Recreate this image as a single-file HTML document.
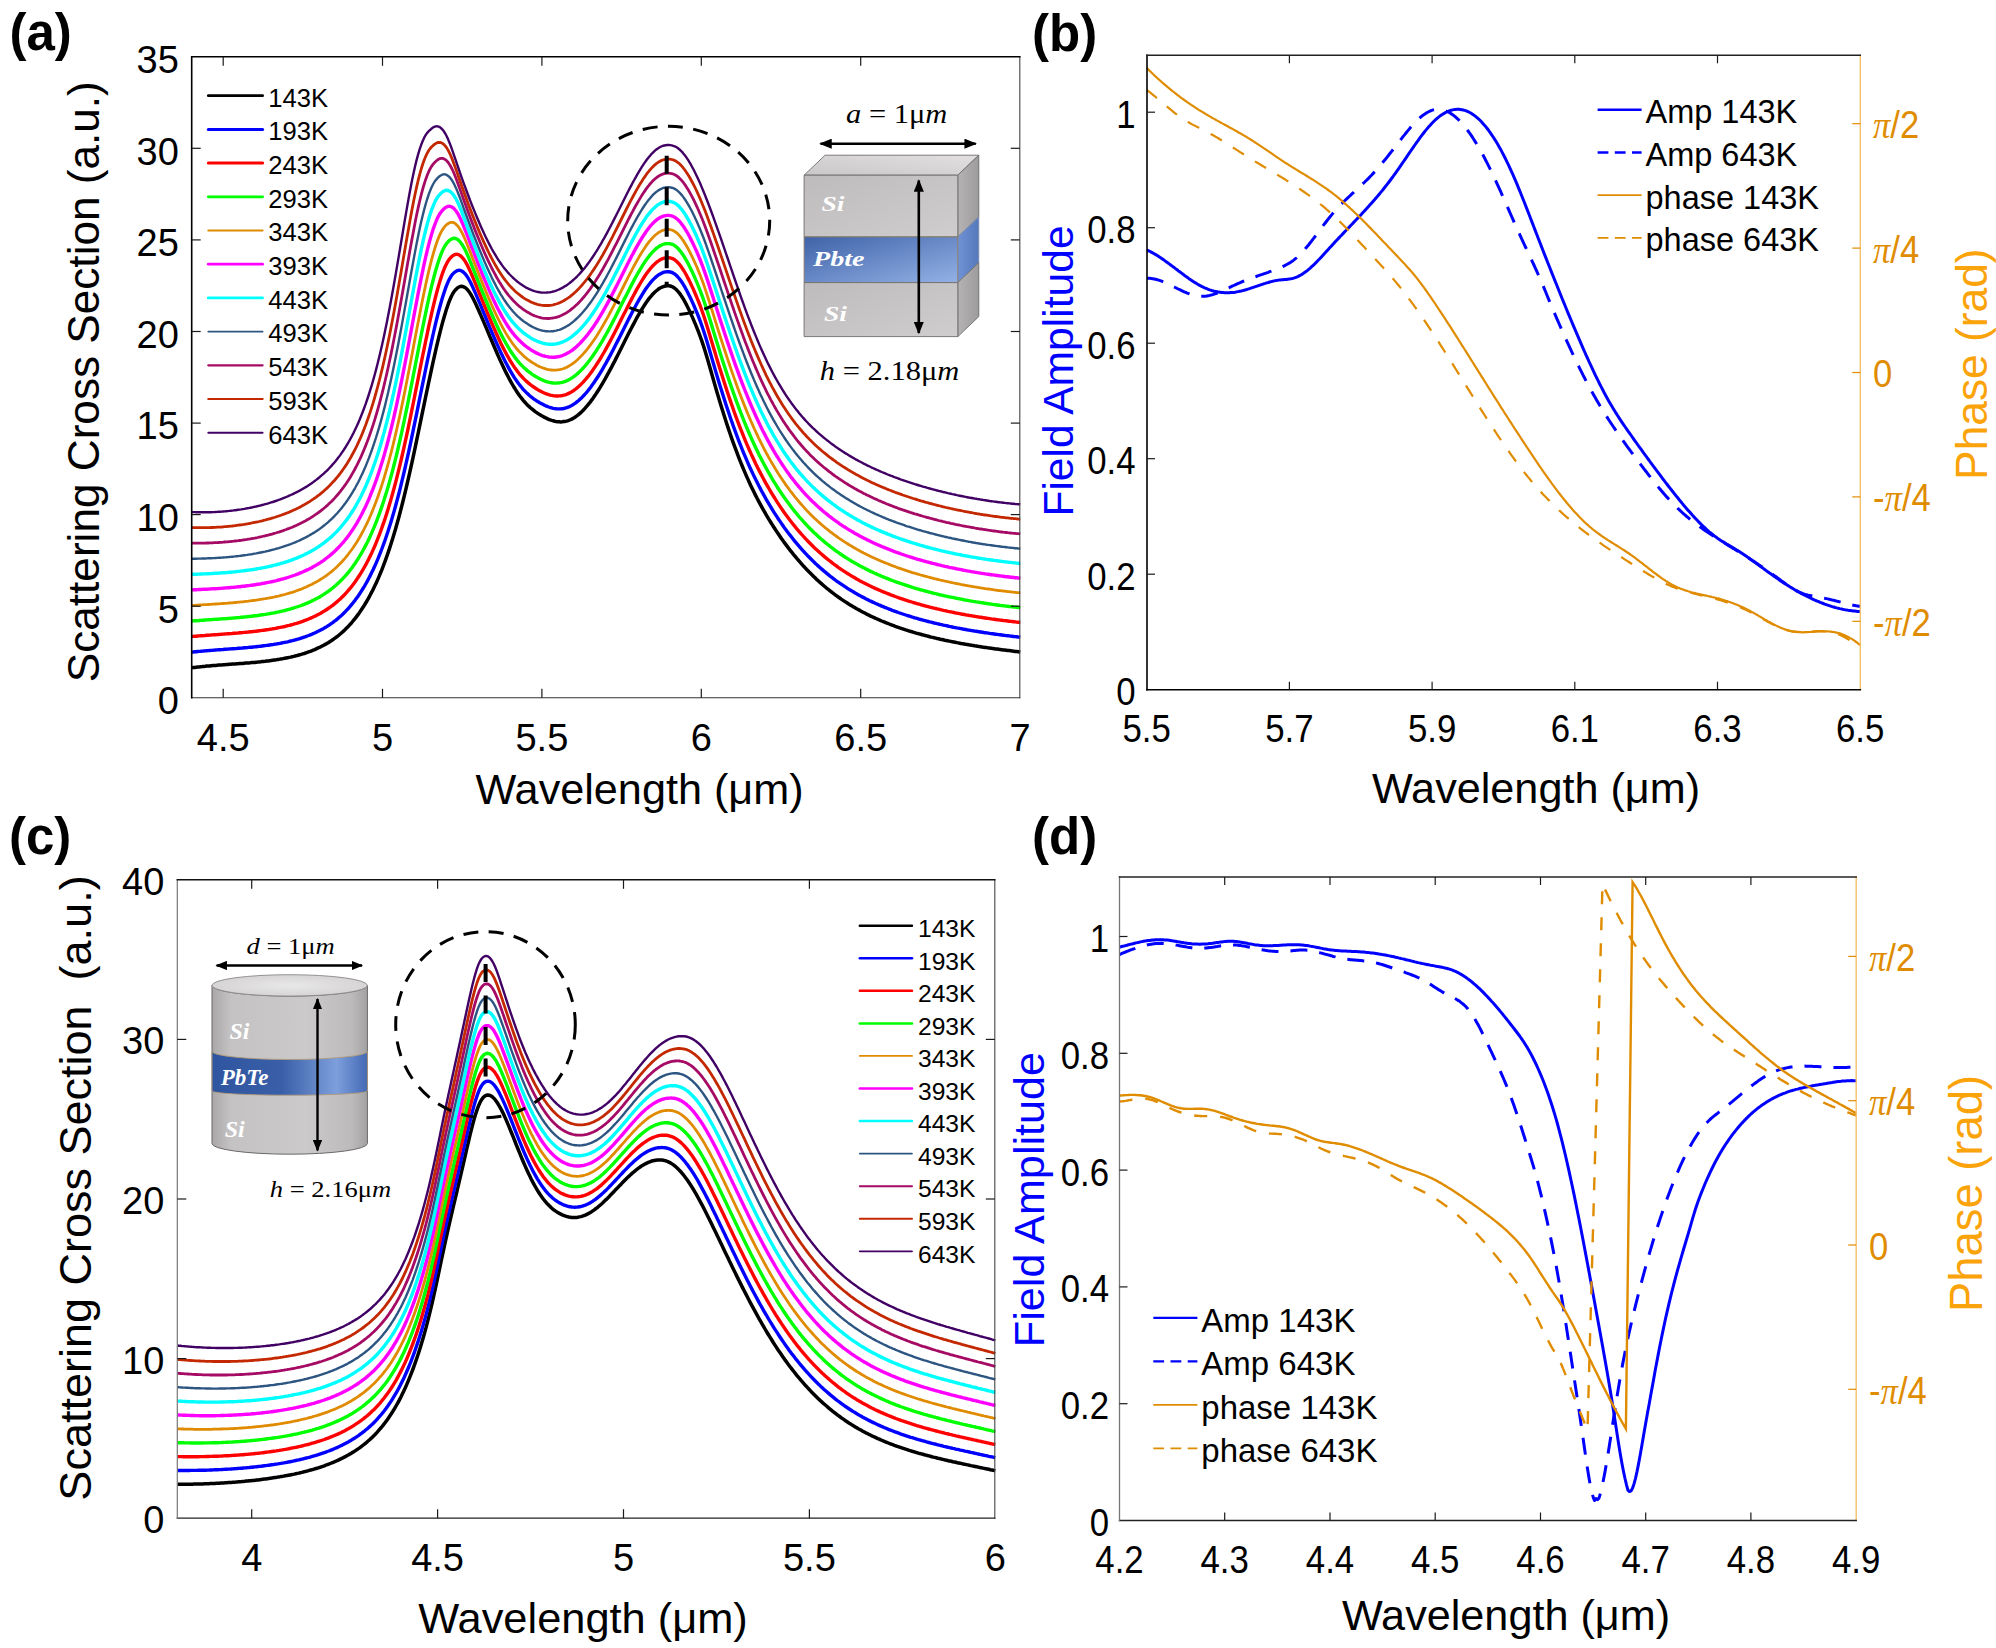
<!DOCTYPE html>
<html><head><meta charset="utf-8"><title>Figure</title>
<style>html,body{margin:0;padding:0;background:#fff}svg{display:block}</style>
</head><body>
<svg width="1996" height="1648" viewBox="0 0 1996 1648" font-family="'Liberation Sans', sans-serif">
<rect width="1996" height="1648" fill="#fff"/>
<defs>
<linearGradient id="gSiF" x1="0" y1="0" x2="1" y2="1"><stop offset="0" stop-color="#bdbbbb"/><stop offset="1" stop-color="#cfcdcd"/></linearGradient>
<linearGradient id="gSiT" x1="0" y1="1" x2="1" y2="0"><stop offset="0" stop-color="#c9c7c7"/><stop offset="1" stop-color="#e2e0e0"/></linearGradient>
<linearGradient id="gSiS" x1="0" y1="0" x2="1" y2="0"><stop offset="0" stop-color="#b5b3b3"/><stop offset="1" stop-color="#9d9b9b"/></linearGradient>
<linearGradient id="gPbF" x1="0" y1="0" x2="1" y2="1"><stop offset="0" stop-color="#3f63a8"/><stop offset="1" stop-color="#93b1e6"/></linearGradient>
<linearGradient id="gPbS" x1="0" y1="0" x2="1" y2="0"><stop offset="0" stop-color="#6f93d4"/><stop offset="1" stop-color="#5578ba"/></linearGradient>
<linearGradient id="gCyl" x1="0" y1="0" x2="1" y2="0"><stop offset="0" stop-color="#a9a7a7"/><stop offset="0.12" stop-color="#c4c2c2"/><stop offset="0.6" stop-color="#cbc9c9"/><stop offset="0.9" stop-color="#bcbaba"/><stop offset="1" stop-color="#a3a1a1"/></linearGradient>
<linearGradient id="gCylPb" x1="0" y1="0" x2="1" y2="0"><stop offset="0" stop-color="#2f55a0"/><stop offset="0.45" stop-color="#3a5fa8"/><stop offset="0.8" stop-color="#7d9fdc"/><stop offset="1" stop-color="#4469b4"/></linearGradient>
<radialGradient id="gCylTop" cx="0.5" cy="0.5" r="0.6"><stop offset="0" stop-color="#e9e8e8"/><stop offset="1" stop-color="#d2d0d0"/></radialGradient>
<marker id="ah" viewBox="0 0 10 10" refX="9" refY="5" markerWidth="4.8" markerHeight="3.9" orient="auto-start-reverse" preserveAspectRatio="none"><path d="M0 0L10 5L0 10z" fill="#000"/></marker>
</defs>
<g id="pa">
<clipPath id="ca"><rect x="191.7" y="56.8" width="829.6" height="641"/></clipPath>
<g clip-path="url(#ca)" fill="none" stroke-linejoin="round">
<path d="M191.7 667.7L193.2 667.5L194.7 667.4L196.2 667.2L197.7 667L199.2 666.9L200.7 666.7L202.2 666.6L203.7 666.4L205.2 666.3L206.7 666.1L208.2 666L209.7 665.9L211.2 665.7L212.7 665.6L214.2 665.5L215.7 665.4L217.2 665.2L218.7 665.1L220.2 665L221.7 664.9L223.2 664.8L224.7 664.7L226.2 664.6L227.7 664.5L229.2 664.3L230.7 664.2L232.2 664.1L233.7 664L235.2 663.9L236.7 663.8L238.2 663.7L239.7 663.6L241.2 663.5L242.7 663.4L244.2 663.2L245.7 663.1L247.2 663L248.7 662.9L250.2 662.8L251.7 662.6L253.2 662.5L254.7 662.4L256.2 662.2L257.7 662.1L259.2 661.9L260.7 661.8L262.2 661.6L263.7 661.4L265.2 661.3L266.7 661.1L268.2 660.9L269.7 660.7L271.2 660.5L272.7 660.3L274.2 660.1L275.7 659.9L277.2 659.6L278.7 659.4L280.2 659.1L281.7 658.9L283.2 658.6L284.7 658.3L286.2 658L287.7 657.7L289.2 657.4L290.7 657.1L292.2 656.7L293.7 656.4L295.2 656L296.7 655.6L298.2 655.2L299.7 654.8L301.2 654.4L302.7 653.9L304.2 653.5L305.7 653L307.2 652.4L308.7 651.9L310.2 651.4L311.7 650.8L313.2 650.2L314.7 649.6L316.2 648.9L317.7 648.2L319.2 647.5L320.7 646.8L322.2 646L323.7 645.2L325.2 644.4L326.7 643.6L328.2 642.7L329.7 641.7L331.2 640.8L332.7 639.8L334.2 638.7L335.7 637.6L337.2 636.5L338.7 635.3L340.2 634L341.7 632.7L343.2 631.4L344.7 630L346.2 628.5L347.7 627L349.2 625.4L350.7 623.8L352.2 622L353.7 620.2L355.2 618.4L356.7 616.4L358.2 614.4L359.7 612.3L361.2 610.1L362.7 607.8L364.2 605.5L365.7 603L367.2 600.5L368.7 597.8L370.2 595L371.7 592.2L373.2 589.2L374.7 586.1L376.2 582.9L377.7 579.6L379.2 576.1L380.7 572.5L382.2 568.8L383.7 564.9L385.2 560.9L386.7 556.7L388.2 552.4L389.7 547.9L391.2 543.3L392.7 538.5L394.2 533.6L395.7 528.4L397.2 523.1L398.7 517.7L400.2 512L401.7 506.2L403.2 500.3L404.7 494.2L406.2 487.9L407.7 481.4L409.2 474.9L410.7 468.1L412.2 461.3L413.7 454.3L415.2 447.3L416.7 440.2L418.2 433L419.7 425.7L421.2 418.4L422.7 411.2L424.2 403.9L425.7 396.7L427.2 389.5L428.7 382.4L430.2 375.4L431.7 368.4L433.2 361.5L434.7 354.8L436.2 348.2L437.7 341.8L439.2 335.6L440.7 329.6L442.2 323.9L443.7 318.5L445.2 313.4L446.7 308.6L448.2 304.2L449.7 300.2L451.2 296.8L452.7 293.8L454.2 291.4L455.7 289.6L457.2 288.2L458.7 287.1L460.2 286.5L461.7 286.3L463.2 286.6L464.7 287.3L466.2 288.4L467.7 290L469.2 291.9L470.7 294.2L472.2 296.8L473.7 299.7L475.2 302.8L476.7 306L478.2 309.3L479.7 312.7L481.2 316.1L482.7 319.6L484.2 323.1L485.7 326.6L487.2 330.2L488.7 333.7L490.2 337.3L491.7 340.8L493.2 344.3L494.7 347.8L496.2 351.3L497.7 354.7L499.2 358.1L500.7 361.4L502.2 364.6L503.7 367.8L505.2 370.9L506.7 373.9L508.2 376.8L509.7 379.7L511.2 382.4L512.7 385L514.2 387.5L515.7 389.9L517.2 392.2L518.7 394.4L520.2 396.5L521.7 398.4L523.2 400.3L524.7 402L526.2 403.7L527.7 405.2L529.2 406.6L530.7 408L532.2 409.2L533.7 410.4L535.2 411.6L536.7 412.6L538.2 413.6L539.7 414.6L541.2 415.5L542.7 416.3L544.2 417.2L545.7 417.9L547.2 418.6L548.7 419.3L550.2 419.9L551.7 420.4L553.2 420.8L554.7 421.2L556.2 421.5L557.7 421.7L559.2 421.8L560.7 421.9L562.2 421.8L563.7 421.6L565.2 421.4L566.7 421.1L568.2 420.6L569.7 420L571.2 419.4L572.7 418.6L574.2 417.7L575.7 416.7L577.2 415.6L578.7 414.4L580.2 413.1L581.7 411.7L583.2 410.2L584.7 408.6L586.2 406.9L587.7 405.2L589.2 403.3L590.7 401.4L592.2 399.4L593.7 397.2L595.2 395.1L596.7 392.8L598.2 390.5L599.7 388.1L601.2 385.6L602.7 383.1L604.2 380.5L605.7 377.9L607.2 375.2L608.7 372.4L610.2 369.6L611.7 366.8L613.2 363.9L614.7 361.1L616.2 358.1L617.7 355.2L619.2 352.2L620.7 349.2L622.2 346.2L623.7 343.3L625.2 340.3L626.7 337.3L628.2 334.3L629.7 331.4L631.2 328.5L632.7 325.6L634.2 322.8L635.7 320L637.2 317.2L638.7 314.6L640.2 312L641.7 309.5L643.2 307.1L644.7 304.8L646.2 302.5L647.7 300.4L649.2 298.4L650.7 296.6L652.2 294.8L653.7 293.2L655.2 291.8L656.7 290.5L658.2 289.3L659.7 288.3L661.2 287.5L662.7 286.8L664.2 286.3L665.7 286L667.2 285.8L668.7 285.8L670.2 286L671.7 286.5L673.2 287.2L674.7 288.2L676.2 289.5L677.7 291.1L679.2 292.9L680.7 294.9L682.2 297.2L683.7 299.7L685.2 302.4L686.7 305.2L688.2 308.2L689.7 311.3L691.2 314.6L692.7 317.9L694.2 321.4L695.7 324.9L697.2 328.6L698.7 332.4L700.2 336.5L701.7 340.7L703.2 345.1L704.7 349.8L706.2 354.7L707.7 359.8L709.2 365L710.7 370.3L712.2 375.5L713.7 380.8L715.2 386L716.7 391.2L718.2 396.3L719.7 401.3L721.2 406.2L722.7 411.1L724.2 415.8L725.7 420.5L727.2 425.1L728.7 429.6L730.2 434L731.7 438.3L733.2 442.6L734.7 446.7L736.2 450.7L737.7 454.7L739.2 458.6L740.7 462.3L742.2 466L743.7 469.6L745.2 473.1L746.7 476.6L748.2 479.9L749.7 483.2L751.2 486.4L752.7 489.5L754.2 492.6L755.7 495.6L757.2 498.5L758.7 501.3L760.2 504.1L761.7 506.9L763.2 509.6L764.7 512.2L766.2 514.8L767.7 517.3L769.2 519.8L770.7 522.2L772.2 524.6L773.7 527L775.2 529.3L776.7 531.6L778.2 533.8L779.7 536L781.2 538.2L782.7 540.3L784.2 542.4L785.7 544.4L787.2 546.4L788.7 548.4L790.2 550.3L791.7 552.2L793.2 554.1L794.7 555.9L796.2 557.7L797.7 559.5L799.2 561.2L800.7 562.9L802.2 564.6L803.7 566.3L805.2 567.9L806.7 569.5L808.2 571L809.7 572.6L811.2 574.1L812.7 575.6L814.2 577L815.7 578.4L817.2 579.9L818.7 581.2L820.2 582.6L821.7 583.9L823.2 585.2L824.7 586.5L826.2 587.8L827.7 589L829.2 590.2L830.7 591.4L832.2 592.5L833.7 593.7L835.2 594.8L836.7 595.9L838.2 597L839.7 598L841.2 599.1L842.7 600.1L844.2 601.1L845.7 602.1L847.2 603L848.7 604L850.2 604.9L851.7 605.8L853.2 606.7L854.7 607.6L856.2 608.5L857.7 609.3L859.2 610.1L860.7 611L862.2 611.8L863.7 612.5L865.2 613.3L866.7 614.1L868.2 614.8L869.7 615.6L871.2 616.3L872.7 617L874.2 617.7L875.7 618.4L877.2 619L878.7 619.7L880.2 620.3L881.7 621L883.2 621.6L884.7 622.2L886.2 622.8L887.7 623.4L889.2 624L890.7 624.6L892.2 625.2L893.7 625.7L895.2 626.3L896.7 626.8L898.2 627.3L899.7 627.9L901.2 628.4L902.7 628.9L904.2 629.4L905.7 629.9L907.2 630.3L908.7 630.8L910.2 631.3L911.7 631.7L913.2 632.2L914.7 632.6L916.2 633.1L917.7 633.5L919.2 633.9L920.7 634.3L922.2 634.7L923.7 635.1L925.2 635.5L926.7 635.9L928.2 636.3L929.7 636.7L931.2 637.1L932.7 637.4L934.2 637.8L935.7 638.1L937.2 638.5L938.7 638.8L940.2 639.2L941.7 639.5L943.2 639.8L944.7 640.2L946.2 640.5L947.7 640.8L949.2 641.1L950.7 641.4L952.2 641.7L953.7 642L955.2 642.3L956.7 642.6L958.2 642.9L959.7 643.2L961.2 643.5L962.7 643.7L964.2 644L965.7 644.3L967.2 644.5L968.7 644.8L970.2 645L971.7 645.3L973.2 645.5L974.7 645.8L976.2 646L977.7 646.3L979.2 646.5L980.7 646.7L982.2 647L983.7 647.2L985.2 647.4L986.7 647.6L988.2 647.9L989.7 648.1L991.2 648.3L992.7 648.5L994.2 648.7L995.7 648.9L997.2 649.1L998.7 649.3L1000.2 649.5L1001.7 649.7L1003.2 649.9L1004.7 650.1L1006.2 650.3L1007.7 650.5L1009.2 650.6L1010.7 650.8L1012.2 651L1013.7 651.2L1015.2 651.4L1016.7 651.5L1018.2 651.7L1019.7 651.9L1020.3 652" stroke="#000000" stroke-width="3.5"/>
<path d="M191.7 652.1L193.2 652L194.7 651.8L196.2 651.7L197.7 651.5L199.2 651.4L200.7 651.3L202.2 651.1L203.7 651L205.2 650.9L206.7 650.7L208.2 650.6L209.7 650.5L211.2 650.4L212.7 650.3L214.2 650.1L215.7 650L217.2 649.9L218.7 649.8L220.2 649.7L221.7 649.6L223.2 649.5L224.7 649.3L226.2 649.2L227.7 649.1L229.2 649L230.7 648.9L232.2 648.8L233.7 648.7L235.2 648.6L236.7 648.5L238.2 648.3L239.7 648.2L241.2 648.1L242.7 648L244.2 647.8L245.7 647.7L247.2 647.6L248.7 647.4L250.2 647.3L251.7 647.2L253.2 647L254.7 646.9L256.2 646.7L257.7 646.5L259.2 646.4L260.7 646.2L262.2 646L263.7 645.8L265.2 645.6L266.7 645.4L268.2 645.2L269.7 645L271.2 644.8L272.7 644.6L274.2 644.3L275.7 644.1L277.2 643.8L278.7 643.6L280.2 643.3L281.7 643L283.2 642.7L284.7 642.4L286.2 642.1L287.7 641.8L289.2 641.4L290.7 641L292.2 640.7L293.7 640.3L295.2 639.9L296.7 639.5L298.2 639L299.7 638.6L301.2 638.1L302.7 637.6L304.2 637.1L305.7 636.6L307.2 636L308.7 635.5L310.2 634.9L311.7 634.3L313.2 633.6L314.7 633L316.2 632.3L317.7 631.5L319.2 630.8L320.7 630L322.2 629.2L323.7 628.4L325.2 627.5L326.7 626.6L328.2 625.6L329.7 624.7L331.2 623.6L332.7 622.6L334.2 621.4L335.7 620.3L337.2 619.1L338.7 617.8L340.2 616.5L341.7 615.2L343.2 613.8L344.7 612.3L346.2 610.7L347.7 609.1L349.2 607.5L350.7 605.7L352.2 603.9L353.7 602L355.2 600.1L356.7 598L358.2 595.9L359.7 593.7L361.2 591.4L362.7 589L364.2 586.6L365.7 584L367.2 581.3L368.7 578.5L370.2 575.6L371.7 572.6L373.2 569.5L374.7 566.2L376.2 562.9L377.7 559.4L379.2 555.7L380.7 551.9L382.2 548L383.7 543.9L385.2 539.7L386.7 535.3L388.2 530.8L389.7 526.1L391.2 521.2L392.7 516.1L394.2 510.9L395.7 505.5L397.2 499.9L398.7 494.2L400.2 488.3L401.7 482.2L403.2 475.9L404.7 469.5L406.2 462.9L407.7 456.1L409.2 449.3L410.7 442.3L412.2 435.1L413.7 427.9L415.2 420.6L416.7 413.3L418.2 405.9L419.7 398.4L421.2 391L422.7 383.6L424.2 376.3L425.7 369L427.2 361.7L428.7 354.6L430.2 347.6L431.7 340.7L433.2 334L434.7 327.4L436.2 321.1L437.7 315L439.2 309.2L440.7 303.7L442.2 298.5L443.7 293.7L445.2 289.2L446.7 285.2L448.2 281.6L449.7 278.6L451.2 276.1L452.7 274.1L454.2 272.6L455.7 271.5L457.2 270.7L458.7 270.3L460.2 270.4L461.7 271L463.2 272L464.7 273.4L466.2 275.2L467.7 277.4L469.2 280L470.7 282.8L472.2 285.9L473.7 289.2L475.2 292.6L476.7 296.1L478.2 299.6L479.7 303.1L481.2 306.7L482.7 310.3L484.2 313.9L485.7 317.5L487.2 321.2L488.7 324.8L490.2 328.3L491.7 331.9L493.2 335.4L494.7 338.9L496.2 342.3L497.7 345.6L499.2 348.9L500.7 352.2L502.2 355.3L503.7 358.4L505.2 361.4L506.7 364.3L508.2 367.1L509.7 369.8L511.2 372.4L512.7 374.9L514.2 377.3L515.7 379.6L517.2 381.7L518.7 383.8L520.2 385.7L521.7 387.5L523.2 389.3L524.7 390.9L526.2 392.4L527.7 393.8L529.2 395.2L530.7 396.5L532.2 397.7L533.7 398.8L535.2 399.8L536.7 400.8L538.2 401.8L539.7 402.7L541.2 403.5L542.7 404.3L544.2 405.1L545.7 405.8L547.2 406.4L548.7 407L550.2 407.5L551.7 407.9L553.2 408.3L554.7 408.6L556.2 408.8L557.7 408.9L559.2 408.9L560.7 408.9L562.2 408.7L563.7 408.5L565.2 408.1L566.7 407.7L568.2 407.2L569.7 406.5L571.2 405.8L572.7 404.9L574.2 403.9L575.7 402.9L577.2 401.7L578.7 400.5L580.2 399.1L581.7 397.7L583.2 396.1L584.7 394.5L586.2 392.8L587.7 391L589.2 389.1L590.7 387.2L592.2 385.1L593.7 383L595.2 380.8L596.7 378.5L598.2 376.2L599.7 373.8L601.2 371.3L602.7 368.8L604.2 366.2L605.7 363.6L607.2 360.9L608.7 358.1L610.2 355.4L611.7 352.5L613.2 349.7L614.7 346.8L616.2 343.8L617.7 340.9L619.2 337.9L620.7 334.9L622.2 331.9L623.7 328.9L625.2 326L626.7 323L628.2 320L629.7 317.1L631.2 314.2L632.7 311.3L634.2 308.5L635.7 305.7L637.2 303L638.7 300.3L640.2 297.8L641.7 295.3L643.2 292.9L644.7 290.5L646.2 288.3L647.7 286.2L649.2 284.3L650.7 282.4L652.2 280.7L653.7 279.1L655.2 277.6L656.7 276.3L658.2 275.2L659.7 274.2L661.2 273.4L662.7 272.7L664.2 272.2L665.7 271.9L667.2 271.7L668.7 271.8L670.2 272L671.7 272.4L673.2 273.1L674.7 274L676.2 275.3L677.7 276.8L679.2 278.5L680.7 280.5L682.2 282.7L683.7 285.1L685.2 287.7L686.7 290.5L688.2 293.4L689.7 296.5L691.2 299.6L692.7 302.9L694.2 306.3L695.7 309.8L697.2 313.4L698.7 317.2L700.2 321.2L701.7 325.3L703.2 329.7L704.7 334.3L706.2 339.1L707.7 344L709.2 349.1L710.7 354.2L712.2 359.4L713.7 364.5L715.2 369.7L716.7 374.7L718.2 379.7L719.7 384.7L721.2 389.5L722.7 394.3L724.2 399.1L725.7 403.7L727.2 408.3L728.7 412.8L730.2 417.2L731.7 421.5L733.2 425.8L734.7 429.9L736.2 434L737.7 438L739.2 441.9L740.7 445.7L742.2 449.5L743.7 453.1L745.2 456.7L746.7 460.2L748.2 463.6L749.7 467L751.2 470.2L752.7 473.4L754.2 476.6L755.7 479.6L757.2 482.6L758.7 485.5L760.2 488.4L761.7 491.2L763.2 493.9L764.7 496.6L766.2 499.3L767.7 501.9L769.2 504.4L770.7 506.9L772.2 509.4L773.7 511.8L775.2 514.1L776.7 516.4L778.2 518.7L779.7 520.9L781.2 523.1L782.7 525.3L784.2 527.4L785.7 529.4L787.2 531.5L788.7 533.5L790.2 535.4L791.7 537.3L793.2 539.2L794.7 541.1L796.2 542.9L797.7 544.7L799.2 546.4L800.7 548.1L802.2 549.8L803.7 551.5L805.2 553.1L806.7 554.7L808.2 556.3L809.7 557.8L811.2 559.3L812.7 560.8L814.2 562.2L815.7 563.7L817.2 565.1L818.7 566.4L820.2 567.8L821.7 569.1L823.2 570.4L824.7 571.7L826.2 572.9L827.7 574.2L829.2 575.4L830.7 576.6L832.2 577.7L833.7 578.8L835.2 580L836.7 581.1L838.2 582.1L839.7 583.2L841.2 584.2L842.7 585.2L844.2 586.2L845.7 587.2L847.2 588.2L848.7 589.1L850.2 590L851.7 590.9L853.2 591.8L854.7 592.7L856.2 593.6L857.7 594.4L859.2 595.2L860.7 596.1L862.2 596.9L863.7 597.6L865.2 598.4L866.7 599.2L868.2 599.9L869.7 600.7L871.2 601.4L872.7 602.1L874.2 602.8L875.7 603.5L877.2 604.1L878.7 604.8L880.2 605.4L881.7 606.1L883.2 606.7L884.7 607.3L886.2 607.9L887.7 608.5L889.2 609.1L890.7 609.7L892.2 610.3L893.7 610.8L895.2 611.4L896.7 611.9L898.2 612.5L899.7 613L901.2 613.5L902.7 614L904.2 614.5L905.7 615L907.2 615.5L908.7 615.9L910.2 616.4L911.7 616.9L913.2 617.3L914.7 617.8L916.2 618.2L917.7 618.6L919.2 619.1L920.7 619.5L922.2 619.9L923.7 620.3L925.2 620.7L926.7 621.1L928.2 621.5L929.7 621.9L931.2 622.2L932.7 622.6L934.2 623L935.7 623.3L937.2 623.7L938.7 624L940.2 624.4L941.7 624.7L943.2 625.1L944.7 625.4L946.2 625.7L947.7 626L949.2 626.4L950.7 626.7L952.2 627L953.7 627.3L955.2 627.6L956.7 627.9L958.2 628.1L959.7 628.4L961.2 628.7L962.7 629L964.2 629.3L965.7 629.5L967.2 629.8L968.7 630.1L970.2 630.3L971.7 630.6L973.2 630.8L974.7 631.1L976.2 631.3L977.7 631.5L979.2 631.8L980.7 632L982.2 632.2L983.7 632.5L985.2 632.7L986.7 632.9L988.2 633.1L989.7 633.4L991.2 633.6L992.7 633.8L994.2 634L995.7 634.2L997.2 634.4L998.7 634.6L1000.2 634.8L1001.7 635L1003.2 635.2L1004.7 635.4L1006.2 635.6L1007.7 635.7L1009.2 635.9L1010.7 636.1L1012.2 636.3L1013.7 636.5L1015.2 636.6L1016.7 636.8L1018.2 637L1019.7 637.1L1020.3 637.2" stroke="#0000ff" stroke-width="3.4"/>
<path d="M191.7 636.6L193.2 636.4L194.7 636.3L196.2 636.2L197.7 636L199.2 635.9L200.7 635.8L202.2 635.7L203.7 635.6L205.2 635.5L206.7 635.3L208.2 635.2L209.7 635.1L211.2 635L212.7 634.9L214.2 634.8L215.7 634.7L217.2 634.6L218.7 634.5L220.2 634.4L221.7 634.2L223.2 634.1L224.7 634L226.2 633.9L227.7 633.8L229.2 633.7L230.7 633.6L232.2 633.5L233.7 633.3L235.2 633.2L236.7 633.1L238.2 633L239.7 632.8L241.2 632.7L242.7 632.6L244.2 632.4L245.7 632.3L247.2 632.1L248.7 632L250.2 631.8L251.7 631.7L253.2 631.5L254.7 631.4L256.2 631.2L257.7 631L259.2 630.8L260.7 630.6L262.2 630.4L263.7 630.2L265.2 630L266.7 629.8L268.2 629.6L269.7 629.3L271.2 629.1L272.7 628.8L274.2 628.6L275.7 628.3L277.2 628L278.7 627.7L280.2 627.4L281.7 627.1L283.2 626.8L284.7 626.5L286.2 626.1L287.7 625.7L289.2 625.4L290.7 625L292.2 624.6L293.7 624.2L295.2 623.7L296.7 623.3L298.2 622.8L299.7 622.3L301.2 621.8L302.7 621.3L304.2 620.7L305.7 620.2L307.2 619.6L308.7 619L310.2 618.3L311.7 617.7L313.2 617L314.7 616.3L316.2 615.6L317.7 614.8L319.2 614L320.7 613.2L322.2 612.3L323.7 611.4L325.2 610.5L326.7 609.5L328.2 608.5L329.7 607.5L331.2 606.4L332.7 605.3L334.2 604.1L335.7 602.9L337.2 601.6L338.7 600.3L340.2 599L341.7 597.5L343.2 596L344.7 594.5L346.2 592.9L347.7 591.2L349.2 589.4L350.7 587.6L352.2 585.7L353.7 583.7L355.2 581.7L356.7 579.5L358.2 577.3L359.7 575L361.2 572.6L362.7 570.1L364.2 567.5L365.7 564.8L367.2 562L368.7 559.1L370.2 556L371.7 552.9L373.2 549.6L374.7 546.2L376.2 542.6L377.7 538.9L379.2 535.1L380.7 531.1L382.2 526.9L383.7 522.6L385.2 518.2L386.7 513.6L388.2 508.8L389.7 503.8L391.2 498.6L392.7 493.3L394.2 487.8L395.7 482.1L397.2 476.2L398.7 470.2L400.2 464L401.7 457.5L403.2 451L404.7 444.2L406.2 437.3L407.7 430.3L409.2 423.1L410.7 415.8L412.2 408.4L413.7 401L415.2 393.4L416.7 385.9L418.2 378.3L419.7 370.7L421.2 363.2L422.7 355.7L424.2 348.3L425.7 341L427.2 333.8L428.7 326.7L430.2 319.8L431.7 313.1L433.2 306.6L434.7 300.4L436.2 294.5L437.7 288.9L439.2 283.6L440.7 278.7L442.2 274.2L443.7 270.1L445.2 266.5L446.7 263.4L448.2 260.8L449.7 258.7L451.2 257.1L452.7 255.8L454.2 254.9L455.7 254.4L457.2 254.3L458.7 254.7L460.2 255.6L461.7 256.9L463.2 258.6L464.7 260.7L466.2 263.1L467.7 265.9L469.2 269L470.7 272.4L472.2 275.8L473.7 279.4L475.2 283L476.7 286.6L478.2 290.3L479.7 294L481.2 297.6L482.7 301.3L484.2 305L485.7 308.6L487.2 312.3L488.7 315.9L490.2 319.4L491.7 323L493.2 326.4L494.7 329.8L496.2 333.2L497.7 336.5L499.2 339.7L500.7 342.9L502.2 345.9L503.7 348.9L505.2 351.8L506.7 354.6L508.2 357.2L509.7 359.8L511.2 362.3L512.7 364.6L514.2 366.9L515.7 369L517.2 371.1L518.7 373L520.2 374.8L521.7 376.5L523.2 378.1L524.7 379.6L526.2 381.1L527.7 382.4L529.2 383.7L530.7 384.9L532.2 386L533.7 387L535.2 388L536.7 389L538.2 389.9L539.7 390.7L541.2 391.5L542.7 392.3L544.2 393L545.7 393.6L547.2 394.2L548.7 394.6L550.2 395.1L551.7 395.4L553.2 395.7L554.7 395.9L556.2 396L557.7 396L559.2 395.9L560.7 395.8L562.2 395.6L563.7 395.2L565.2 394.8L566.7 394.3L568.2 393.6L569.7 392.9L571.2 392.1L572.7 391.2L574.2 390.1L575.7 389L577.2 387.8L578.7 386.5L580.2 385.1L581.7 383.6L583.2 382.1L584.7 380.4L586.2 378.7L587.7 376.9L589.2 375L590.7 373L592.2 370.9L593.7 368.8L595.2 366.6L596.7 364.3L598.2 362L599.7 359.6L601.2 357.1L602.7 354.5L604.2 352L605.7 349.3L607.2 346.6L608.7 343.9L610.2 341.1L611.7 338.2L613.2 335.4L614.7 332.5L616.2 329.5L617.7 326.6L619.2 323.6L620.7 320.6L622.2 317.6L623.7 314.6L625.2 311.7L626.7 308.7L628.2 305.7L629.7 302.8L631.2 299.9L632.7 297L634.2 294.2L635.7 291.4L637.2 288.7L638.7 286.1L640.2 283.5L641.7 281L643.2 278.6L644.7 276.3L646.2 274.1L647.7 272.1L649.2 270.1L650.7 268.2L652.2 266.5L653.7 264.9L655.2 263.5L656.7 262.2L658.2 261.1L659.7 260.1L661.2 259.3L662.7 258.6L664.2 258.1L665.7 257.8L667.2 257.7L668.7 257.7L670.2 257.9L671.7 258.3L673.2 258.9L674.7 259.8L676.2 261L677.7 262.5L679.2 264.1L680.7 266.1L682.2 268.2L683.7 270.5L685.2 273L686.7 275.7L688.2 278.6L689.7 281.6L691.2 284.7L692.7 287.9L694.2 291.3L695.7 294.7L697.2 298.3L698.7 302L700.2 305.9L701.7 310L703.2 314.2L704.7 318.7L706.2 323.4L707.7 328.2L709.2 333.2L710.7 338.2L712.2 343.2L713.7 348.3L715.2 353.3L716.7 358.2L718.2 363.2L719.7 368L721.2 372.8L722.7 377.6L724.2 382.3L725.7 386.9L727.2 391.5L728.7 396L730.2 400.4L731.7 404.7L733.2 409L734.7 413.2L736.2 417.3L737.7 421.3L739.2 425.3L740.7 429.1L742.2 432.9L743.7 436.6L745.2 440.3L746.7 443.8L748.2 447.3L749.7 450.7L751.2 454.1L752.7 457.3L754.2 460.5L755.7 463.7L757.2 466.7L758.7 469.7L760.2 472.6L761.7 475.5L763.2 478.3L764.7 481.1L766.2 483.8L767.7 486.4L769.2 489L770.7 491.6L772.2 494.1L773.7 496.5L775.2 498.9L776.7 501.3L778.2 503.6L779.7 505.9L781.2 508.1L782.7 510.3L784.2 512.4L785.7 514.5L787.2 516.5L788.7 518.6L790.2 520.5L791.7 522.5L793.2 524.4L794.7 526.2L796.2 528.1L797.7 529.9L799.2 531.6L800.7 533.3L802.2 535L803.7 536.7L805.2 538.3L806.7 539.9L808.2 541.5L809.7 543L811.2 544.5L812.7 546L814.2 547.5L815.7 548.9L817.2 550.3L818.7 551.6L820.2 553L821.7 554.3L823.2 555.6L824.7 556.9L826.2 558.1L827.7 559.3L829.2 560.5L830.7 561.7L832.2 562.9L833.7 564L835.2 565.1L836.7 566.2L838.2 567.3L839.7 568.3L841.2 569.4L842.7 570.4L844.2 571.4L845.7 572.3L847.2 573.3L848.7 574.2L850.2 575.2L851.7 576.1L853.2 576.9L854.7 577.8L856.2 578.7L857.7 579.5L859.2 580.4L860.7 581.2L862.2 582L863.7 582.7L865.2 583.5L866.7 584.3L868.2 585L869.7 585.8L871.2 586.5L872.7 587.2L874.2 587.9L875.7 588.6L877.2 589.2L878.7 589.9L880.2 590.5L881.7 591.2L883.2 591.8L884.7 592.4L886.2 593L887.7 593.6L889.2 594.2L890.7 594.8L892.2 595.4L893.7 595.9L895.2 596.5L896.7 597L898.2 597.6L899.7 598.1L901.2 598.6L902.7 599.1L904.2 599.6L905.7 600.1L907.2 600.6L908.7 601.1L910.2 601.5L911.7 602L913.2 602.5L914.7 602.9L916.2 603.4L917.7 603.8L919.2 604.2L920.7 604.6L922.2 605.1L923.7 605.5L925.2 605.9L926.7 606.3L928.2 606.7L929.7 607.1L931.2 607.4L932.7 607.8L934.2 608.2L935.7 608.5L937.2 608.9L938.7 609.2L940.2 609.6L941.7 609.9L943.2 610.3L944.7 610.6L946.2 610.9L947.7 611.3L949.2 611.6L950.7 611.9L952.2 612.2L953.7 612.5L955.2 612.8L956.7 613.1L958.2 613.4L959.7 613.7L961.2 614L962.7 614.2L964.2 614.5L965.7 614.8L967.2 615.1L968.7 615.3L970.2 615.6L971.7 615.8L973.2 616.1L974.7 616.3L976.2 616.6L977.7 616.8L979.2 617.1L980.7 617.3L982.2 617.5L983.7 617.8L985.2 618L986.7 618.2L988.2 618.4L989.7 618.6L991.2 618.9L992.7 619.1L994.2 619.3L995.7 619.5L997.2 619.7L998.7 619.9L1000.2 620.1L1001.7 620.3L1003.2 620.5L1004.7 620.6L1006.2 620.8L1007.7 621L1009.2 621.2L1010.7 621.4L1012.2 621.5L1013.7 621.7L1015.2 621.9L1016.7 622.1L1018.2 622.2L1019.7 622.4L1020.3 622.4" stroke="#ff0000" stroke-width="3.4"/>
<path d="M191.7 621L193.2 620.9L194.7 620.8L196.2 620.7L197.7 620.6L199.2 620.5L200.7 620.4L202.2 620.3L203.7 620.2L205.2 620L206.7 619.9L208.2 619.8L209.7 619.7L211.2 619.6L212.7 619.5L214.2 619.4L215.7 619.3L217.2 619.2L218.7 619.1L220.2 619L221.7 618.9L223.2 618.8L224.7 618.7L226.2 618.6L227.7 618.5L229.2 618.4L230.7 618.2L232.2 618.1L233.7 618L235.2 617.9L236.7 617.7L238.2 617.6L239.7 617.5L241.2 617.3L242.7 617.2L244.2 617L245.7 616.9L247.2 616.7L248.7 616.5L250.2 616.4L251.7 616.2L253.2 616L254.7 615.8L256.2 615.7L257.7 615.5L259.2 615.2L260.7 615L262.2 614.8L263.7 614.6L265.2 614.4L266.7 614.1L268.2 613.9L269.7 613.6L271.2 613.3L272.7 613.1L274.2 612.8L275.7 612.5L277.2 612.2L278.7 611.9L280.2 611.5L281.7 611.2L283.2 610.8L284.7 610.5L286.2 610.1L287.7 609.7L289.2 609.3L290.7 608.9L292.2 608.4L293.7 608L295.2 607.5L296.7 607L298.2 606.5L299.7 606L301.2 605.5L302.7 604.9L304.2 604.3L305.7 603.7L307.2 603.1L308.7 602.4L310.2 601.8L311.7 601.1L313.2 600.3L314.7 599.6L316.2 598.8L317.7 598L319.2 597.2L320.7 596.3L322.2 595.4L323.7 594.4L325.2 593.5L326.7 592.4L328.2 591.4L329.7 590.3L331.2 589.2L332.7 588L334.2 586.7L335.7 585.5L337.2 584.1L338.7 582.7L340.2 581.3L341.7 579.8L343.2 578.2L344.7 576.6L346.2 574.9L347.7 573.1L349.2 571.3L350.7 569.4L352.2 567.4L353.7 565.3L355.2 563.2L356.7 560.9L358.2 558.6L359.7 556.2L361.2 553.6L362.7 551L364.2 548.3L365.7 545.4L367.2 542.5L368.7 539.4L370.2 536.2L371.7 532.9L373.2 529.4L374.7 525.8L376.2 522.1L377.7 518.2L379.2 514.1L380.7 509.9L382.2 505.6L383.7 501L385.2 496.3L386.7 491.4L388.2 486.4L389.7 481.1L391.2 475.7L392.7 470.1L394.2 464.3L395.7 458.3L397.2 452.1L398.7 445.7L400.2 439.1L401.7 432.4L403.2 425.5L404.7 418.4L406.2 411.2L407.7 403.9L409.2 396.4L410.7 388.8L412.2 381.2L413.7 373.5L415.2 365.8L416.7 358L418.2 350.3L419.7 342.6L421.2 335L422.7 327.5L424.2 320.1L425.7 312.8L427.2 305.7L428.7 298.9L430.2 292.2L431.7 285.9L433.2 279.8L434.7 274.1L436.2 268.7L437.7 263.8L439.2 259.2L440.7 255L442.2 251.3L443.7 248.1L445.2 245.5L446.7 243.3L448.2 241.6L449.7 240.2L451.2 239.2L452.7 238.5L454.2 238.3L455.7 238.5L457.2 239.2L458.7 240.4L460.2 241.9L461.7 243.9L463.2 246.3L464.7 249L466.2 252.1L467.7 255.4L469.2 258.9L470.7 262.6L472.2 266.3L473.7 270L475.2 273.8L476.7 277.5L478.2 281.3L479.7 285L481.2 288.8L482.7 292.5L484.2 296.2L485.7 299.8L487.2 303.4L488.7 307L490.2 310.5L491.7 314L493.2 317.4L494.7 320.8L496.2 324.1L497.7 327.3L499.2 330.4L500.7 333.4L502.2 336.4L503.7 339.2L505.2 342L506.7 344.7L508.2 347.2L509.7 349.7L511.2 352L512.7 354.2L514.2 356.3L515.7 358.4L517.2 360.3L518.7 362.1L520.2 363.8L521.7 365.4L523.2 366.9L524.7 368.3L526.2 369.6L527.7 370.9L529.2 372.1L530.7 373.2L532.2 374.3L533.7 375.3L535.2 376.2L536.7 377.1L538.2 377.9L539.7 378.7L541.2 379.5L542.7 380.1L544.2 380.8L545.7 381.3L547.2 381.8L548.7 382.2L550.2 382.5L551.7 382.8L553.2 383L554.7 383.1L556.2 383.1L557.7 383L559.2 382.9L560.7 382.6L562.2 382.3L563.7 381.9L565.2 381.4L566.7 380.8L568.2 380.1L569.7 379.3L571.2 378.4L572.7 377.4L574.2 376.3L575.7 375.2L577.2 373.9L578.7 372.6L580.2 371.1L581.7 369.6L583.2 368L584.7 366.3L586.2 364.6L587.7 362.7L589.2 360.8L590.7 358.8L592.2 356.7L593.7 354.6L595.2 352.4L596.7 350.1L598.2 347.7L599.7 345.3L601.2 342.8L602.7 340.3L604.2 337.7L605.7 335L607.2 332.3L608.7 329.6L610.2 326.8L611.7 324L613.2 321.1L614.7 318.2L616.2 315.2L617.7 312.3L619.2 309.3L620.7 306.3L622.2 303.3L623.7 300.3L625.2 297.4L626.7 294.4L628.2 291.4L629.7 288.5L631.2 285.6L632.7 282.7L634.2 279.9L635.7 277.2L637.2 274.5L638.7 271.8L640.2 269.3L641.7 266.8L643.2 264.4L644.7 262.1L646.2 259.9L647.7 257.9L649.2 255.9L650.7 254.1L652.2 252.4L653.7 250.8L655.2 249.4L656.7 248.1L658.2 247L659.7 246L661.2 245.2L662.7 244.5L664.2 244L665.7 243.7L667.2 243.6L668.7 243.6L670.2 243.8L671.7 244.1L673.2 244.8L674.7 245.6L676.2 246.8L677.7 248.1L679.2 249.8L680.7 251.6L682.2 253.7L683.7 255.9L685.2 258.4L686.7 261L688.2 263.8L689.7 266.7L691.2 269.8L692.7 272.9L694.2 276.2L695.7 279.6L697.2 283.1L698.7 286.8L700.2 290.6L701.7 294.6L703.2 298.8L704.7 303.2L706.2 307.8L707.7 312.5L709.2 317.3L710.7 322.1L712.2 327.1L713.7 332L715.2 336.9L716.7 341.8L718.2 346.6L719.7 351.4L721.2 356.2L722.7 360.9L724.2 365.5L725.7 370.1L727.2 374.7L728.7 379.1L730.2 383.6L731.7 387.9L733.2 392.2L734.7 396.4L736.2 400.6L737.7 404.6L739.2 408.6L740.7 412.5L742.2 416.4L743.7 420.2L745.2 423.9L746.7 427.5L748.2 431L749.7 434.5L751.2 437.9L752.7 441.2L754.2 444.5L755.7 447.7L757.2 450.8L758.7 453.9L760.2 456.9L761.7 459.8L763.2 462.7L764.7 465.5L766.2 468.3L767.7 471L769.2 473.6L770.7 476.2L772.2 478.8L773.7 481.3L775.2 483.7L776.7 486.1L778.2 488.5L779.7 490.8L781.2 493L782.7 495.2L784.2 497.4L785.7 499.5L787.2 501.6L788.7 503.6L790.2 505.6L791.7 507.6L793.2 509.5L794.7 511.4L796.2 513.2L797.7 515L799.2 516.8L800.7 518.5L802.2 520.2L803.7 521.9L805.2 523.5L806.7 525.1L808.2 526.7L809.7 528.2L811.2 529.7L812.7 531.2L814.2 532.7L815.7 534.1L817.2 535.5L818.7 536.9L820.2 538.2L821.7 539.5L823.2 540.8L824.7 542.1L826.2 543.3L827.7 544.5L829.2 545.7L830.7 546.9L832.2 548L833.7 549.2L835.2 550.3L836.7 551.4L838.2 552.4L839.7 553.5L841.2 554.5L842.7 555.5L844.2 556.5L845.7 557.5L847.2 558.4L848.7 559.4L850.2 560.3L851.7 561.2L853.2 562.1L854.7 562.9L856.2 563.8L857.7 564.6L859.2 565.5L860.7 566.3L862.2 567.1L863.7 567.8L865.2 568.6L866.7 569.4L868.2 570.1L869.7 570.9L871.2 571.6L872.7 572.3L874.2 573L875.7 573.7L877.2 574.3L878.7 575L880.2 575.6L881.7 576.3L883.2 576.9L884.7 577.5L886.2 578.1L887.7 578.7L889.2 579.3L890.7 579.9L892.2 580.5L893.7 581L895.2 581.6L896.7 582.1L898.2 582.7L899.7 583.2L901.2 583.7L902.7 584.2L904.2 584.7L905.7 585.2L907.2 585.7L908.7 586.2L910.2 586.7L911.7 587.2L913.2 587.6L914.7 588.1L916.2 588.5L917.7 588.9L919.2 589.4L920.7 589.8L922.2 590.2L923.7 590.6L925.2 591L926.7 591.4L928.2 591.8L929.7 592.2L931.2 592.6L932.7 593L934.2 593.4L935.7 593.7L937.2 594.1L938.7 594.5L940.2 594.8L941.7 595.1L943.2 595.5L944.7 595.8L946.2 596.2L947.7 596.5L949.2 596.8L950.7 597.1L952.2 597.4L953.7 597.7L955.2 598L956.7 598.3L958.2 598.6L959.7 598.9L961.2 599.2L962.7 599.5L964.2 599.8L965.7 600.1L967.2 600.3L968.7 600.6L970.2 600.9L971.7 601.1L973.2 601.4L974.7 601.6L976.2 601.9L977.7 602.1L979.2 602.3L980.7 602.6L982.2 602.8L983.7 603L985.2 603.3L986.7 603.5L988.2 603.7L989.7 603.9L991.2 604.1L992.7 604.4L994.2 604.6L995.7 604.8L997.2 605L998.7 605.2L1000.2 605.4L1001.7 605.6L1003.2 605.7L1004.7 605.9L1006.2 606.1L1007.7 606.3L1009.2 606.5L1010.7 606.6L1012.2 606.8L1013.7 607L1015.2 607.1L1016.7 607.3L1018.2 607.5L1019.7 607.6L1020.3 607.7" stroke="#00ff00" stroke-width="3.4"/>
<path d="M191.7 605.4L193.2 605.3L194.7 605.3L196.2 605.2L197.7 605.1L199.2 605L200.7 604.9L202.2 604.8L203.7 604.7L205.2 604.6L206.7 604.6L208.2 604.5L209.7 604.4L211.2 604.3L212.7 604.2L214.2 604.1L215.7 604L217.2 603.9L218.7 603.8L220.2 603.7L221.7 603.6L223.2 603.5L224.7 603.4L226.2 603.3L227.7 603.1L229.2 603L230.7 602.9L232.2 602.8L233.7 602.6L235.2 602.5L236.7 602.4L238.2 602.2L239.7 602.1L241.2 601.9L242.7 601.8L244.2 601.6L245.7 601.4L247.2 601.3L248.7 601.1L250.2 600.9L251.7 600.7L253.2 600.5L254.7 600.3L256.2 600.1L257.7 599.9L259.2 599.7L260.7 599.4L262.2 599.2L263.7 598.9L265.2 598.7L266.7 598.4L268.2 598.2L269.7 597.9L271.2 597.6L272.7 597.3L274.2 597L275.7 596.6L277.2 596.3L278.7 596L280.2 595.6L281.7 595.2L283.2 594.8L284.7 594.5L286.2 594L287.7 593.6L289.2 593.2L290.7 592.7L292.2 592.3L293.7 591.8L295.2 591.3L296.7 590.7L298.2 590.2L299.7 589.6L301.2 589.1L302.7 588.5L304.2 587.8L305.7 587.2L307.2 586.5L308.7 585.8L310.2 585.1L311.7 584.4L313.2 583.6L314.7 582.8L316.2 582L317.7 581.1L319.2 580.2L320.7 579.3L322.2 578.4L323.7 577.4L325.2 576.3L326.7 575.3L328.2 574.2L329.7 573L331.2 571.8L332.7 570.6L334.2 569.3L335.7 567.9L337.2 566.5L338.7 565.1L340.2 563.5L341.7 562L343.2 560.3L344.7 558.6L346.2 556.8L347.7 555L349.2 553L350.7 551L352.2 549L353.7 546.8L355.2 544.5L356.7 542.2L358.2 539.7L359.7 537.2L361.2 534.5L362.7 531.8L364.2 528.9L365.7 525.9L367.2 522.8L368.7 519.6L370.2 516.2L371.7 512.7L373.2 509L374.7 505.2L376.2 501.3L377.7 497.2L379.2 492.9L380.7 488.5L382.2 483.9L383.7 479.1L385.2 474.1L386.7 468.9L388.2 463.6L389.7 458L391.2 452.3L392.7 446.3L394.2 440.2L395.7 433.9L397.2 427.3L398.7 420.6L400.2 413.7L401.7 406.6L403.2 399.4L404.7 392L406.2 384.5L407.7 376.8L409.2 369.1L410.7 361.3L412.2 353.4L413.7 345.5L415.2 337.6L416.7 329.7L418.2 321.9L419.7 314.2L421.2 306.6L422.7 299.1L424.2 291.8L425.7 284.7L427.2 277.9L428.7 271.4L430.2 265.2L431.7 259.4L433.2 253.9L434.7 248.8L436.2 244.2L437.7 239.9L439.2 236.2L440.7 232.9L442.2 230.1L443.7 227.9L445.2 226L446.7 224.6L448.2 223.5L449.7 222.7L451.2 222.3L452.7 222.4L454.2 222.9L455.7 223.9L457.2 225.4L458.7 227.2L460.2 229.5L461.7 232.1L463.2 235.2L464.7 238.5L466.2 242L467.7 245.7L469.2 249.5L470.7 253.3L472.2 257.2L473.7 261L475.2 264.8L476.7 268.7L478.2 272.5L479.7 276.2L481.2 280L482.7 283.7L484.2 287.4L485.7 291L487.2 294.6L488.7 298.1L490.2 301.6L491.7 305L493.2 308.3L494.7 311.6L496.2 314.8L497.7 317.9L499.2 320.9L500.7 323.9L502.2 326.7L503.7 329.4L505.2 332.1L506.7 334.6L508.2 337L509.7 339.3L511.2 341.5L512.7 343.6L514.2 345.6L515.7 347.5L517.2 349.3L518.7 351L520.2 352.6L521.7 354.1L523.2 355.5L524.7 356.9L526.2 358.1L527.7 359.3L529.2 360.4L530.7 361.5L532.2 362.5L533.7 363.4L535.2 364.3L536.7 365.2L538.2 365.9L539.7 366.7L541.2 367.3L542.7 367.9L544.2 368.4L545.7 368.9L547.2 369.3L548.7 369.6L550.2 369.9L551.7 370L553.2 370.1L554.7 370.2L556.2 370.1L557.7 369.9L559.2 369.7L560.7 369.4L562.2 369L563.7 368.5L565.2 367.9L566.7 367.2L568.2 366.4L569.7 365.6L571.2 364.6L572.7 363.6L574.2 362.5L575.7 361.3L577.2 360L578.7 358.6L580.2 357.1L581.7 355.6L583.2 353.9L584.7 352.2L586.2 350.5L587.7 348.6L589.2 346.6L590.7 344.6L592.2 342.5L593.7 340.4L595.2 338.2L596.7 335.9L598.2 333.5L599.7 331.1L601.2 328.6L602.7 326L604.2 323.4L605.7 320.8L607.2 318.1L608.7 315.3L610.2 312.5L611.7 309.7L613.2 306.8L614.7 303.9L616.2 300.9L617.7 298L619.2 295L620.7 292L622.2 289L623.7 286L625.2 283L626.7 280.1L628.2 277.1L629.7 274.2L631.2 271.3L632.7 268.4L634.2 265.6L635.7 262.9L637.2 260.2L638.7 257.6L640.2 255L641.7 252.6L643.2 250.2L644.7 247.9L646.2 245.7L647.7 243.7L649.2 241.7L650.7 239.9L652.2 238.2L653.7 236.6L655.2 235.2L656.7 234L658.2 232.8L659.7 231.9L661.2 231.1L662.7 230.4L664.2 230L665.7 229.6L667.2 229.5L668.7 229.5L670.2 229.7L671.7 230L673.2 230.6L674.7 231.4L676.2 232.5L677.7 233.8L679.2 235.4L680.7 237.2L682.2 239.2L683.7 241.4L685.2 243.7L686.7 246.3L688.2 249L689.7 251.8L691.2 254.8L692.7 257.9L694.2 261.1L695.7 264.5L697.2 267.9L698.7 271.6L700.2 275.3L701.7 279.2L703.2 283.3L704.7 287.6L706.2 292.1L707.7 296.7L709.2 301.4L710.7 306.1L712.2 310.9L713.7 315.7L715.2 320.5L716.7 325.3L718.2 330.1L719.7 334.8L721.2 339.5L722.7 344.1L724.2 348.8L725.7 353.3L727.2 357.9L728.7 362.3L730.2 366.7L731.7 371.1L733.2 375.4L734.7 379.6L736.2 383.8L737.7 387.9L739.2 392L740.7 395.9L742.2 399.8L743.7 403.7L745.2 407.4L746.7 411.1L748.2 414.7L749.7 418.3L751.2 421.7L752.7 425.1L754.2 428.5L755.7 431.7L757.2 434.9L758.7 438.1L760.2 441.1L761.7 444.1L763.2 447.1L764.7 450L766.2 452.8L767.7 455.5L769.2 458.3L770.7 460.9L772.2 463.5L773.7 466L775.2 468.5L776.7 471L778.2 473.4L779.7 475.7L781.2 478L782.7 480.2L784.2 482.4L785.7 484.6L787.2 486.7L788.7 488.7L790.2 490.8L791.7 492.7L793.2 494.7L794.7 496.6L796.2 498.4L797.7 500.2L799.2 502L800.7 503.7L802.2 505.4L803.7 507.1L805.2 508.8L806.7 510.4L808.2 511.9L809.7 513.5L811.2 515L812.7 516.4L814.2 517.9L815.7 519.3L817.2 520.7L818.7 522.1L820.2 523.4L821.7 524.7L823.2 526L824.7 527.3L826.2 528.5L827.7 529.7L829.2 530.9L830.7 532.1L832.2 533.2L833.7 534.3L835.2 535.4L836.7 536.5L838.2 537.6L839.7 538.6L841.2 539.6L842.7 540.6L844.2 541.6L845.7 542.6L847.2 543.5L848.7 544.5L850.2 545.4L851.7 546.3L853.2 547.2L854.7 548L856.2 548.9L857.7 549.7L859.2 550.6L860.7 551.4L862.2 552.2L863.7 553L865.2 553.7L866.7 554.5L868.2 555.2L869.7 556L871.2 556.7L872.7 557.4L874.2 558.1L875.7 558.8L877.2 559.4L878.7 560.1L880.2 560.7L881.7 561.4L883.2 562L884.7 562.6L886.2 563.2L887.7 563.8L889.2 564.4L890.7 565L892.2 565.6L893.7 566.2L895.2 566.7L896.7 567.3L898.2 567.8L899.7 568.3L901.2 568.8L902.7 569.4L904.2 569.9L905.7 570.4L907.2 570.9L908.7 571.3L910.2 571.8L911.7 572.3L913.2 572.8L914.7 573.2L916.2 573.7L917.7 574.1L919.2 574.5L920.7 575L922.2 575.4L923.7 575.8L925.2 576.2L926.7 576.6L928.2 577L929.7 577.4L931.2 577.8L932.7 578.2L934.2 578.6L935.7 578.9L937.2 579.3L938.7 579.7L940.2 580L941.7 580.4L943.2 580.7L944.7 581L946.2 581.4L947.7 581.7L949.2 582L950.7 582.4L952.2 582.7L953.7 583L955.2 583.3L956.7 583.6L958.2 583.9L959.7 584.2L961.2 584.5L962.7 584.8L964.2 585L965.7 585.3L967.2 585.6L968.7 585.9L970.2 586.1L971.7 586.4L973.2 586.6L974.7 586.9L976.2 587.1L977.7 587.4L979.2 587.6L980.7 587.9L982.2 588.1L983.7 588.3L985.2 588.6L986.7 588.8L988.2 589L989.7 589.2L991.2 589.4L992.7 589.6L994.2 589.9L995.7 590.1L997.2 590.3L998.7 590.5L1000.2 590.6L1001.7 590.8L1003.2 591L1004.7 591.2L1006.2 591.4L1007.7 591.6L1009.2 591.7L1010.7 591.9L1012.2 592.1L1013.7 592.2L1015.2 592.4L1016.7 592.6L1018.2 592.7L1019.7 592.9L1020.3 592.9" stroke="#e08a00" stroke-width="2.8"/>
<path d="M191.7 589.9L193.2 589.8L194.7 589.7L196.2 589.7L197.7 589.6L199.2 589.5L200.7 589.5L202.2 589.4L203.7 589.3L205.2 589.2L206.7 589.2L208.2 589.1L209.7 589L211.2 588.9L212.7 588.8L214.2 588.8L215.7 588.7L217.2 588.6L218.7 588.5L220.2 588.4L221.7 588.3L223.2 588.1L224.7 588L226.2 587.9L227.7 587.8L229.2 587.7L230.7 587.5L232.2 587.4L233.7 587.3L235.2 587.1L236.7 587L238.2 586.8L239.7 586.7L241.2 586.5L242.7 586.3L244.2 586.2L245.7 586L247.2 585.8L248.7 585.6L250.2 585.4L251.7 585.2L253.2 585L254.7 584.8L256.2 584.5L257.7 584.3L259.2 584.1L260.7 583.8L262.2 583.5L263.7 583.3L265.2 583L266.7 582.7L268.2 582.4L269.7 582.1L271.2 581.8L272.7 581.5L274.2 581.1L275.7 580.8L277.2 580.4L278.7 580L280.2 579.6L281.7 579.2L283.2 578.8L284.7 578.4L286.2 578L287.7 577.5L289.2 577L290.7 576.5L292.2 576L293.7 575.5L295.2 575L296.7 574.4L298.2 573.8L299.7 573.2L301.2 572.6L302.7 572L304.2 571.3L305.7 570.6L307.2 569.9L308.7 569.2L310.2 568.4L311.7 567.7L313.2 566.8L314.7 566L316.2 565.1L317.7 564.2L319.2 563.3L320.7 562.3L322.2 561.3L323.7 560.3L325.2 559.2L326.7 558L328.2 556.9L329.7 555.7L331.2 554.4L332.7 553.1L334.2 551.7L335.7 550.3L337.2 548.8L338.7 547.3L340.2 545.7L341.7 544L343.2 542.3L344.7 540.5L346.2 538.7L347.7 536.7L349.2 534.7L350.7 532.6L352.2 530.4L353.7 528.1L355.2 525.7L356.7 523.3L358.2 520.7L359.7 518L361.2 515.2L362.7 512.3L364.2 509.3L365.7 506.2L367.2 502.9L368.7 499.5L370.2 495.9L371.7 492.2L373.2 488.4L374.7 484.4L376.2 480.2L377.7 475.9L379.2 471.3L380.7 466.6L382.2 461.8L383.7 456.7L385.2 451.4L386.7 446L388.2 440.3L389.7 434.4L391.2 428.3L392.7 422.1L394.2 415.6L395.7 408.9L397.2 402L398.7 394.9L400.2 387.7L401.7 380.3L403.2 372.7L404.7 365L406.2 357.2L407.7 349.2L409.2 341.2L410.7 333.2L412.2 325.1L413.7 317L415.2 309L416.7 301.1L418.2 293.3L419.7 285.6L421.2 278.1L422.7 270.8L424.2 263.7L425.7 257L427.2 250.6L428.7 244.6L430.2 239.1L431.7 233.9L433.2 229.1L434.7 224.8L436.2 221L437.7 217.6L439.2 214.8L440.7 212.5L442.2 210.6L443.7 209L445.2 207.8L446.7 206.9L448.2 206.4L449.7 206.3L451.2 206.7L452.7 207.5L454.2 208.8L455.7 210.5L457.2 212.7L458.7 215.2L460.2 218.2L461.7 221.5L463.2 225L464.7 228.8L466.2 232.6L467.7 236.5L469.2 240.5L470.7 244.4L472.2 248.3L473.7 252.2L475.2 256.1L476.7 260L478.2 263.8L479.7 267.6L481.2 271.3L482.7 275L484.2 278.6L485.7 282.2L487.2 285.7L488.7 289.2L490.2 292.6L491.7 295.9L493.2 299.2L494.7 302.3L496.2 305.4L497.7 308.4L499.2 311.3L500.7 314.1L502.2 316.9L503.7 319.5L505.2 322L506.7 324.4L508.2 326.7L509.7 328.9L511.2 330.9L512.7 332.9L514.2 334.8L515.7 336.6L517.2 338.2L518.7 339.8L520.2 341.3L521.7 342.7L523.2 344.1L524.7 345.3L526.2 346.5L527.7 347.6L529.2 348.7L530.7 349.7L532.2 350.6L533.7 351.5L535.2 352.4L536.7 353.1L538.2 353.8L539.7 354.5L541.2 355.1L542.7 355.6L544.2 356L545.7 356.4L547.2 356.7L548.7 357L550.2 357.1L551.7 357.2L553.2 357.2L554.7 357.2L556.2 357L557.7 356.8L559.2 356.5L560.7 356.1L562.2 355.6L563.7 355L565.2 354.4L566.7 353.6L568.2 352.8L569.7 351.9L571.2 350.9L572.7 349.8L574.2 348.6L575.7 347.4L577.2 346L578.7 344.6L580.2 343.1L581.7 341.5L583.2 339.9L584.7 338.2L586.2 336.3L587.7 334.5L589.2 332.5L590.7 330.5L592.2 328.4L593.7 326.2L595.2 324L596.7 321.7L598.2 319.3L599.7 316.9L601.2 314.4L602.7 311.8L604.2 309.2L605.7 306.5L607.2 303.8L608.7 301.1L610.2 298.2L611.7 295.4L613.2 292.5L614.7 289.6L616.2 286.6L617.7 283.7L619.2 280.7L620.7 277.7L622.2 274.7L623.7 271.7L625.2 268.7L626.7 265.8L628.2 262.8L629.7 259.9L631.2 257L632.7 254.2L634.2 251.4L635.7 248.6L637.2 245.9L638.7 243.3L640.2 240.8L641.7 238.3L643.2 236L644.7 233.7L646.2 231.5L647.7 229.5L649.2 227.5L650.7 225.7L652.2 224L653.7 222.5L655.2 221.1L656.7 219.8L658.2 218.7L659.7 217.8L661.2 217L662.7 216.4L664.2 215.9L665.7 215.6L667.2 215.4L668.7 215.4L670.2 215.6L671.7 215.9L673.2 216.5L674.7 217.2L676.2 218.3L677.7 219.5L679.2 221L680.7 222.7L682.2 224.7L683.7 226.8L685.2 229.1L686.7 231.5L688.2 234.2L689.7 237L691.2 239.9L692.7 242.9L694.2 246.1L695.7 249.4L697.2 252.8L698.7 256.3L700.2 260L701.7 263.9L703.2 267.9L704.7 272.1L706.2 276.4L707.7 280.9L709.2 285.5L710.7 290.1L712.2 294.8L713.7 299.5L715.2 304.2L716.7 308.8L718.2 313.5L719.7 318.2L721.2 322.8L722.7 327.4L724.2 332L725.7 336.5L727.2 341L728.7 345.5L730.2 349.9L731.7 354.3L733.2 358.6L734.7 362.9L736.2 367.1L737.7 371.2L739.2 375.3L740.7 379.3L742.2 383.3L743.7 387.2L745.2 391L746.7 394.7L748.2 398.4L749.7 402L751.2 405.6L752.7 409L754.2 412.4L755.7 415.8L757.2 419L758.7 422.2L760.2 425.4L761.7 428.4L763.2 431.5L764.7 434.4L766.2 437.3L767.7 440.1L769.2 442.9L770.7 445.6L772.2 448.2L773.7 450.8L775.2 453.3L776.7 455.8L778.2 458.2L779.7 460.6L781.2 462.9L782.7 465.2L784.2 467.4L785.7 469.6L787.2 471.7L788.7 473.8L790.2 475.9L791.7 477.9L793.2 479.8L794.7 481.7L796.2 483.6L797.7 485.4L799.2 487.2L800.7 488.9L802.2 490.7L803.7 492.3L805.2 494L806.7 495.6L808.2 497.1L809.7 498.7L811.2 500.2L812.7 501.7L814.2 503.1L815.7 504.5L817.2 505.9L818.7 507.3L820.2 508.6L821.7 509.9L823.2 511.2L824.7 512.5L826.2 513.7L827.7 514.9L829.2 516.1L830.7 517.2L832.2 518.4L833.7 519.5L835.2 520.6L836.7 521.7L838.2 522.7L839.7 523.8L841.2 524.8L842.7 525.8L844.2 526.8L845.7 527.7L847.2 528.7L848.7 529.6L850.2 530.5L851.7 531.4L853.2 532.3L854.7 533.2L856.2 534L857.7 534.8L859.2 535.7L860.7 536.5L862.2 537.3L863.7 538.1L865.2 538.8L866.7 539.6L868.2 540.3L869.7 541.1L871.2 541.8L872.7 542.5L874.2 543.2L875.7 543.9L877.2 544.5L878.7 545.2L880.2 545.8L881.7 546.5L883.2 547.1L884.7 547.7L886.2 548.3L887.7 548.9L889.2 549.5L890.7 550.1L892.2 550.7L893.7 551.3L895.2 551.8L896.7 552.4L898.2 552.9L899.7 553.4L901.2 554L902.7 554.5L904.2 555L905.7 555.5L907.2 556L908.7 556.5L910.2 557L911.7 557.4L913.2 557.9L914.7 558.4L916.2 558.8L917.7 559.3L919.2 559.7L920.7 560.1L922.2 560.5L923.7 561L925.2 561.4L926.7 561.8L928.2 562.2L929.7 562.6L931.2 563L932.7 563.4L934.2 563.7L935.7 564.1L937.2 564.5L938.7 564.9L940.2 565.2L941.7 565.6L943.2 565.9L944.7 566.3L946.2 566.6L947.7 566.9L949.2 567.3L950.7 567.6L952.2 567.9L953.7 568.2L955.2 568.5L956.7 568.8L958.2 569.1L959.7 569.4L961.2 569.7L962.7 570L964.2 570.3L965.7 570.6L967.2 570.9L968.7 571.1L970.2 571.4L971.7 571.7L973.2 571.9L974.7 572.2L976.2 572.4L977.7 572.7L979.2 572.9L980.7 573.2L982.2 573.4L983.7 573.6L985.2 573.9L986.7 574.1L988.2 574.3L989.7 574.5L991.2 574.7L992.7 574.9L994.2 575.1L995.7 575.3L997.2 575.5L998.7 575.7L1000.2 575.9L1001.7 576.1L1003.2 576.3L1004.7 576.5L1006.2 576.7L1007.7 576.8L1009.2 577L1010.7 577.2L1012.2 577.3L1013.7 577.5L1015.2 577.7L1016.7 577.8L1018.2 578L1019.7 578.1L1020.3 578.2" stroke="#ff00ff" stroke-width="3.4"/>
<path d="M191.7 574.3L193.2 574.2L194.7 574.2L196.2 574.2L197.7 574.1L199.2 574.1L200.7 574L202.2 574L203.7 573.9L205.2 573.9L206.7 573.8L208.2 573.7L209.7 573.6L211.2 573.6L212.7 573.5L214.2 573.4L215.7 573.3L217.2 573.2L218.7 573.1L220.2 573L221.7 572.9L223.2 572.8L224.7 572.7L226.2 572.6L227.7 572.5L229.2 572.3L230.7 572.2L232.2 572.1L233.7 571.9L235.2 571.8L236.7 571.6L238.2 571.4L239.7 571.3L241.2 571.1L242.7 570.9L244.2 570.7L245.7 570.5L247.2 570.3L248.7 570.1L250.2 569.9L251.7 569.7L253.2 569.5L254.7 569.2L256.2 569L257.7 568.7L259.2 568.4L260.7 568.2L262.2 567.9L263.7 567.6L265.2 567.3L266.7 567L268.2 566.7L269.7 566.3L271.2 566L272.7 565.6L274.2 565.2L275.7 564.9L277.2 564.5L278.7 564.1L280.2 563.7L281.7 563.2L283.2 562.8L284.7 562.3L286.2 561.8L287.7 561.4L289.2 560.8L290.7 560.3L292.2 559.8L293.7 559.2L295.2 558.7L296.7 558.1L298.2 557.4L299.7 556.8L301.2 556.1L302.7 555.5L304.2 554.8L305.7 554L307.2 553.3L308.7 552.5L310.2 551.7L311.7 550.9L313.2 550L314.7 549.1L316.2 548.2L317.7 547.2L319.2 546.3L320.7 545.2L322.2 544.2L323.7 543.1L325.2 541.9L326.7 540.7L328.2 539.5L329.7 538.2L331.2 536.9L332.7 535.5L334.2 534.1L335.7 532.6L337.2 531.1L338.7 529.4L340.2 527.8L341.7 526L343.2 524.2L344.7 522.3L346.2 520.4L347.7 518.3L349.2 516.2L350.7 514L352.2 511.7L353.7 509.3L355.2 506.8L356.7 504.2L358.2 501.5L359.7 498.7L361.2 495.8L362.7 492.7L364.2 489.6L365.7 486.2L367.2 482.8L368.7 479.2L370.2 475.4L371.7 471.5L373.2 467.4L374.7 463.2L376.2 458.8L377.7 454.2L379.2 449.4L380.7 444.4L382.2 439.3L383.7 433.9L385.2 428.3L386.7 422.5L388.2 416.5L389.7 410.3L391.2 403.9L392.7 397.2L394.2 390.4L395.7 383.3L397.2 376.1L398.7 368.6L400.2 361L401.7 353.3L403.2 345.4L404.7 337.3L406.2 329.2L407.7 321L409.2 312.8L410.7 304.6L412.2 296.3L413.7 288.2L415.2 280.1L416.7 272.2L418.2 264.5L419.7 257L421.2 249.7L422.7 242.8L424.2 236.2L425.7 230L427.2 224.2L428.7 218.9L430.2 214.1L431.7 209.7L433.2 205.8L434.7 202.3L436.2 199.4L437.7 197L439.2 195.1L440.7 193.5L442.2 192.2L443.7 191.2L445.2 190.5L446.7 190.3L448.2 190.5L449.7 191.2L451.2 192.3L452.7 193.9L454.2 195.9L455.7 198.3L457.2 201.2L458.7 204.4L460.2 208L461.7 211.7L463.2 215.7L464.7 219.7L466.2 223.7L467.7 227.7L469.2 231.7L470.7 235.7L472.2 239.7L473.7 243.6L475.2 247.5L476.7 251.3L478.2 255.1L479.7 258.9L481.2 262.6L482.7 266.2L484.2 269.8L485.7 273.3L487.2 276.8L488.7 280.2L490.2 283.5L491.7 286.7L493.2 289.9L494.7 292.9L496.2 295.9L497.7 298.8L499.2 301.6L500.7 304.3L502.2 306.9L503.7 309.4L505.2 311.7L506.7 314L508.2 316.2L509.7 318.2L511.2 320.2L512.7 322.1L514.2 323.8L515.7 325.5L517.2 327.1L518.7 328.6L520.2 330L521.7 331.3L523.2 332.6L524.7 333.7L526.2 334.9L527.7 335.9L529.2 336.9L530.7 337.9L532.2 338.7L533.7 339.6L535.2 340.3L536.7 341L538.2 341.7L539.7 342.2L541.2 342.7L542.7 343.2L544.2 343.5L545.7 343.8L547.2 344.1L548.7 344.2L550.2 344.3L551.7 344.3L553.2 344.2L554.7 344.1L556.2 343.9L557.7 343.5L559.2 343.2L560.7 342.7L562.2 342.1L563.7 341.5L565.2 340.8L566.7 340L568.2 339.1L569.7 338.1L571.2 337.1L572.7 335.9L574.2 334.7L575.7 333.4L577.2 332.1L578.7 330.6L580.2 329.1L581.7 327.5L583.2 325.8L584.7 324.1L586.2 322.3L587.7 320.4L589.2 318.4L590.7 316.3L592.2 314.2L593.7 312L595.2 309.8L596.7 307.5L598.2 305.1L599.7 302.7L601.2 300.2L602.7 297.6L604.2 295L605.7 292.3L607.2 289.6L608.7 286.8L610.2 284L611.7 281.1L613.2 278.2L614.7 275.3L616.2 272.4L617.7 269.4L619.2 266.4L620.7 263.4L622.2 260.4L623.7 257.4L625.2 254.4L626.7 251.5L628.2 248.5L629.7 245.6L631.2 242.7L632.7 239.9L634.2 237.1L635.7 234.3L637.2 231.7L638.7 229.1L640.2 226.5L641.7 224.1L643.2 221.7L644.7 219.5L646.2 217.3L647.7 215.3L649.2 213.4L650.7 211.6L652.2 209.9L653.7 208.4L655.2 207L656.7 205.7L658.2 204.6L659.7 203.7L661.2 202.9L662.7 202.3L664.2 201.8L665.7 201.5L667.2 201.3L668.7 201.3L670.2 201.5L671.7 201.8L673.2 202.3L674.7 203.1L676.2 204L677.7 205.2L679.2 206.6L680.7 208.3L682.2 210.1L683.7 212.2L685.2 214.4L686.7 216.8L688.2 219.4L689.7 222.1L691.2 225L692.7 227.9L694.2 231L695.7 234.3L697.2 237.6L698.7 241.1L700.2 244.7L701.7 248.5L703.2 252.5L704.7 256.6L706.2 260.8L707.7 265.1L709.2 269.6L710.7 274.1L712.2 278.6L713.7 283.2L715.2 287.8L716.7 292.4L718.2 297L719.7 301.6L721.2 306.1L722.7 310.7L724.2 315.2L725.7 319.7L727.2 324.2L728.7 328.7L730.2 333.1L731.7 337.5L733.2 341.8L734.7 346.1L736.2 350.3L737.7 354.5L739.2 358.7L740.7 362.7L742.2 366.7L743.7 370.7L745.2 374.5L746.7 378.4L748.2 382.1L749.7 385.8L751.2 389.4L752.7 392.9L754.2 396.4L755.7 399.8L757.2 403.1L758.7 406.4L760.2 409.6L761.7 412.8L763.2 415.8L764.7 418.8L766.2 421.8L767.7 424.7L769.2 427.5L770.7 430.2L772.2 432.9L773.7 435.6L775.2 438.1L776.7 440.7L778.2 443.1L779.7 445.5L781.2 447.9L782.7 450.2L784.2 452.5L785.7 454.7L787.2 456.8L788.7 458.9L790.2 461L791.7 463L793.2 464.9L794.7 466.9L796.2 468.8L797.7 470.6L799.2 472.4L800.7 474.1L802.2 475.9L803.7 477.5L805.2 479.2L806.7 480.8L808.2 482.4L809.7 483.9L811.2 485.4L812.7 486.9L814.2 488.3L815.7 489.7L817.2 491.1L818.7 492.5L820.2 493.8L821.7 495.1L823.2 496.4L824.7 497.6L826.2 498.9L827.7 500.1L829.2 501.2L830.7 502.4L832.2 503.5L833.7 504.7L835.2 505.7L836.7 506.8L838.2 507.9L839.7 508.9L841.2 509.9L842.7 510.9L844.2 511.9L845.7 512.9L847.2 513.8L848.7 514.7L850.2 515.6L851.7 516.5L853.2 517.4L854.7 518.3L856.2 519.1L857.7 520L859.2 520.8L860.7 521.6L862.2 522.4L863.7 523.2L865.2 523.9L866.7 524.7L868.2 525.4L869.7 526.1L871.2 526.9L872.7 527.6L874.2 528.3L875.7 529L877.2 529.6L878.7 530.3L880.2 530.9L881.7 531.6L883.2 532.2L884.7 532.8L886.2 533.4L887.7 534.1L889.2 534.6L890.7 535.2L892.2 535.8L893.7 536.4L895.2 536.9L896.7 537.5L898.2 538L899.7 538.6L901.2 539.1L902.7 539.6L904.2 540.1L905.7 540.6L907.2 541.1L908.7 541.6L910.2 542.1L911.7 542.6L913.2 543L914.7 543.5L916.2 544L917.7 544.4L919.2 544.8L920.7 545.3L922.2 545.7L923.7 546.1L925.2 546.6L926.7 547L928.2 547.4L929.7 547.8L931.2 548.2L932.7 548.6L934.2 548.9L935.7 549.3L937.2 549.7L938.7 550.1L940.2 550.4L941.7 550.8L943.2 551.1L944.7 551.5L946.2 551.8L947.7 552.2L949.2 552.5L950.7 552.8L952.2 553.1L953.7 553.5L955.2 553.8L956.7 554.1L958.2 554.4L959.7 554.7L961.2 555L962.7 555.3L964.2 555.6L965.7 555.8L967.2 556.1L968.7 556.4L970.2 556.7L971.7 556.9L973.2 557.2L974.7 557.4L976.2 557.7L977.7 558L979.2 558.2L980.7 558.4L982.2 558.7L983.7 558.9L985.2 559.1L986.7 559.4L988.2 559.6L989.7 559.8L991.2 560L992.7 560.2L994.2 560.4L995.7 560.6L997.2 560.8L998.7 561L1000.2 561.2L1001.7 561.4L1003.2 561.6L1004.7 561.8L1006.2 561.9L1007.7 562.1L1009.2 562.3L1010.7 562.4L1012.2 562.6L1013.7 562.8L1015.2 562.9L1016.7 563.1L1018.2 563.2L1019.7 563.4L1020.3 563.4" stroke="#00ffff" stroke-width="3.4"/>
<path d="M191.7 558.7L193.2 558.7L194.7 558.7L196.2 558.7L197.7 558.6L199.2 558.6L200.7 558.6L202.2 558.5L203.7 558.5L205.2 558.5L206.7 558.4L208.2 558.3L209.7 558.3L211.2 558.2L212.7 558.1L214.2 558.1L215.7 558L217.2 557.9L218.7 557.8L220.2 557.7L221.7 557.6L223.2 557.5L224.7 557.4L226.2 557.3L227.7 557.1L229.2 557L230.7 556.9L232.2 556.7L233.7 556.6L235.2 556.4L236.7 556.2L238.2 556.1L239.7 555.9L241.2 555.7L242.7 555.5L244.2 555.3L245.7 555.1L247.2 554.9L248.7 554.6L250.2 554.4L251.7 554.2L253.2 553.9L254.7 553.6L256.2 553.4L257.7 553.1L259.2 552.8L260.7 552.5L262.2 552.2L263.7 551.9L265.2 551.6L266.7 551.2L268.2 550.9L269.7 550.5L271.2 550.1L272.7 549.7L274.2 549.4L275.7 548.9L277.2 548.5L278.7 548.1L280.2 547.6L281.7 547.2L283.2 546.7L284.7 546.2L286.2 545.7L287.7 545.2L289.2 544.6L290.7 544.1L292.2 543.5L293.7 542.9L295.2 542.3L296.7 541.6L298.2 541L299.7 540.3L301.2 539.6L302.7 538.9L304.2 538.2L305.7 537.4L307.2 536.6L308.7 535.8L310.2 534.9L311.7 534L313.2 533.1L314.7 532.2L316.2 531.2L317.7 530.2L319.2 529.2L320.7 528.1L322.2 527L323.7 525.8L325.2 524.6L326.7 523.4L328.2 522.1L329.7 520.7L331.2 519.3L332.7 517.9L334.2 516.4L335.7 514.8L337.2 513.2L338.7 511.5L340.2 509.8L341.7 507.9L343.2 506L344.7 504.1L346.2 502L347.7 499.9L349.2 497.6L350.7 495.3L352.2 492.9L353.7 490.4L355.2 487.8L356.7 485L358.2 482.2L359.7 479.2L361.2 476.1L362.7 472.9L364.2 469.6L365.7 466.1L367.2 462.4L368.7 458.6L370.2 454.6L371.7 450.5L373.2 446.2L374.7 441.7L376.2 437L377.7 432.1L379.2 427.1L380.7 421.8L382.2 416.3L383.7 410.6L385.2 404.7L386.7 398.5L388.2 392.2L389.7 385.6L391.2 378.8L392.7 371.8L394.2 364.5L395.7 357.1L397.2 349.5L398.7 341.7L400.2 333.7L401.7 325.6L403.2 317.4L404.7 309.1L406.2 300.7L407.7 292.3L409.2 283.9L410.7 275.5L412.2 267.2L413.7 259.1L415.2 251.1L416.7 243.3L418.2 235.8L419.7 228.6L421.2 221.8L422.7 215.4L424.2 209.5L425.7 204L427.2 199L428.7 194.5L430.2 190.5L431.7 187L433.2 184L434.7 181.5L436.2 179.6L437.7 177.9L439.2 176.5L440.7 175.5L442.2 174.7L443.7 174.3L445.2 174.4L446.7 174.9L448.2 175.9L449.7 177.3L451.2 179.2L452.7 181.5L454.2 184.2L455.7 187.4L457.2 190.9L458.7 194.7L460.2 198.6L461.7 202.7L463.2 206.9L464.7 211L466.2 215.1L467.7 219.2L469.2 223.2L470.7 227.2L472.2 231.2L473.7 235.1L475.2 238.9L476.7 242.7L478.2 246.5L479.7 250.2L481.2 253.8L482.7 257.4L484.2 260.9L485.7 264.4L487.2 267.8L488.7 271.1L490.2 274.3L491.7 277.4L493.2 280.5L494.7 283.4L496.2 286.3L497.7 289L499.2 291.7L500.7 294.3L502.2 296.7L503.7 299.1L505.2 301.3L506.7 303.5L508.2 305.5L509.7 307.5L511.2 309.3L512.7 311.1L514.2 312.7L515.7 314.3L517.2 315.8L518.7 317.2L520.2 318.5L521.7 319.8L523.2 321L524.7 322.1L526.2 323.1L527.7 324.1L529.2 325.1L530.7 325.9L532.2 326.8L533.7 327.5L535.2 328.2L536.7 328.8L538.2 329.4L539.7 329.9L541.2 330.3L542.7 330.7L544.2 330.9L545.7 331.2L547.2 331.3L548.7 331.4L550.2 331.4L551.7 331.3L553.2 331.2L554.7 330.9L556.2 330.6L557.7 330.2L559.2 329.8L560.7 329.3L562.2 328.6L563.7 327.9L565.2 327.2L566.7 326.3L568.2 325.4L569.7 324.4L571.2 323.3L572.7 322.1L574.2 320.9L575.7 319.5L577.2 318.1L578.7 316.7L580.2 315.1L581.7 313.5L583.2 311.8L584.7 310L586.2 308.2L587.7 306.3L589.2 304.3L590.7 302.2L592.2 300.1L593.7 297.9L595.2 295.6L596.7 293.3L598.2 290.9L599.7 288.5L601.2 285.9L602.7 283.4L604.2 280.7L605.7 278.1L607.2 275.3L608.7 272.5L610.2 269.7L611.7 266.8L613.2 263.9L614.7 261L616.2 258.1L617.7 255.1L619.2 252.1L620.7 249.1L622.2 246.1L623.7 243.1L625.2 240.1L626.7 237.2L628.2 234.2L629.7 231.3L631.2 228.4L632.7 225.6L634.2 222.8L635.7 220.1L637.2 217.4L638.7 214.8L640.2 212.3L641.7 209.9L643.2 207.5L644.7 205.3L646.2 203.1L647.7 201.1L649.2 199.2L650.7 197.4L652.2 195.7L653.7 194.2L655.2 192.8L656.7 191.6L658.2 190.5L659.7 189.6L661.2 188.8L662.7 188.2L664.2 187.7L665.7 187.4L667.2 187.3L668.7 187.2L670.2 187.4L671.7 187.7L673.2 188.2L674.7 188.9L676.2 189.8L677.7 190.9L679.2 192.3L680.7 193.9L682.2 195.6L683.7 197.6L685.2 199.8L686.7 202.1L688.2 204.6L689.7 207.2L691.2 210L692.7 212.9L694.2 216L695.7 219.2L697.2 222.5L698.7 225.9L700.2 229.5L701.7 233.2L703.2 237L704.7 241L706.2 245.1L707.7 249.3L709.2 253.7L710.7 258L712.2 262.5L713.7 266.9L715.2 271.4L716.7 275.9L718.2 280.4L719.7 284.9L721.2 289.5L722.7 294L724.2 298.5L725.7 302.9L727.2 307.4L728.7 311.9L730.2 316.3L731.7 320.7L733.2 325L734.7 329.3L736.2 333.6L737.7 337.8L739.2 342L740.7 346.1L742.2 350.2L743.7 354.2L745.2 358.1L746.7 362L748.2 365.8L749.7 369.5L751.2 373.2L752.7 376.8L754.2 380.4L755.7 383.8L757.2 387.2L758.7 390.6L760.2 393.9L761.7 397.1L763.2 400.2L764.7 403.3L766.2 406.3L767.7 409.2L769.2 412.1L770.7 414.9L772.2 417.6L773.7 420.3L775.2 422.9L776.7 425.5L778.2 428L779.7 430.5L781.2 432.9L782.7 435.2L784.2 437.5L785.7 439.7L787.2 441.9L788.7 444L790.2 446.1L791.7 448.1L793.2 450.1L794.7 452L796.2 453.9L797.7 455.8L799.2 457.6L800.7 459.3L802.2 461.1L803.7 462.8L805.2 464.4L806.7 466L808.2 467.6L809.7 469.1L811.2 470.6L812.7 472.1L814.2 473.6L815.7 475L817.2 476.3L818.7 477.7L820.2 479L821.7 480.3L823.2 481.6L824.7 482.8L826.2 484.1L827.7 485.2L829.2 486.4L830.7 487.6L832.2 488.7L833.7 489.8L835.2 490.9L836.7 492L838.2 493L839.7 494L841.2 495.1L842.7 496L844.2 497L845.7 498L847.2 498.9L848.7 499.8L850.2 500.8L851.7 501.6L853.2 502.5L854.7 503.4L856.2 504.2L857.7 505.1L859.2 505.9L860.7 506.7L862.2 507.5L863.7 508.3L865.2 509L866.7 509.8L868.2 510.5L869.7 511.2L871.2 512L872.7 512.7L874.2 513.4L875.7 514.1L877.2 514.7L878.7 515.4L880.2 516L881.7 516.7L883.2 517.3L884.7 517.9L886.2 518.6L887.7 519.2L889.2 519.8L890.7 520.3L892.2 520.9L893.7 521.5L895.2 522L896.7 522.6L898.2 523.1L899.7 523.7L901.2 524.2L902.7 524.7L904.2 525.2L905.7 525.8L907.2 526.3L908.7 526.7L910.2 527.2L911.7 527.7L913.2 528.2L914.7 528.6L916.2 529.1L917.7 529.6L919.2 530L920.7 530.4L922.2 530.9L923.7 531.3L925.2 531.7L926.7 532.1L928.2 532.5L929.7 533L931.2 533.3L932.7 533.7L934.2 534.1L935.7 534.5L937.2 534.9L938.7 535.3L940.2 535.6L941.7 536L943.2 536.3L944.7 536.7L946.2 537L947.7 537.4L949.2 537.7L950.7 538L952.2 538.4L953.7 538.7L955.2 539L956.7 539.3L958.2 539.6L959.7 539.9L961.2 540.2L962.7 540.5L964.2 540.8L965.7 541.1L967.2 541.4L968.7 541.7L970.2 541.9L971.7 542.2L973.2 542.5L974.7 542.7L976.2 543L977.7 543.2L979.2 543.5L980.7 543.7L982.2 544L983.7 544.2L985.2 544.4L986.7 544.7L988.2 544.9L989.7 545.1L991.2 545.3L992.7 545.5L994.2 545.7L995.7 545.9L997.2 546.1L998.7 546.3L1000.2 546.5L1001.7 546.7L1003.2 546.9L1004.7 547L1006.2 547.2L1007.7 547.4L1009.2 547.6L1010.7 547.7L1012.2 547.9L1013.7 548L1015.2 548.2L1016.7 548.3L1018.2 548.5L1019.7 548.6L1020.3 548.7" stroke="#2d5582" stroke-width="2.4"/>
<path d="M191.7 543.1L193.2 543.2L194.7 543.2L196.2 543.2L197.7 543.2L199.2 543.2L200.7 543.1L202.2 543.1L203.7 543.1L205.2 543.1L206.7 543L208.2 543L209.7 542.9L211.2 542.9L212.7 542.8L214.2 542.7L215.7 542.7L217.2 542.6L218.7 542.5L220.2 542.4L221.7 542.3L223.2 542.2L224.7 542L226.2 541.9L227.7 541.8L229.2 541.6L230.7 541.5L232.2 541.3L233.7 541.2L235.2 541L236.7 540.8L238.2 540.7L239.7 540.5L241.2 540.3L242.7 540L244.2 539.8L245.7 539.6L247.2 539.4L248.7 539.1L250.2 538.9L251.7 538.6L253.2 538.3L254.7 538.1L256.2 537.8L257.7 537.5L259.2 537.1L260.7 536.8L262.2 536.5L263.7 536.2L265.2 535.8L266.7 535.4L268.2 535.1L269.7 534.7L271.2 534.3L272.7 533.9L274.2 533.4L275.7 533L277.2 532.5L278.7 532.1L280.2 531.6L281.7 531.1L283.2 530.6L284.7 530L286.2 529.5L287.7 528.9L289.2 528.4L290.7 527.8L292.2 527.2L293.7 526.5L295.2 525.9L296.7 525.2L298.2 524.5L299.7 523.8L301.2 523L302.7 522.3L304.2 521.5L305.7 520.7L307.2 519.8L308.7 519L310.2 518.1L311.7 517.1L313.2 516.2L314.7 515.2L316.2 514.2L317.7 513.1L319.2 512L320.7 510.9L322.2 509.7L323.7 508.5L325.2 507.2L326.7 505.9L328.2 504.5L329.7 503.1L331.2 501.7L332.7 500.2L334.2 498.6L335.7 496.9L337.2 495.2L338.7 493.5L340.2 491.6L341.7 489.7L343.2 487.7L344.7 485.6L346.2 483.5L347.7 481.2L349.2 478.9L350.7 476.5L352.2 473.9L353.7 471.3L355.2 468.5L356.7 465.7L358.2 462.7L359.7 459.5L361.2 456.3L362.7 452.9L364.2 449.3L365.7 445.6L367.2 441.8L368.7 437.7L370.2 433.5L371.7 429.1L373.2 424.6L374.7 419.8L376.2 414.8L377.7 409.7L379.2 404.3L380.7 398.7L382.2 392.8L383.7 386.8L385.2 380.5L386.7 374L388.2 367.2L389.7 360.3L391.2 353.1L392.7 345.6L394.2 338L395.7 330.2L397.2 322.2L398.7 314L400.2 305.7L401.7 297.3L403.2 288.7L404.7 280.2L406.2 271.6L407.7 263L409.2 254.5L410.7 246.1L412.2 237.9L413.7 229.9L415.2 222.1L416.7 214.6L418.2 207.6L419.7 201L421.2 194.8L422.7 189.2L424.2 184L425.7 179.4L427.2 175.3L428.7 171.7L430.2 168.6L431.7 166.1L433.2 164.1L434.7 162.4L436.2 161L437.7 159.8L439.2 158.9L440.7 158.4L442.2 158.3L443.7 158.7L445.2 159.5L446.7 160.8L448.2 162.5L449.7 164.7L451.2 167.3L452.7 170.3L454.2 173.8L455.7 177.6L457.2 181.5L458.7 185.7L460.2 189.9L461.7 194.1L463.2 198.3L464.7 202.5L466.2 206.6L467.7 210.7L469.2 214.8L470.7 218.7L472.2 222.7L473.7 226.6L475.2 230.4L476.7 234.1L478.2 237.8L479.7 241.5L481.2 245L482.7 248.5L484.2 252L485.7 255.3L487.2 258.6L488.7 261.8L490.2 264.9L491.7 268L493.2 270.9L494.7 273.7L496.2 276.5L497.7 279.1L499.2 281.7L500.7 284.1L502.2 286.4L503.7 288.7L505.2 290.8L506.7 292.8L508.2 294.8L509.7 296.6L511.2 298.3L512.7 300L514.2 301.6L515.7 303L517.2 304.4L518.7 305.8L520.2 307L521.7 308.2L523.2 309.3L524.7 310.4L526.2 311.3L527.7 312.3L529.2 313.1L530.7 313.9L532.2 314.7L533.7 315.4L535.2 316L536.7 316.5L538.2 317L539.7 317.4L541.2 317.8L542.7 318.1L544.2 318.3L545.7 318.4L547.2 318.5L548.7 318.5L550.2 318.4L551.7 318.2L553.2 318L554.7 317.7L556.2 317.3L557.7 316.9L559.2 316.4L560.7 315.8L562.2 315.1L563.7 314.3L565.2 313.5L566.7 312.6L568.2 311.6L569.7 310.6L571.2 309.4L572.7 308.2L574.2 307L575.7 305.6L577.2 304.2L578.7 302.7L580.2 301.1L581.7 299.5L583.2 297.7L584.7 296L586.2 294.1L587.7 292.2L589.2 290.2L590.7 288.1L592.2 285.9L593.7 283.7L595.2 281.5L596.7 279.1L598.2 276.7L599.7 274.3L601.2 271.7L602.7 269.2L604.2 266.5L605.7 263.8L607.2 261.1L608.7 258.3L610.2 255.4L611.7 252.6L613.2 249.7L614.7 246.7L616.2 243.8L617.7 240.8L619.2 237.8L620.7 234.8L622.2 231.8L623.7 228.8L625.2 225.8L626.7 222.9L628.2 219.9L629.7 217L631.2 214.1L632.7 211.3L634.2 208.5L635.7 205.8L637.2 203.2L638.7 200.6L640.2 198.1L641.7 195.6L643.2 193.3L644.7 191.1L646.2 188.9L647.7 186.9L649.2 185L650.7 183.2L652.2 181.6L653.7 180.1L655.2 178.7L656.7 177.5L658.2 176.4L659.7 175.5L661.2 174.7L662.7 174.1L664.2 173.6L665.7 173.3L667.2 173.2L668.7 173.2L670.2 173.3L671.7 173.6L673.2 174L674.7 174.7L676.2 175.5L677.7 176.6L679.2 177.9L680.7 179.4L682.2 181.1L683.7 183L685.2 185.1L686.7 187.4L688.2 189.8L689.7 192.4L691.2 195.1L692.7 197.9L694.2 200.9L695.7 204.1L697.2 207.3L698.7 210.7L700.2 214.2L701.7 217.8L703.2 221.6L704.7 225.5L706.2 229.5L707.7 233.6L709.2 237.8L710.7 242L712.2 246.3L713.7 250.7L715.2 255.1L716.7 259.5L718.2 263.9L719.7 268.3L721.2 272.8L722.7 277.2L724.2 281.7L725.7 286.1L727.2 290.6L728.7 295L730.2 299.5L731.7 303.9L733.2 308.2L734.7 312.6L736.2 316.9L737.7 321.1L739.2 325.3L740.7 329.5L742.2 333.6L743.7 337.7L745.2 341.7L746.7 345.6L748.2 349.5L749.7 353.3L751.2 357L752.7 360.7L754.2 364.3L755.7 367.9L757.2 371.3L758.7 374.8L760.2 378.1L761.7 381.4L763.2 384.6L764.7 387.7L766.2 390.8L767.7 393.8L769.2 396.7L770.7 399.6L772.2 402.3L773.7 405.1L775.2 407.7L776.7 410.4L778.2 412.9L779.7 415.4L781.2 417.8L782.7 420.2L784.2 422.5L785.7 424.7L787.2 426.9L788.7 429.1L790.2 431.2L791.7 433.2L793.2 435.2L794.7 437.2L796.2 439.1L797.7 441L799.2 442.8L800.7 444.5L802.2 446.3L803.7 448L805.2 449.6L806.7 451.2L808.2 452.8L809.7 454.4L811.2 455.9L812.7 457.3L814.2 458.8L815.7 460.2L817.2 461.6L818.7 462.9L820.2 464.2L821.7 465.5L823.2 466.8L824.7 468L826.2 469.2L827.7 470.4L829.2 471.6L830.7 472.7L832.2 473.9L833.7 475L835.2 476.1L836.7 477.1L838.2 478.2L839.7 479.2L841.2 480.2L842.7 481.2L844.2 482.2L845.7 483.1L847.2 484L848.7 485L850.2 485.9L851.7 486.8L853.2 487.6L854.7 488.5L856.2 489.3L857.7 490.2L859.2 491L860.7 491.8L862.2 492.6L863.7 493.4L865.2 494.1L866.7 494.9L868.2 495.6L869.7 496.3L871.2 497.1L872.7 497.8L874.2 498.5L875.7 499.1L877.2 499.8L878.7 500.5L880.2 501.1L881.7 501.8L883.2 502.4L884.7 503L886.2 503.7L887.7 504.3L889.2 504.9L890.7 505.4L892.2 506L893.7 506.6L895.2 507.2L896.7 507.7L898.2 508.3L899.7 508.8L901.2 509.3L902.7 509.9L904.2 510.4L905.7 510.9L907.2 511.4L908.7 511.9L910.2 512.4L911.7 512.8L913.2 513.3L914.7 513.8L916.2 514.2L917.7 514.7L919.2 515.2L920.7 515.6L922.2 516L923.7 516.5L925.2 516.9L926.7 517.3L928.2 517.7L929.7 518.1L931.2 518.5L932.7 518.9L934.2 519.3L935.7 519.7L937.2 520.1L938.7 520.5L940.2 520.8L941.7 521.2L943.2 521.6L944.7 521.9L946.2 522.3L947.7 522.6L949.2 522.9L950.7 523.3L952.2 523.6L953.7 523.9L955.2 524.3L956.7 524.6L958.2 524.9L959.7 525.2L961.2 525.5L962.7 525.8L964.2 526.1L965.7 526.4L967.2 526.7L968.7 526.9L970.2 527.2L971.7 527.5L973.2 527.7L974.7 528L976.2 528.3L977.7 528.5L979.2 528.8L980.7 529L982.2 529.2L983.7 529.5L985.2 529.7L986.7 529.9L988.2 530.2L989.7 530.4L991.2 530.6L992.7 530.8L994.2 531L995.7 531.2L997.2 531.4L998.7 531.6L1000.2 531.8L1001.7 532L1003.2 532.2L1004.7 532.3L1006.2 532.5L1007.7 532.7L1009.2 532.8L1010.7 533L1012.2 533.1L1013.7 533.3L1015.2 533.4L1016.7 533.6L1018.2 533.7L1019.7 533.8L1020.3 533.9" stroke="#a50a64" stroke-width="2.8"/>
<path d="M191.7 527.6L193.2 527.6L194.7 527.6L196.2 527.7L197.7 527.7L199.2 527.7L200.7 527.7L202.2 527.7L203.7 527.7L205.2 527.7L206.7 527.6L208.2 527.6L209.7 527.6L211.2 527.5L212.7 527.5L214.2 527.4L215.7 527.3L217.2 527.2L218.7 527.2L220.2 527.1L221.7 527L223.2 526.8L224.7 526.7L226.2 526.6L227.7 526.4L229.2 526.3L230.7 526.1L232.2 526L233.7 525.8L235.2 525.6L236.7 525.4L238.2 525.2L239.7 525L241.2 524.8L242.7 524.6L244.2 524.4L245.7 524.1L247.2 523.9L248.7 523.6L250.2 523.3L251.7 523L253.2 522.7L254.7 522.4L256.2 522.1L257.7 521.8L259.2 521.5L260.7 521.1L262.2 520.8L263.7 520.4L265.2 520L266.7 519.6L268.2 519.2L269.7 518.8L271.2 518.4L272.7 517.9L274.2 517.5L275.7 517L277.2 516.5L278.7 516L280.2 515.5L281.7 515L283.2 514.4L284.7 513.9L286.2 513.3L287.7 512.7L289.2 512.1L290.7 511.4L292.2 510.8L293.7 510.1L295.2 509.4L296.7 508.7L298.2 508L299.7 507.2L301.2 506.4L302.7 505.6L304.2 504.8L305.7 503.9L307.2 503L308.7 502.1L310.2 501.2L311.7 500.2L313.2 499.2L314.7 498.1L316.2 497.1L317.7 495.9L319.2 494.8L320.7 493.6L322.2 492.4L323.7 491.1L325.2 489.7L326.7 488.4L328.2 486.9L329.7 485.5L331.2 483.9L332.7 482.3L334.2 480.7L335.7 479L337.2 477.2L338.7 475.3L340.2 473.4L341.7 471.4L343.2 469.3L344.7 467.1L346.2 464.9L347.7 462.5L349.2 460L350.7 457.5L352.2 454.8L353.7 452L355.2 449.1L356.7 446.1L358.2 442.9L359.7 439.6L361.2 436.2L362.7 432.6L364.2 428.8L365.7 424.9L367.2 420.8L368.7 416.5L370.2 412.1L371.7 407.4L373.2 402.6L374.7 397.5L376.2 392.2L377.7 386.7L379.2 381L380.7 375L382.2 368.8L383.7 362.4L385.2 355.7L386.7 348.8L388.2 341.6L389.7 334.2L391.2 326.6L392.7 318.8L394.2 310.8L395.7 302.5L397.2 294.2L398.7 285.6L400.2 277L401.7 268.3L403.2 259.5L404.7 250.8L406.2 242L407.7 233.4L409.2 224.9L410.7 216.6L412.2 208.6L413.7 200.8L415.2 193.5L416.7 186.6L418.2 180.2L419.7 174.4L421.2 169L422.7 164.3L424.2 160L425.7 156.3L427.2 153.2L428.7 150.5L430.2 148.5L431.7 146.8L433.2 145.4L434.7 144.1L436.2 143.2L437.7 142.5L439.2 142.3L440.7 142.5L442.2 143.2L443.7 144.3L445.2 145.9L446.7 147.9L448.2 150.4L449.7 153.3L451.2 156.7L452.7 160.4L454.2 164.4L455.7 168.6L457.2 172.9L458.7 177.2L460.2 181.5L461.7 185.8L463.2 190L464.7 194.2L466.2 198.3L467.7 202.4L469.2 206.4L470.7 210.3L472.2 214.2L473.7 218L475.2 221.8L476.7 225.5L478.2 229.1L479.7 232.7L481.2 236.2L482.7 239.6L484.2 242.9L485.7 246.2L487.2 249.4L488.7 252.5L490.2 255.5L491.7 258.4L493.2 261.2L494.7 263.9L496.2 266.5L497.7 269.1L499.2 271.5L500.7 273.8L502.2 276L503.7 278.1L505.2 280.1L506.7 282L508.2 283.9L509.7 285.6L511.2 287.2L512.7 288.8L514.2 290.3L515.7 291.7L517.2 293L518.7 294.2L520.2 295.4L521.7 296.5L523.2 297.6L524.7 298.6L526.2 299.5L527.7 300.3L529.2 301.1L530.7 301.9L532.2 302.5L533.7 303.1L535.2 303.7L536.7 304.2L538.2 304.6L539.7 304.9L541.2 305.2L542.7 305.4L544.2 305.5L545.7 305.5L547.2 305.5L548.7 305.5L550.2 305.3L551.7 305.1L553.2 304.8L554.7 304.4L556.2 304L557.7 303.5L559.2 302.9L560.7 302.2L562.2 301.5L563.7 300.7L565.2 299.8L566.7 298.9L568.2 297.9L569.7 296.8L571.2 295.6L572.7 294.4L574.2 293.1L575.7 291.7L577.2 290.2L578.7 288.7L580.2 287.1L581.7 285.5L583.2 283.7L584.7 281.9L586.2 280L587.7 278.1L589.2 276.1L590.7 274L592.2 271.8L593.7 269.6L595.2 267.3L596.7 265L598.2 262.6L599.7 260.1L601.2 257.5L602.7 255L604.2 252.3L605.7 249.6L607.2 246.8L608.7 244L610.2 241.2L611.7 238.3L613.2 235.4L614.7 232.4L616.2 229.5L617.7 226.5L619.2 223.5L620.7 220.5L622.2 217.5L623.7 214.5L625.2 211.5L626.7 208.5L628.2 205.6L629.7 202.7L631.2 199.8L632.7 197L634.2 194.3L635.7 191.5L637.2 188.9L638.7 186.3L640.2 183.8L641.7 181.4L643.2 179.1L644.7 176.9L646.2 174.7L647.7 172.7L649.2 170.8L650.7 169.1L652.2 167.4L653.7 165.9L655.2 164.6L656.7 163.3L658.2 162.3L659.7 161.4L661.2 160.6L662.7 160L664.2 159.6L665.7 159.3L667.2 159.1L668.7 159.1L670.2 159.2L671.7 159.5L673.2 159.9L674.7 160.5L676.2 161.3L677.7 162.3L679.2 163.5L680.7 165L682.2 166.6L683.7 168.5L685.2 170.5L686.7 172.7L688.2 175L689.7 177.5L691.2 180.2L692.7 183L694.2 185.9L695.7 189L697.2 192.2L698.7 195.5L700.2 198.9L701.7 202.5L703.2 206.2L704.7 209.9L706.2 213.8L707.7 217.8L709.2 221.9L710.7 226L712.2 230.2L713.7 234.4L715.2 238.7L716.7 243L718.2 247.3L719.7 251.7L721.2 256.1L722.7 260.5L724.2 264.9L725.7 269.4L727.2 273.8L728.7 278.2L730.2 282.6L731.7 287.1L733.2 291.4L734.7 295.8L736.2 300.1L737.7 304.4L739.2 308.7L740.7 312.9L742.2 317.1L743.7 321.2L745.2 325.2L746.7 329.2L748.2 333.2L749.7 337L751.2 340.9L752.7 344.6L754.2 348.3L755.7 351.9L757.2 355.4L758.7 358.9L760.2 362.3L761.7 365.7L763.2 368.9L764.7 372.1L766.2 375.3L767.7 378.3L769.2 381.3L770.7 384.2L772.2 387.1L773.7 389.8L775.2 392.5L776.7 395.2L778.2 397.8L779.7 400.3L781.2 402.8L782.7 405.2L784.2 407.5L785.7 409.8L787.2 412L788.7 414.2L790.2 416.3L791.7 418.4L793.2 420.4L794.7 422.3L796.2 424.3L797.7 426.1L799.2 428L800.7 429.7L802.2 431.5L803.7 433.2L805.2 434.8L806.7 436.5L808.2 438L809.7 439.6L811.2 441.1L812.7 442.6L814.2 444L815.7 445.4L817.2 446.8L818.7 448.1L820.2 449.4L821.7 450.7L823.2 452L824.7 453.2L826.2 454.4L827.7 455.6L829.2 456.8L830.7 457.9L832.2 459L833.7 460.1L835.2 461.2L836.7 462.3L838.2 463.3L839.7 464.3L841.2 465.3L842.7 466.3L844.2 467.3L845.7 468.2L847.2 469.2L848.7 470.1L850.2 471L851.7 471.9L853.2 472.8L854.7 473.6L856.2 474.5L857.7 475.3L859.2 476.1L860.7 476.9L862.2 477.7L863.7 478.5L865.2 479.2L866.7 480L868.2 480.7L869.7 481.4L871.2 482.2L872.7 482.9L874.2 483.6L875.7 484.2L877.2 484.9L878.7 485.6L880.2 486.2L881.7 486.9L883.2 487.5L884.7 488.1L886.2 488.8L887.7 489.4L889.2 490L890.7 490.5L892.2 491.1L893.7 491.7L895.2 492.3L896.7 492.8L898.2 493.4L899.7 493.9L901.2 494.4L902.7 495L904.2 495.5L905.7 496L907.2 496.5L908.7 497L910.2 497.5L911.7 498L913.2 498.5L914.7 498.9L916.2 499.4L917.7 499.9L919.2 500.3L920.7 500.8L922.2 501.2L923.7 501.6L925.2 502.1L926.7 502.5L928.2 502.9L929.7 503.3L931.2 503.7L932.7 504.1L934.2 504.5L935.7 504.9L937.2 505.3L938.7 505.7L940.2 506L941.7 506.4L943.2 506.8L944.7 507.1L946.2 507.5L947.7 507.8L949.2 508.2L950.7 508.5L952.2 508.8L953.7 509.2L955.2 509.5L956.7 509.8L958.2 510.1L959.7 510.4L961.2 510.7L962.7 511L964.2 511.3L965.7 511.6L967.2 511.9L968.7 512.2L970.2 512.5L971.7 512.7L973.2 513L974.7 513.3L976.2 513.5L977.7 513.8L979.2 514L980.7 514.3L982.2 514.5L983.7 514.8L985.2 515L986.7 515.2L988.2 515.4L989.7 515.7L991.2 515.9L992.7 516.1L994.2 516.3L995.7 516.5L997.2 516.7L998.7 516.9L1000.2 517.1L1001.7 517.3L1003.2 517.4L1004.7 517.6L1006.2 517.8L1007.7 517.9L1009.2 518.1L1010.7 518.3L1012.2 518.4L1013.7 518.6L1015.2 518.7L1016.7 518.8L1018.2 519L1019.7 519.1L1020.3 519.1" stroke="#c32800" stroke-width="2.8"/>
<path d="M191.7 512L193.2 512.1L194.7 512.1L196.2 512.2L197.7 512.2L199.2 512.2L200.7 512.3L202.2 512.3L203.7 512.3L205.2 512.3L206.7 512.3L208.2 512.2L209.7 512.2L211.2 512.2L212.7 512.1L214.2 512.1L215.7 512L217.2 511.9L218.7 511.8L220.2 511.7L221.7 511.6L223.2 511.5L224.7 511.4L226.2 511.2L227.7 511.1L229.2 510.9L230.7 510.8L232.2 510.6L233.7 510.4L235.2 510.2L236.7 510L238.2 509.8L239.7 509.6L241.2 509.4L242.7 509.1L244.2 508.9L245.7 508.6L247.2 508.3L248.7 508.1L250.2 507.8L251.7 507.5L253.2 507.1L254.7 506.8L256.2 506.5L257.7 506.1L259.2 505.8L260.7 505.4L262.2 505L263.7 504.6L265.2 504.2L266.7 503.8L268.2 503.4L269.7 502.9L271.2 502.4L272.7 502L274.2 501.5L275.7 501L277.2 500.5L278.7 499.9L280.2 499.4L281.7 498.8L283.2 498.2L284.7 497.6L286.2 497L287.7 496.4L289.2 495.7L290.7 495L292.2 494.4L293.7 493.6L295.2 492.9L296.7 492.1L298.2 491.4L299.7 490.6L301.2 489.7L302.7 488.9L304.2 488L305.7 487.1L307.2 486.2L308.7 485.2L310.2 484.2L311.7 483.2L313.2 482.1L314.7 481L316.2 479.9L317.7 478.7L319.2 477.5L320.7 476.2L322.2 474.9L323.7 473.6L325.2 472.2L326.7 470.8L328.2 469.3L329.7 467.7L331.2 466.1L332.7 464.4L334.2 462.7L335.7 460.9L337.2 459L338.7 457.1L340.2 455.1L341.7 452.9L343.2 450.8L344.7 448.5L346.2 446.1L347.7 443.6L349.2 441L350.7 438.3L352.2 435.5L353.7 432.6L355.2 429.5L356.7 426.3L358.2 422.9L359.7 419.5L361.2 415.8L362.7 412L364.2 408L365.7 403.9L367.2 399.5L368.7 395L370.2 390.2L371.7 385.3L373.2 380.1L374.7 374.7L376.2 369.1L377.7 363.2L379.2 357.1L380.7 350.8L382.2 344.2L383.7 337.4L385.2 330.3L386.7 322.9L388.2 315.3L389.7 307.5L391.2 299.5L392.7 291.2L394.2 282.8L395.7 274.2L397.2 265.4L398.7 256.6L400.2 247.7L401.7 238.7L403.2 229.8L404.7 220.9L406.2 212.1L407.7 203.6L409.2 195.2L410.7 187.2L412.2 179.6L413.7 172.4L415.2 165.7L416.7 159.6L418.2 154.1L419.7 149.2L421.2 144.8L422.7 141L424.2 137.7L425.7 135L427.2 132.9L428.7 131.2L430.2 129.8L431.7 128.5L433.2 127.4L434.7 126.7L436.2 126.3L437.7 126.4L439.2 126.9L440.7 127.8L442.2 129.3L443.7 131.1L445.2 133.5L446.7 136.3L448.2 139.6L449.7 143.2L451.2 147.2L452.7 151.4L454.2 155.8L455.7 160.2L457.2 164.6L458.7 169L460.2 173.3L461.7 177.6L463.2 181.8L464.7 185.9L466.2 190L467.7 194L469.2 198L470.7 201.9L472.2 205.7L473.7 209.4L475.2 213.1L476.7 216.7L478.2 220.3L479.7 223.8L481.2 227.2L482.7 230.5L484.2 233.8L485.7 236.9L487.2 240L488.7 243L490.2 245.9L491.7 248.7L493.2 251.4L494.7 253.9L496.2 256.4L497.7 258.8L499.2 261.1L500.7 263.3L502.2 265.4L503.7 267.4L505.2 269.3L506.7 271.1L508.2 272.9L509.7 274.5L511.2 276L512.7 277.5L514.2 278.9L515.7 280.2L517.2 281.5L518.7 282.6L520.2 283.8L521.7 284.8L523.2 285.8L524.7 286.7L526.2 287.6L527.7 288.3L529.2 289.1L530.7 289.7L532.2 290.3L533.7 290.8L535.2 291.3L536.7 291.7L538.2 292L539.7 292.3L541.2 292.5L542.7 292.6L544.2 292.6L545.7 292.6L547.2 292.5L548.7 292.4L550.2 292.2L551.7 291.9L553.2 291.5L554.7 291.1L556.2 290.6L557.7 290L559.2 289.4L560.7 288.7L562.2 287.9L563.7 287.1L565.2 286.1L566.7 285.2L568.2 284.1L569.7 283L571.2 281.8L572.7 280.5L574.2 279.2L575.7 277.8L577.2 276.3L578.7 274.7L580.2 273.1L581.7 271.4L583.2 269.7L584.7 267.9L586.2 266L587.7 264L589.2 262L590.7 259.9L592.2 257.7L593.7 255.5L595.2 253.2L596.7 250.8L598.2 248.4L599.7 245.9L601.2 243.4L602.7 240.7L604.2 238.1L605.7 235.4L607.2 232.6L608.7 229.8L610.2 226.9L611.7 224L613.2 221.1L614.7 218.1L616.2 215.2L617.7 212.2L619.2 209.2L620.7 206.2L622.2 203.2L623.7 200.2L625.2 197.2L626.7 194.2L628.2 191.3L629.7 188.4L631.2 185.6L632.7 182.7L634.2 180L635.7 177.3L637.2 174.6L638.7 172.1L640.2 169.6L641.7 167.2L643.2 164.9L644.7 162.6L646.2 160.5L647.7 158.5L649.2 156.7L650.7 154.9L652.2 153.3L653.7 151.8L655.2 150.4L656.7 149.2L658.2 148.2L659.7 147.3L661.2 146.5L662.7 145.9L664.2 145.5L665.7 145.2L667.2 145L668.7 145L670.2 145.1L671.7 145.4L673.2 145.8L674.7 146.3L676.2 147L677.7 148L679.2 149.2L680.7 150.6L682.2 152.1L683.7 153.9L685.2 155.8L686.7 157.9L688.2 160.2L689.7 162.6L691.2 165.2L692.7 168L694.2 170.8L695.7 173.9L697.2 177L698.7 180.3L700.2 183.6L701.7 187.1L703.2 190.7L704.7 194.4L706.2 198.2L707.7 202L709.2 206L710.7 210L712.2 214L713.7 218.2L715.2 222.3L716.7 226.6L718.2 230.8L719.7 235.1L721.2 239.4L722.7 243.8L724.2 248.2L725.7 252.6L727.2 257L728.7 261.4L730.2 265.8L731.7 270.2L733.2 274.7L734.7 279L736.2 283.4L737.7 287.7L739.2 292L740.7 296.3L742.2 300.5L743.7 304.7L745.2 308.8L746.7 312.9L748.2 316.9L749.7 320.8L751.2 324.7L752.7 328.5L754.2 332.2L755.7 335.9L757.2 339.5L758.7 343.1L760.2 346.6L761.7 350L763.2 353.3L764.7 356.6L766.2 359.8L767.7 362.9L769.2 365.9L770.7 368.9L772.2 371.8L773.7 374.6L775.2 377.3L776.7 380L778.2 382.7L779.7 385.2L781.2 387.7L782.7 390.1L784.2 392.5L785.7 394.8L787.2 397.1L788.7 399.3L790.2 401.4L791.7 403.5L793.2 405.5L794.7 407.5L796.2 409.4L797.7 411.3L799.2 413.2L800.7 414.9L802.2 416.7L803.7 418.4L805.2 420.1L806.7 421.7L808.2 423.3L809.7 424.8L811.2 426.3L812.7 427.8L814.2 429.2L815.7 430.6L817.2 432L818.7 433.3L820.2 434.6L821.7 435.9L823.2 437.2L824.7 438.4L826.2 439.6L827.7 440.8L829.2 441.9L830.7 443.1L832.2 444.2L833.7 445.3L835.2 446.4L836.7 447.4L838.2 448.5L839.7 449.5L841.2 450.5L842.7 451.5L844.2 452.4L845.7 453.4L847.2 454.3L848.7 455.2L850.2 456.1L851.7 457L853.2 457.9L854.7 458.7L856.2 459.6L857.7 460.4L859.2 461.2L860.7 462L862.2 462.8L863.7 463.6L865.2 464.3L866.7 465.1L868.2 465.8L869.7 466.5L871.2 467.3L872.7 468L874.2 468.7L875.7 469.3L877.2 470L878.7 470.7L880.2 471.3L881.7 472L883.2 472.6L884.7 473.2L886.2 473.9L887.7 474.5L889.2 475.1L890.7 475.7L892.2 476.2L893.7 476.8L895.2 477.4L896.7 477.9L898.2 478.5L899.7 479L901.2 479.6L902.7 480.1L904.2 480.6L905.7 481.1L907.2 481.6L908.7 482.1L910.2 482.6L911.7 483.1L913.2 483.6L914.7 484.1L916.2 484.5L917.7 485L919.2 485.5L920.7 485.9L922.2 486.4L923.7 486.8L925.2 487.2L926.7 487.7L928.2 488.1L929.7 488.5L931.2 488.9L932.7 489.3L934.2 489.7L935.7 490.1L937.2 490.5L938.7 490.9L940.2 491.2L941.7 491.6L943.2 492L944.7 492.3L946.2 492.7L947.7 493.1L949.2 493.4L950.7 493.7L952.2 494.1L953.7 494.4L955.2 494.7L956.7 495.1L958.2 495.4L959.7 495.7L961.2 496L962.7 496.3L964.2 496.6L965.7 496.9L967.2 497.2L968.7 497.5L970.2 497.7L971.7 498L973.2 498.3L974.7 498.6L976.2 498.8L977.7 499.1L979.2 499.3L980.7 499.6L982.2 499.8L983.7 500.1L985.2 500.3L986.7 500.5L988.2 500.7L989.7 501L991.2 501.2L992.7 501.4L994.2 501.6L995.7 501.8L997.2 502L998.7 502.2L1000.2 502.4L1001.7 502.5L1003.2 502.7L1004.7 502.9L1006.2 503.1L1007.7 503.2L1009.2 503.4L1010.7 503.5L1012.2 503.7L1013.7 503.8L1015.2 504L1016.7 504.1L1018.2 504.2L1019.7 504.3L1020.3 504.4" stroke="#410064" stroke-width="2.4"/>
</g>
<line x1="1019.8" y1="56.8" x2="1019.8" y2="697.8" stroke="#444" stroke-width="1.1" stroke-linecap="square"/>
<line x1="191.7" y1="697.8" x2="1019.8" y2="697.8" stroke="#333" stroke-width="1.1" stroke-linecap="square"/>
<line x1="191.7" y1="56.8" x2="191.7" y2="697.8" stroke="#000" stroke-width="1.6" stroke-linecap="square"/>
<line x1="191.7" y1="56.8" x2="1019.8" y2="56.8" stroke="#000" stroke-width="1.5" stroke-linecap="square"/>
<line x1="223.2" y1="697.8" x2="223.2" y2="688.8" stroke="#1a1a1a" stroke-width="1.2"/>
<line x1="223.2" y1="56.8" x2="223.2" y2="65.8" stroke="#1a1a1a" stroke-width="1.2"/>
<text transform="translate(223.2 751) scale(0.975 1)" font-size="39" text-anchor="middle">4.5</text>
<line x1="382.5" y1="697.8" x2="382.5" y2="688.8" stroke="#1a1a1a" stroke-width="1.2"/>
<line x1="382.5" y1="56.8" x2="382.5" y2="65.8" stroke="#1a1a1a" stroke-width="1.2"/>
<text transform="translate(382.5 751) scale(0.975 1)" font-size="39" text-anchor="middle">5</text>
<line x1="541.9" y1="697.8" x2="541.9" y2="688.8" stroke="#1a1a1a" stroke-width="1.2"/>
<line x1="541.9" y1="56.8" x2="541.9" y2="65.8" stroke="#1a1a1a" stroke-width="1.2"/>
<text transform="translate(541.9 751) scale(0.975 1)" font-size="39" text-anchor="middle">5.5</text>
<line x1="701.3" y1="697.8" x2="701.3" y2="688.8" stroke="#1a1a1a" stroke-width="1.2"/>
<line x1="701.3" y1="56.8" x2="701.3" y2="65.8" stroke="#1a1a1a" stroke-width="1.2"/>
<text transform="translate(701.3 751) scale(0.975 1)" font-size="39" text-anchor="middle">6</text>
<line x1="860.7" y1="697.8" x2="860.7" y2="688.8" stroke="#1a1a1a" stroke-width="1.2"/>
<line x1="860.7" y1="56.8" x2="860.7" y2="65.8" stroke="#1a1a1a" stroke-width="1.2"/>
<text transform="translate(860.7 751) scale(0.975 1)" font-size="39" text-anchor="middle">6.5</text>
<text transform="translate(1020 751) scale(0.975 1)" font-size="39" text-anchor="middle">7</text>
<text transform="translate(178.8 714.1) scale(0.975 1)" font-size="39" text-anchor="end">0</text>
<line x1="191.7" y1="606.2" x2="200.7" y2="606.2" stroke="#1a1a1a" stroke-width="1.2"/>
<line x1="1019.8" y1="606.2" x2="1010.8" y2="606.2" stroke="#1a1a1a" stroke-width="1.2"/>
<text transform="translate(178.8 622.5) scale(0.975 1)" font-size="39" text-anchor="end">5</text>
<line x1="191.7" y1="514.6" x2="200.7" y2="514.6" stroke="#1a1a1a" stroke-width="1.2"/>
<line x1="1019.8" y1="514.6" x2="1010.8" y2="514.6" stroke="#1a1a1a" stroke-width="1.2"/>
<text transform="translate(178.8 530.9) scale(0.975 1)" font-size="39" text-anchor="end">10</text>
<line x1="191.7" y1="423.1" x2="200.7" y2="423.1" stroke="#1a1a1a" stroke-width="1.2"/>
<line x1="1019.8" y1="423.1" x2="1010.8" y2="423.1" stroke="#1a1a1a" stroke-width="1.2"/>
<text transform="translate(178.8 439.4) scale(0.975 1)" font-size="39" text-anchor="end">15</text>
<line x1="191.7" y1="331.5" x2="200.7" y2="331.5" stroke="#1a1a1a" stroke-width="1.2"/>
<line x1="1019.8" y1="331.5" x2="1010.8" y2="331.5" stroke="#1a1a1a" stroke-width="1.2"/>
<text transform="translate(178.8 347.8) scale(0.975 1)" font-size="39" text-anchor="end">20</text>
<line x1="191.7" y1="239.9" x2="200.7" y2="239.9" stroke="#1a1a1a" stroke-width="1.2"/>
<line x1="1019.8" y1="239.9" x2="1010.8" y2="239.9" stroke="#1a1a1a" stroke-width="1.2"/>
<text transform="translate(178.8 256.2) scale(0.975 1)" font-size="39" text-anchor="end">25</text>
<line x1="191.7" y1="148.3" x2="200.7" y2="148.3" stroke="#1a1a1a" stroke-width="1.2"/>
<line x1="1019.8" y1="148.3" x2="1010.8" y2="148.3" stroke="#1a1a1a" stroke-width="1.2"/>
<text transform="translate(178.8 164.6) scale(0.975 1)" font-size="39" text-anchor="end">30</text>
<text transform="translate(178.8 73.1) scale(0.975 1)" font-size="39" text-anchor="end">35</text>
<text x="639.5" y="804.4" font-size="43.2" text-anchor="middle">Wavelength (μm)</text>
<text transform="translate(99 381.7) rotate(-90)" font-size="44.15" text-anchor="middle">Scattering Cross Section (a.u.)</text>
<text x="9.5" y="50.3" font-size="51" font-weight="bold">(a)</text>
<line x1="208.3" y1="95.7" x2="262.6" y2="95.7" stroke="#000000" stroke-width="2.8" stroke-linecap="round"/>
<text x="268.3" y="106.5" font-size="25.6">143K</text>
<line x1="208.3" y1="129.4" x2="262.6" y2="129.4" stroke="#0000ff" stroke-width="3.0" stroke-linecap="round"/>
<text x="268.3" y="140.2" font-size="25.6">193K</text>
<line x1="208.3" y1="163.1" x2="262.6" y2="163.1" stroke="#ff0000" stroke-width="3.0" stroke-linecap="round"/>
<text x="268.3" y="173.9" font-size="25.6">243K</text>
<line x1="208.3" y1="196.8" x2="262.6" y2="196.8" stroke="#00ff00" stroke-width="2.8" stroke-linecap="round"/>
<text x="268.3" y="207.6" font-size="25.6">293K</text>
<line x1="208.3" y1="230.5" x2="262.6" y2="230.5" stroke="#e08a00" stroke-width="2.1" stroke-linecap="round"/>
<text x="268.3" y="241.3" font-size="25.6">343K</text>
<line x1="208.3" y1="264.2" x2="262.6" y2="264.2" stroke="#ff00ff" stroke-width="2.8" stroke-linecap="round"/>
<text x="268.3" y="275" font-size="25.6">393K</text>
<line x1="208.3" y1="297.9" x2="262.6" y2="297.9" stroke="#00ffff" stroke-width="2.8" stroke-linecap="round"/>
<text x="268.3" y="308.7" font-size="25.6">443K</text>
<line x1="208.3" y1="331.6" x2="262.6" y2="331.6" stroke="#2d5582" stroke-width="1.8" stroke-linecap="round"/>
<text x="268.3" y="342.4" font-size="25.6">493K</text>
<line x1="208.3" y1="365.3" x2="262.6" y2="365.3" stroke="#a50a64" stroke-width="2.2" stroke-linecap="round"/>
<text x="268.3" y="376.1" font-size="25.6">543K</text>
<line x1="208.3" y1="399" x2="262.6" y2="399" stroke="#c32800" stroke-width="2.2" stroke-linecap="round"/>
<text x="268.3" y="409.8" font-size="25.6">593K</text>
<line x1="208.3" y1="432.7" x2="262.6" y2="432.7" stroke="#410064" stroke-width="1.9" stroke-linecap="round"/>
<text x="268.3" y="443.5" font-size="25.6">643K</text>
<ellipse cx="668.7" cy="220.7" rx="101" ry="94.4" fill="none" stroke="#000" stroke-width="3.0" stroke-dasharray="15 10.5"/>
<line x1="666.7" y1="155.8" x2="666.7" y2="286" stroke="#000" stroke-width="4.0" stroke-dasharray="18 13.5"/>
<g id="boxa">
<polygon points="804.1,175.2 825.1,155.2 978.8,155.2 957.8,175.2" fill="url(#gSiT)" stroke="#6e6c6c" stroke-width="0.9" stroke-linejoin="round"/>
<polygon points="957.8,175.2 978.8,155.2 978.8,216.9 957.8,236.9" fill="url(#gSiS)" stroke="#6e6c6c" stroke-width="0.9" stroke-linejoin="round"/>
<polygon points="957.8,236.9 978.8,216.9 978.8,262.6 957.8,282.6" fill="url(#gPbS)" stroke="#7d8fb0" stroke-width="0.9" stroke-linejoin="round"/>
<polygon points="957.8,282.6 978.8,262.6 978.8,316.6 957.8,336.6" fill="url(#gSiS)" stroke="#6e6c6c" stroke-width="0.9" stroke-linejoin="round"/>
<polygon points="804.1,175.2 957.8,175.2 957.8,236.9 804.1,236.9" fill="url(#gSiF)" stroke="#6e6c6c" stroke-width="0.9" stroke-linejoin="round"/>
<polygon points="804.1,236.9 957.8,236.9 957.8,282.6 804.1,282.6" fill="url(#gPbF)" stroke="#8a7a66" stroke-width="0.9" stroke-linejoin="round"/>
<polygon points="804.1,282.6 957.8,282.6 957.8,336.6 804.1,336.6" fill="url(#gSiF)" stroke="#6e6c6c" stroke-width="0.9" stroke-linejoin="round"/>
</g>
<line x1="820.5" y1="143.7" x2="975.7" y2="143.7" stroke="#000" stroke-width="2.6" marker-start="url(#ah)" marker-end="url(#ah)"/>
<line x1="918.8" y1="180.5" x2="918.8" y2="333" stroke="#000" stroke-width="2.6" marker-start="url(#ah)" marker-end="url(#ah)"/>
<text transform="translate(896.7 122.6) scale(1.13 1)" font-size="27" text-anchor="middle" font-family="'Liberation Serif', serif"><tspan font-style='italic'>a</tspan> = 1μ<tspan font-style='italic'>m</tspan></text>
<text transform="translate(889.6 380.4) scale(1.13 1)" font-size="27" text-anchor="middle" font-family="'Liberation Serif', serif"><tspan font-style='italic'>h</tspan> = 2.18μ<tspan font-style='italic'>m</tspan></text>
<text transform="translate(821.4 211) scale(1.25 1)" font-size="22" font-weight="bold" font-style="italic" font-family="'Liberation Serif', serif" fill="#fff">Si</text>
<text transform="translate(813 266.3) scale(1.28 1)" font-size="22" font-weight="bold" font-style="italic" font-family="'Liberation Serif', serif" fill="#fff">Pbte</text>
<text transform="translate(824 321) scale(1.25 1)" font-size="22" font-weight="bold" font-style="italic" font-family="'Liberation Serif', serif" fill="#fff">Si</text>
</g>
<g id="pb">
<clipPath id="cb"><rect x="1147" y="55.3" width="714.3" height="634.4"/></clipPath>
<g clip-path="url(#cb)" fill="none" stroke-linejoin="round">
<path d="M1146.7 249.9L1148.2 250.6L1149.7 251.3L1151.2 252.1L1152.7 252.9L1154.2 253.7L1155.7 254.6L1157.2 255.5L1158.7 256.5L1160.2 257.5L1161.7 258.5L1163.2 259.5L1164.7 260.6L1166.2 261.7L1167.7 262.8L1169.2 263.9L1170.7 265L1172.2 266.1L1173.7 267.2L1175.2 268.4L1176.7 269.5L1178.2 270.7L1179.7 271.8L1181.2 272.9L1182.7 274L1184.2 275.2L1185.7 276.3L1187.2 277.3L1188.7 278.4L1190.2 279.4L1191.7 280.4L1193.2 281.4L1194.7 282.4L1196.2 283.3L1197.7 284.2L1199.2 285.1L1200.7 285.9L1202.2 286.7L1203.7 287.4L1205.2 288.1L1206.7 288.7L1208.2 289.3L1209.7 289.9L1211.2 290.3L1212.7 290.8L1214.2 291.2L1215.7 291.5L1217.2 291.8L1218.7 292.1L1220.2 292.3L1221.7 292.5L1223.2 292.6L1224.7 292.7L1226.2 292.8L1227.7 292.8L1229.2 292.7L1230.7 292.6L1232.2 292.5L1233.7 292.4L1235.2 292.2L1236.7 291.9L1238.2 291.6L1239.7 291.3L1241.2 291L1242.7 290.6L1244.2 290.2L1245.7 289.8L1247.2 289.3L1248.7 288.9L1250.2 288.4L1251.7 287.9L1253.2 287.4L1254.7 286.9L1256.2 286.4L1257.7 285.9L1259.2 285.3L1260.7 284.8L1262.2 284.3L1263.7 283.8L1265.2 283.4L1266.7 282.9L1268.2 282.5L1269.7 282L1271.2 281.6L1272.7 281.3L1274.2 280.9L1275.7 280.6L1277.2 280.4L1278.7 280.1L1280.2 279.9L1281.7 279.8L1283.2 279.7L1284.7 279.5L1286.2 279.4L1287.7 279.2L1289.2 279L1290.7 278.8L1292.2 278.5L1293.7 278.1L1295.2 277.6L1296.7 277.1L1298.2 276.4L1299.7 275.6L1301.2 274.8L1302.7 273.9L1304.2 272.8L1305.7 271.7L1307.2 270.6L1308.7 269.3L1310.2 268.1L1311.7 266.7L1313.2 265.3L1314.7 263.9L1316.2 262.4L1317.7 260.8L1319.2 259.3L1320.7 257.7L1322.2 256.1L1323.7 254.4L1325.2 252.8L1326.7 251.1L1328.2 249.5L1329.7 247.8L1331.2 246.2L1332.7 244.6L1334.2 242.9L1335.7 241.3L1337.2 239.7L1338.7 238.1L1340.2 236.5L1341.7 235L1343.2 233.4L1344.7 231.8L1346.2 230.2L1347.7 228.7L1349.2 227.1L1350.7 225.5L1352.2 224L1353.7 222.4L1355.2 220.8L1356.7 219.2L1358.2 217.6L1359.7 216.1L1361.2 214.5L1362.7 212.8L1364.2 211.2L1365.7 209.6L1367.2 207.9L1368.7 206.3L1370.2 204.6L1371.7 202.9L1373.2 201.2L1374.7 199.5L1376.2 197.7L1377.7 196L1379.2 194.2L1380.7 192.4L1382.2 190.6L1383.7 188.7L1385.2 186.8L1386.7 184.9L1388.2 183L1389.7 181L1391.2 179L1392.7 177L1394.2 174.9L1395.7 172.8L1397.2 170.7L1398.7 168.6L1400.2 166.4L1401.7 164.2L1403.2 162L1404.7 159.8L1406.2 157.6L1407.7 155.4L1409.2 153.2L1410.7 151L1412.2 148.8L1413.7 146.6L1415.2 144.5L1416.7 142.3L1418.2 140.3L1419.7 138.2L1421.2 136.2L1422.7 134.2L1424.2 132.3L1425.7 130.4L1427.2 128.6L1428.7 126.8L1430.2 125.2L1431.7 123.5L1433.2 122L1434.7 120.5L1436.2 119.1L1437.7 117.8L1439.2 116.6L1440.7 115.5L1442.2 114.5L1443.7 113.6L1445.2 112.7L1446.7 112L1448.2 111.3L1449.7 110.7L1451.2 110.3L1452.7 109.9L1454.2 109.6L1455.7 109.4L1457.2 109.3L1458.7 109.3L1460.2 109.5L1461.7 109.7L1463.2 110L1464.7 110.4L1466.2 110.9L1467.7 111.5L1469.2 112.2L1470.7 113L1472.2 114L1473.7 115L1475.2 116.1L1476.7 117.3L1478.2 118.6L1479.7 120L1481.2 121.5L1482.7 123.2L1484.2 124.9L1485.7 126.6L1487.2 128.5L1488.7 130.5L1490.2 132.6L1491.7 134.8L1493.2 137L1494.7 139.4L1496.2 141.8L1497.7 144.3L1499.2 146.9L1500.7 149.6L1502.2 152.4L1503.7 155.3L1505.2 158.2L1506.7 161.3L1508.2 164.4L1509.7 167.6L1511.2 170.9L1512.7 174.2L1514.2 177.7L1515.7 181.2L1517.2 184.7L1518.7 188.4L1520.2 192L1521.7 195.7L1523.2 199.5L1524.7 203.3L1526.2 207.1L1527.7 211L1529.2 214.8L1530.7 218.7L1532.2 222.6L1533.7 226.5L1535.2 230.4L1536.7 234.3L1538.2 238.2L1539.7 242L1541.2 245.9L1542.7 249.7L1544.2 253.6L1545.7 257.4L1547.2 261.2L1548.7 265L1550.2 268.8L1551.7 272.6L1553.2 276.3L1554.7 280.1L1556.2 283.8L1557.7 287.5L1559.2 291.3L1560.7 295L1562.2 298.7L1563.7 302.3L1565.2 306L1566.7 309.7L1568.2 313.3L1569.7 316.9L1571.2 320.5L1572.7 324.1L1574.2 327.6L1575.7 331.2L1577.2 334.7L1578.7 338.2L1580.2 341.7L1581.7 345.1L1583.2 348.6L1584.7 352L1586.2 355.3L1587.7 358.7L1589.2 362L1590.7 365.2L1592.2 368.4L1593.7 371.6L1595.2 374.8L1596.7 377.9L1598.2 380.9L1599.7 384L1601.2 386.9L1602.7 389.8L1604.2 392.7L1605.7 395.5L1607.2 398.2L1608.7 400.9L1610.2 403.5L1611.7 406.1L1613.2 408.6L1614.7 411L1616.2 413.4L1617.7 415.8L1619.2 418.1L1620.7 420.4L1622.2 422.6L1623.7 424.8L1625.2 427L1626.7 429.2L1628.2 431.3L1629.7 433.4L1631.2 435.5L1632.7 437.6L1634.2 439.8L1635.7 441.9L1637.2 444L1638.7 446.1L1640.2 448.1L1641.7 450.2L1643.2 452.3L1644.7 454.4L1646.2 456.4L1647.7 458.5L1649.2 460.5L1650.7 462.6L1652.2 464.6L1653.7 466.7L1655.2 468.7L1656.7 470.7L1658.2 472.7L1659.7 474.7L1661.2 476.7L1662.7 478.7L1664.2 480.6L1665.7 482.6L1667.2 484.5L1668.7 486.5L1670.2 488.4L1671.7 490.3L1673.2 492.2L1674.7 494.1L1676.2 496L1677.7 497.8L1679.2 499.7L1680.7 501.5L1682.2 503.4L1683.7 505.2L1685.2 506.9L1686.7 508.7L1688.2 510.4L1689.7 512.1L1691.2 513.8L1692.7 515.5L1694.2 517.1L1695.7 518.7L1697.2 520.3L1698.7 521.9L1700.2 523.4L1701.7 524.9L1703.2 526.3L1704.7 527.7L1706.2 529.1L1707.7 530.5L1709.2 531.8L1710.7 533L1712.2 534.2L1713.7 535.4L1715.2 536.6L1716.7 537.6L1718.2 538.7L1719.7 539.7L1721.2 540.7L1722.7 541.6L1724.2 542.5L1725.7 543.5L1727.2 544.3L1728.7 545.2L1730.2 546.1L1731.7 547L1733.2 547.9L1734.7 548.8L1736.2 549.7L1737.7 550.6L1739.2 551.5L1740.7 552.5L1742.2 553.5L1743.7 554.5L1745.2 555.5L1746.7 556.5L1748.2 557.6L1749.7 558.6L1751.2 559.7L1752.7 560.7L1754.2 561.8L1755.7 562.9L1757.2 564L1758.7 565.1L1760.2 566.2L1761.7 567.3L1763.2 568.4L1764.7 569.5L1766.2 570.6L1767.7 571.7L1769.2 572.8L1770.7 573.8L1772.2 574.9L1773.7 576L1775.2 577L1776.7 578.1L1778.2 579.1L1779.7 580.2L1781.2 581.2L1782.7 582.2L1784.2 583.2L1785.7 584.1L1787.2 585.1L1788.7 586L1790.2 587L1791.7 587.9L1793.2 588.8L1794.7 589.7L1796.2 590.6L1797.7 591.4L1799.2 592.3L1800.7 593.1L1802.2 593.9L1803.7 594.7L1805.2 595.5L1806.7 596.2L1808.2 597L1809.7 597.7L1811.2 598.4L1812.7 599.1L1814.2 599.8L1815.7 600.5L1817.2 601.1L1818.7 601.7L1820.2 602.4L1821.7 602.9L1823.2 603.5L1824.7 604.1L1826.2 604.6L1827.7 605.1L1829.2 605.6L1830.7 606.1L1832.2 606.6L1833.7 607L1835.2 607.5L1836.7 607.9L1838.2 608.2L1839.7 608.6L1841.2 608.9L1842.7 609.3L1844.2 609.6L1845.7 609.9L1847.2 610.1L1848.7 610.4L1850.2 610.6L1851.7 610.8L1853.2 611L1854.7 611.1L1856.2 611.2L1857.7 611.4L1859.2 611.4L1860.3 611.5" stroke="#0000ff" stroke-width="3.0"/>
<path d="M1146.7 278.3L1148.2 278.3L1149.7 278.3L1151.2 278.5L1152.7 278.7L1154.2 279L1155.7 279.3L1157.2 279.7L1158.7 280.2L1160.2 280.7L1161.7 281.2L1163.2 281.8L1164.7 282.4L1166.2 283.1L1167.7 283.8L1169.2 284.5L1170.7 285.2L1172.2 286L1173.7 286.7L1175.2 287.5L1176.7 288.2L1178.2 289L1179.7 289.7L1181.2 290.4L1182.7 291.1L1184.2 291.8L1185.7 292.4L1187.2 293.1L1188.7 293.6L1190.2 294.2L1191.7 294.7L1193.2 295.1L1194.7 295.5L1196.2 295.8L1197.7 296L1199.2 296.2L1200.7 296.3L1202.2 296.3L1203.7 296.3L1205.2 296.2L1206.7 296L1208.2 295.7L1209.7 295.4L1211.2 295L1212.7 294.6L1214.2 294.1L1215.7 293.6L1217.2 293L1218.7 292.4L1220.2 291.8L1221.7 291.2L1223.2 290.5L1224.7 289.8L1226.2 289.1L1227.7 288.4L1229.2 287.7L1230.7 286.9L1232.2 286.2L1233.7 285.5L1235.2 284.8L1236.7 284.1L1238.2 283.4L1239.7 282.8L1241.2 282.1L1242.7 281.5L1244.2 280.9L1245.7 280.3L1247.2 279.8L1248.7 279.2L1250.2 278.6L1251.7 278.1L1253.2 277.5L1254.7 277L1256.2 276.5L1257.7 275.9L1259.2 275.4L1260.7 274.9L1262.2 274.4L1263.7 273.8L1265.2 273.3L1266.7 272.8L1268.2 272.3L1269.7 271.7L1271.2 271.2L1272.7 270.6L1274.2 270L1275.7 269.4L1277.2 268.8L1278.7 268.2L1280.2 267.6L1281.7 267L1283.2 266.3L1284.7 265.6L1286.2 264.8L1287.7 264L1289.2 263.1L1290.7 262.2L1292.2 261.2L1293.7 260.1L1295.2 258.9L1296.7 257.7L1298.2 256.3L1299.7 254.9L1301.2 253.3L1302.7 251.7L1304.2 250.1L1305.7 248.3L1307.2 246.5L1308.7 244.7L1310.2 242.8L1311.7 240.9L1313.2 238.9L1314.7 237L1316.2 235L1317.7 233L1319.2 230.9L1320.7 228.9L1322.2 226.9L1323.7 224.9L1325.2 223L1326.7 221L1328.2 219.1L1329.7 217.2L1331.2 215.4L1332.7 213.6L1334.2 211.9L1335.7 210.2L1337.2 208.5L1338.7 206.9L1340.2 205.3L1341.7 203.8L1343.2 202.3L1344.7 200.8L1346.2 199.3L1347.7 197.9L1349.2 196.5L1350.7 195.1L1352.2 193.7L1353.7 192.3L1355.2 190.9L1356.7 189.5L1358.2 188.1L1359.7 186.7L1361.2 185.3L1362.7 183.9L1364.2 182.5L1365.7 181L1367.2 179.6L1368.7 178.1L1370.2 176.5L1371.7 175L1373.2 173.4L1374.7 171.8L1376.2 170.1L1377.7 168.4L1379.2 166.7L1380.7 164.9L1382.2 163.1L1383.7 161.3L1385.2 159.5L1386.7 157.6L1388.2 155.7L1389.7 153.8L1391.2 151.9L1392.7 150L1394.2 148.1L1395.7 146.1L1397.2 144.2L1398.7 142.2L1400.2 140.3L1401.7 138.4L1403.2 136.4L1404.7 134.6L1406.2 132.7L1407.7 130.9L1409.2 129.1L1410.7 127.3L1412.2 125.6L1413.7 124L1415.2 122.4L1416.7 120.9L1418.2 119.4L1419.7 118L1421.2 116.7L1422.7 115.5L1424.2 114.4L1425.7 113.4L1427.2 112.5L1428.7 111.7L1430.2 111L1431.7 110.4L1433.2 109.9L1434.7 109.6L1436.2 109.4L1437.7 109.3L1439.2 109.4L1440.7 109.5L1442.2 109.8L1443.7 110.2L1445.2 110.7L1446.7 111.3L1448.2 112L1449.7 112.8L1451.2 113.8L1452.7 114.8L1454.2 115.9L1455.7 117.2L1457.2 118.5L1458.7 119.9L1460.2 121.5L1461.7 123.1L1463.2 124.8L1464.7 126.6L1466.2 128.5L1467.7 130.5L1469.2 132.5L1470.7 134.7L1472.2 136.9L1473.7 139.2L1475.2 141.6L1476.7 144L1478.2 146.5L1479.7 149.1L1481.2 151.8L1482.7 154.5L1484.2 157.3L1485.7 160.2L1487.2 163.1L1488.7 166.1L1490.2 169.1L1491.7 172.2L1493.2 175.4L1494.7 178.6L1496.2 181.8L1497.7 185.1L1499.2 188.4L1500.7 191.7L1502.2 195.1L1503.7 198.5L1505.2 201.8L1506.7 205.2L1508.2 208.7L1509.7 212.1L1511.2 215.5L1512.7 218.9L1514.2 222.3L1515.7 225.6L1517.2 229L1518.7 232.3L1520.2 235.6L1521.7 238.8L1523.2 242.1L1524.7 245.3L1526.2 248.5L1527.7 251.7L1529.2 254.9L1530.7 258.1L1532.2 261.3L1533.7 264.5L1535.2 267.8L1536.7 271.1L1538.2 274.5L1539.7 277.9L1541.2 281.4L1542.7 284.9L1544.2 288.4L1545.7 292L1547.2 295.7L1548.7 299.3L1550.2 302.9L1551.7 306.5L1553.2 310.1L1554.7 313.6L1556.2 317.1L1557.7 320.6L1559.2 324L1560.7 327.4L1562.2 330.8L1563.7 334.2L1565.2 337.5L1566.7 340.8L1568.2 344.1L1569.7 347.4L1571.2 350.6L1572.7 353.8L1574.2 357L1575.7 360.1L1577.2 363.3L1578.7 366.3L1580.2 369.4L1581.7 372.4L1583.2 375.4L1584.7 378.3L1586.2 381.2L1587.7 384L1589.2 386.8L1590.7 389.6L1592.2 392.3L1593.7 395L1595.2 397.6L1596.7 400.2L1598.2 402.8L1599.7 405.3L1601.2 407.8L1602.7 410.2L1604.2 412.7L1605.7 415L1607.2 417.4L1608.7 419.7L1610.2 422L1611.7 424.3L1613.2 426.5L1614.7 428.7L1616.2 430.9L1617.7 433.1L1619.2 435.3L1620.7 437.4L1622.2 439.5L1623.7 441.6L1625.2 443.7L1626.7 445.8L1628.2 447.8L1629.7 449.8L1631.2 451.9L1632.7 453.9L1634.2 455.9L1635.7 457.9L1637.2 459.9L1638.7 461.9L1640.2 463.9L1641.7 465.9L1643.2 467.8L1644.7 469.8L1646.2 471.7L1647.7 473.7L1649.2 475.6L1650.7 477.5L1652.2 479.4L1653.7 481.3L1655.2 483.2L1656.7 485L1658.2 486.9L1659.7 488.7L1661.2 490.5L1662.7 492.2L1664.2 494L1665.7 495.7L1667.2 497.4L1668.7 499L1670.2 500.6L1671.7 502.2L1673.2 503.8L1674.7 505.3L1676.2 506.8L1677.7 508.3L1679.2 509.7L1680.7 511.1L1682.2 512.5L1683.7 513.9L1685.2 515.2L1686.7 516.5L1688.2 517.7L1689.7 519L1691.2 520.2L1692.7 521.4L1694.2 522.6L1695.7 523.7L1697.2 524.8L1698.7 526L1700.2 527.1L1701.7 528.1L1703.2 529.2L1704.7 530.2L1706.2 531.3L1707.7 532.3L1709.2 533.3L1710.7 534.3L1712.2 535.3L1713.7 536.2L1715.2 537.2L1716.7 538.2L1718.2 539.1L1719.7 540L1721.2 541L1722.7 541.9L1724.2 542.8L1725.7 543.8L1727.2 544.7L1728.7 545.6L1730.2 546.5L1731.7 547.4L1733.2 548.4L1734.7 549.3L1736.2 550.2L1737.7 551.1L1739.2 552.1L1740.7 553L1742.2 554L1743.7 554.9L1745.2 555.9L1746.7 556.9L1748.2 557.8L1749.7 558.8L1751.2 559.8L1752.7 560.8L1754.2 561.7L1755.7 562.7L1757.2 563.7L1758.7 564.8L1760.2 565.8L1761.7 566.8L1763.2 567.8L1764.7 568.8L1766.2 569.9L1767.7 570.9L1769.2 572L1770.7 573L1772.2 574.1L1773.7 575.2L1775.2 576.2L1776.7 577.3L1778.2 578.4L1779.7 579.5L1781.2 580.6L1782.7 581.7L1784.2 582.8L1785.7 583.9L1787.2 584.9L1788.7 585.9L1790.2 587L1791.7 587.9L1793.2 588.9L1794.7 589.7L1796.2 590.6L1797.7 591.4L1799.2 592.1L1800.7 592.7L1802.2 593.3L1803.7 593.9L1805.2 594.4L1806.7 594.8L1808.2 595.2L1809.7 595.5L1811.2 595.8L1812.7 596.1L1814.2 596.4L1815.7 596.7L1817.2 596.9L1818.7 597.2L1820.2 597.4L1821.7 597.7L1823.2 598L1824.7 598.3L1826.2 598.6L1827.7 598.9L1829.2 599.2L1830.7 599.6L1832.2 600L1833.7 600.3L1835.2 600.7L1836.7 601.1L1838.2 601.5L1839.7 601.9L1841.2 602.3L1842.7 602.7L1844.2 603.1L1845.7 603.4L1847.2 603.8L1848.7 604.2L1850.2 604.5L1851.7 604.9L1853.2 605.2L1854.7 605.5L1856.2 605.8L1857.7 606L1859.2 606.2L1860.3 606.3" stroke="#0000ff" stroke-width="3.0" stroke-dasharray="17 12"/>
<path d="M1146.7 67.9L1148.2 69.4L1149.7 70.9L1151.2 72.3L1152.7 73.8L1154.2 75.2L1155.7 76.6L1157.2 78L1158.7 79.3L1160.2 80.7L1161.7 82L1163.2 83.3L1164.7 84.6L1166.2 85.9L1167.7 87.2L1169.2 88.4L1170.7 89.6L1172.2 90.8L1173.7 92L1175.2 93.2L1176.7 94.4L1178.2 95.5L1179.7 96.7L1181.2 97.8L1182.7 98.9L1184.2 100L1185.7 101L1187.2 102.1L1188.7 103.1L1190.2 104.2L1191.7 105.2L1193.2 106.2L1194.7 107.2L1196.2 108.2L1197.7 109.1L1199.2 110.1L1200.7 111L1202.2 111.9L1203.7 112.8L1205.2 113.7L1206.7 114.6L1208.2 115.5L1209.7 116.4L1211.2 117.2L1212.7 118.1L1214.2 118.9L1215.7 119.8L1217.2 120.6L1218.7 121.4L1220.2 122.3L1221.7 123.1L1223.2 123.9L1224.7 124.7L1226.2 125.5L1227.7 126.3L1229.2 127.2L1230.7 128L1232.2 128.8L1233.7 129.6L1235.2 130.5L1236.7 131.3L1238.2 132.2L1239.7 133L1241.2 133.9L1242.7 134.8L1244.2 135.6L1245.7 136.5L1247.2 137.4L1248.7 138.4L1250.2 139.3L1251.7 140.2L1253.2 141.2L1254.7 142.2L1256.2 143.1L1257.7 144.1L1259.2 145.1L1260.7 146.1L1262.2 147.1L1263.7 148.1L1265.2 149.1L1266.7 150.2L1268.2 151.2L1269.7 152.2L1271.2 153.2L1272.7 154.2L1274.2 155.3L1275.7 156.3L1277.2 157.3L1278.7 158.3L1280.2 159.3L1281.7 160.3L1283.2 161.3L1284.7 162.3L1286.2 163.3L1287.7 164.2L1289.2 165.2L1290.7 166.1L1292.2 167.1L1293.7 168L1295.2 168.9L1296.7 169.9L1298.2 170.8L1299.7 171.7L1301.2 172.6L1302.7 173.5L1304.2 174.4L1305.7 175.3L1307.2 176.2L1308.7 177.1L1310.2 178.1L1311.7 179L1313.2 179.9L1314.7 180.9L1316.2 181.8L1317.7 182.8L1319.2 183.8L1320.7 184.8L1322.2 185.8L1323.7 186.8L1325.2 187.8L1326.7 188.9L1328.2 190L1329.7 191.1L1331.2 192.2L1332.7 193.3L1334.2 194.5L1335.7 195.7L1337.2 196.9L1338.7 198.1L1340.2 199.4L1341.7 200.7L1343.2 202L1344.7 203.3L1346.2 204.6L1347.7 206L1349.2 207.3L1350.7 208.7L1352.2 210.1L1353.7 211.5L1355.2 213L1356.7 214.4L1358.2 215.9L1359.7 217.3L1361.2 218.8L1362.7 220.3L1364.2 221.8L1365.7 223.3L1367.2 224.8L1368.7 226.4L1370.2 227.9L1371.7 229.4L1373.2 231L1374.7 232.5L1376.2 234.1L1377.7 235.7L1379.2 237.2L1380.7 238.8L1382.2 240.4L1383.7 242L1385.2 243.5L1386.7 245.1L1388.2 246.7L1389.7 248.3L1391.2 249.8L1392.7 251.4L1394.2 253L1395.7 254.6L1397.2 256.1L1398.7 257.7L1400.2 259.3L1401.7 260.9L1403.2 262.5L1404.7 264.1L1406.2 265.7L1407.7 267.4L1409.2 269.1L1410.7 270.8L1412.2 272.5L1413.7 274.3L1415.2 276.1L1416.7 278L1418.2 279.9L1419.7 281.9L1421.2 283.8L1422.7 285.9L1424.2 287.9L1425.7 290L1427.2 292.1L1428.7 294.3L1430.2 296.4L1431.7 298.6L1433.2 300.8L1434.7 303L1436.2 305.3L1437.7 307.5L1439.2 309.8L1440.7 312.1L1442.2 314.4L1443.7 316.6L1445.2 318.9L1446.7 321.3L1448.2 323.6L1449.7 325.9L1451.2 328.2L1452.7 330.6L1454.2 332.9L1455.7 335.3L1457.2 337.6L1458.7 340L1460.2 342.4L1461.7 344.8L1463.2 347.1L1464.7 349.5L1466.2 351.9L1467.7 354.3L1469.2 356.7L1470.7 359.1L1472.2 361.5L1473.7 363.9L1475.2 366.3L1476.7 368.7L1478.2 371.1L1479.7 373.4L1481.2 375.8L1482.7 378.2L1484.2 380.6L1485.7 383L1487.2 385.4L1488.7 387.8L1490.2 390.2L1491.7 392.5L1493.2 394.9L1494.7 397.3L1496.2 399.7L1497.7 402L1499.2 404.4L1500.7 406.8L1502.2 409.1L1503.7 411.5L1505.2 413.8L1506.7 416.1L1508.2 418.5L1509.7 420.8L1511.2 423.1L1512.7 425.5L1514.2 427.8L1515.7 430.1L1517.2 432.4L1518.7 434.7L1520.2 437L1521.7 439.3L1523.2 441.6L1524.7 443.9L1526.2 446.2L1527.7 448.4L1529.2 450.7L1530.7 452.9L1532.2 455.2L1533.7 457.4L1535.2 459.7L1536.7 461.9L1538.2 464.1L1539.7 466.3L1541.2 468.5L1542.7 470.6L1544.2 472.8L1545.7 474.9L1547.2 477L1548.7 479.1L1550.2 481.2L1551.7 483.3L1553.2 485.3L1554.7 487.3L1556.2 489.3L1557.7 491.3L1559.2 493.3L1560.7 495.2L1562.2 497.1L1563.7 499L1565.2 500.8L1566.7 502.7L1568.2 504.5L1569.7 506.2L1571.2 508L1572.7 509.7L1574.2 511.4L1575.7 513L1577.2 514.6L1578.7 516.2L1580.2 517.8L1581.7 519.3L1583.2 520.7L1584.7 522.2L1586.2 523.6L1587.7 524.9L1589.2 526.3L1590.7 527.5L1592.2 528.8L1593.7 530L1595.2 531.2L1596.7 532.3L1598.2 533.4L1599.7 534.5L1601.2 535.6L1602.7 536.6L1604.2 537.6L1605.7 538.6L1607.2 539.6L1608.7 540.6L1610.2 541.5L1611.7 542.5L1613.2 543.4L1614.7 544.4L1616.2 545.3L1617.7 546.2L1619.2 547.2L1620.7 548.1L1622.2 549.1L1623.7 550L1625.2 551L1626.7 552L1628.2 553L1629.7 554L1631.2 555.1L1632.7 556.1L1634.2 557.2L1635.7 558.3L1637.2 559.5L1638.7 560.6L1640.2 561.8L1641.7 562.9L1643.2 564.1L1644.7 565.3L1646.2 566.4L1647.7 567.6L1649.2 568.8L1650.7 569.9L1652.2 571.1L1653.7 572.3L1655.2 573.4L1656.7 574.5L1658.2 575.6L1659.7 576.7L1661.2 577.8L1662.7 578.8L1664.2 579.9L1665.7 580.8L1667.2 581.8L1668.7 582.7L1670.2 583.6L1671.7 584.5L1673.2 585.3L1674.7 586L1676.2 586.8L1677.7 587.5L1679.2 588.1L1680.7 588.7L1682.2 589.3L1683.7 589.8L1685.2 590.4L1686.7 590.8L1688.2 591.3L1689.7 591.7L1691.2 592.2L1692.7 592.6L1694.2 592.9L1695.7 593.3L1697.2 593.7L1698.7 594L1700.2 594.3L1701.7 594.7L1703.2 595L1704.7 595.3L1706.2 595.6L1707.7 596L1709.2 596.3L1710.7 596.6L1712.2 597L1713.7 597.3L1715.2 597.7L1716.7 598.1L1718.2 598.4L1719.7 598.9L1721.2 599.3L1722.7 599.7L1724.2 600.2L1725.7 600.7L1727.2 601.1L1728.7 601.7L1730.2 602.2L1731.7 602.7L1733.2 603.3L1734.7 603.9L1736.2 604.5L1737.7 605.1L1739.2 605.7L1740.7 606.4L1742.2 607.1L1743.7 607.8L1745.2 608.5L1746.7 609.2L1748.2 610L1749.7 610.8L1751.2 611.6L1752.7 612.4L1754.2 613.3L1755.7 614.1L1757.2 615L1758.7 615.9L1760.2 616.7L1761.7 617.6L1763.2 618.5L1764.7 619.4L1766.2 620.2L1767.7 621.1L1769.2 621.9L1770.7 622.8L1772.2 623.6L1773.7 624.4L1775.2 625.1L1776.7 625.9L1778.2 626.6L1779.7 627.3L1781.2 627.9L1782.7 628.5L1784.2 629.1L1785.7 629.6L1787.2 630.1L1788.7 630.6L1790.2 631L1791.7 631.3L1793.2 631.6L1794.7 631.8L1796.2 632L1797.7 632.1L1799.2 632.2L1800.7 632.2L1802.2 632.3L1803.7 632.3L1805.2 632.2L1806.7 632.2L1808.2 632.1L1809.7 632L1811.2 631.9L1812.7 631.8L1814.2 631.7L1815.7 631.6L1817.2 631.5L1818.7 631.5L1820.2 631.4L1821.7 631.3L1823.2 631.3L1824.7 631.3L1826.2 631.3L1827.7 631.4L1829.2 631.5L1830.7 631.6L1832.2 631.8L1833.7 632L1835.2 632.3L1836.7 632.6L1838.2 633L1839.7 633.4L1841.2 633.9L1842.7 634.5L1844.2 635.1L1845.7 635.7L1847.2 636.5L1848.7 637.2L1850.2 638.1L1851.7 638.9L1853.2 639.9L1854.7 640.9L1856.2 642L1857.7 643.1L1859.2 644.3L1860.3 645.2" stroke="#e08c00" stroke-width="2.2"/>
<path d="M1146.7 90L1148.2 91.1L1149.7 92.2L1151.2 93.4L1152.7 94.6L1154.2 95.8L1155.7 97L1157.2 98.3L1158.7 99.6L1160.2 100.8L1161.7 102.1L1163.2 103.4L1164.7 104.6L1166.2 105.9L1167.7 107.2L1169.2 108.4L1170.7 109.7L1172.2 110.9L1173.7 112.1L1175.2 113.3L1176.7 114.4L1178.2 115.5L1179.7 116.6L1181.2 117.7L1182.7 118.7L1184.2 119.7L1185.7 120.7L1187.2 121.6L1188.7 122.4L1190.2 123.3L1191.7 124.1L1193.2 124.9L1194.7 125.6L1196.2 126.4L1197.7 127.1L1199.2 127.9L1200.7 128.6L1202.2 129.4L1203.7 130.1L1205.2 130.9L1206.7 131.7L1208.2 132.5L1209.7 133.3L1211.2 134.2L1212.7 135L1214.2 135.9L1215.7 136.8L1217.2 137.6L1218.7 138.5L1220.2 139.5L1221.7 140.4L1223.2 141.3L1224.7 142.2L1226.2 143.2L1227.7 144.1L1229.2 145.1L1230.7 146L1232.2 147L1233.7 148L1235.2 148.9L1236.7 149.9L1238.2 150.8L1239.7 151.8L1241.2 152.8L1242.7 153.7L1244.2 154.7L1245.7 155.6L1247.2 156.6L1248.7 157.5L1250.2 158.4L1251.7 159.3L1253.2 160.3L1254.7 161.2L1256.2 162.1L1257.7 163L1259.2 163.9L1260.7 164.8L1262.2 165.7L1263.7 166.6L1265.2 167.5L1266.7 168.4L1268.2 169.3L1269.7 170.2L1271.2 171.1L1272.7 172L1274.2 172.9L1275.7 173.8L1277.2 174.7L1278.7 175.6L1280.2 176.5L1281.7 177.4L1283.2 178.3L1284.7 179.2L1286.2 180.2L1287.7 181.1L1289.2 182.1L1290.7 183L1292.2 184L1293.7 185L1295.2 185.9L1296.7 186.9L1298.2 187.9L1299.7 188.9L1301.2 190L1302.7 191L1304.2 192L1305.7 193.1L1307.2 194.2L1308.7 195.2L1310.2 196.3L1311.7 197.5L1313.2 198.6L1314.7 199.7L1316.2 200.9L1317.7 202.1L1319.2 203.3L1320.7 204.5L1322.2 205.7L1323.7 206.9L1325.2 208.2L1326.7 209.5L1328.2 210.8L1329.7 212.1L1331.2 213.5L1332.7 214.9L1334.2 216.2L1335.7 217.7L1337.2 219.1L1338.7 220.5L1340.2 222L1341.7 223.5L1343.2 225L1344.7 226.5L1346.2 228L1347.7 229.6L1349.2 231.1L1350.7 232.7L1352.2 234.3L1353.7 235.9L1355.2 237.4L1356.7 239L1358.2 240.7L1359.7 242.3L1361.2 243.9L1362.7 245.5L1364.2 247.1L1365.7 248.7L1367.2 250.4L1368.7 252L1370.2 253.6L1371.7 255.2L1373.2 256.9L1374.7 258.5L1376.2 260.1L1377.7 261.7L1379.2 263.3L1380.7 264.9L1382.2 266.6L1383.7 268.2L1385.2 269.9L1386.7 271.5L1388.2 273.2L1389.7 274.9L1391.2 276.6L1392.7 278.3L1394.2 280.1L1395.7 281.9L1397.2 283.7L1398.7 285.5L1400.2 287.4L1401.7 289.3L1403.2 291.2L1404.7 293.1L1406.2 295.1L1407.7 297.1L1409.2 299.1L1410.7 301.1L1412.2 303.2L1413.7 305.2L1415.2 307.3L1416.7 309.4L1418.2 311.5L1419.7 313.7L1421.2 315.9L1422.7 318L1424.2 320.2L1425.7 322.4L1427.2 324.7L1428.7 326.9L1430.2 329.2L1431.7 331.4L1433.2 333.7L1434.7 336L1436.2 338.3L1437.7 340.6L1439.2 342.9L1440.7 345.3L1442.2 347.6L1443.7 350L1445.2 352.3L1446.7 354.7L1448.2 357.1L1449.7 359.5L1451.2 361.8L1452.7 364.2L1454.2 366.6L1455.7 369L1457.2 371.4L1458.7 373.8L1460.2 376.2L1461.7 378.7L1463.2 381.1L1464.7 383.5L1466.2 385.9L1467.7 388.3L1469.2 390.7L1470.7 393.1L1472.2 395.5L1473.7 397.9L1475.2 400.3L1476.7 402.7L1478.2 405.1L1479.7 407.4L1481.2 409.8L1482.7 412.2L1484.2 414.5L1485.7 416.9L1487.2 419.2L1488.7 421.5L1490.2 423.8L1491.7 426.2L1493.2 428.4L1494.7 430.7L1496.2 433L1497.7 435.3L1499.2 437.5L1500.7 439.7L1502.2 441.9L1503.7 444.1L1505.2 446.3L1506.7 448.5L1508.2 450.6L1509.7 452.7L1511.2 454.8L1512.7 456.9L1514.2 459L1515.7 461.1L1517.2 463.1L1518.7 465.1L1520.2 467.1L1521.7 469L1523.2 471L1524.7 472.9L1526.2 474.7L1527.7 476.6L1529.2 478.4L1530.7 480.3L1532.2 482L1533.7 483.8L1535.2 485.5L1536.7 487.2L1538.2 488.9L1539.7 490.6L1541.2 492.2L1542.7 493.9L1544.2 495.5L1545.7 497L1547.2 498.6L1548.7 500.1L1550.2 501.7L1551.7 503.2L1553.2 504.6L1554.7 506.1L1556.2 507.5L1557.7 508.9L1559.2 510.4L1560.7 511.7L1562.2 513.1L1563.7 514.5L1565.2 515.8L1566.7 517.1L1568.2 518.4L1569.7 519.7L1571.2 521L1572.7 522.2L1574.2 523.5L1575.7 524.7L1577.2 525.9L1578.7 527.1L1580.2 528.3L1581.7 529.5L1583.2 530.6L1584.7 531.8L1586.2 532.9L1587.7 534L1589.2 535.2L1590.7 536.3L1592.2 537.4L1593.7 538.4L1595.2 539.5L1596.7 540.6L1598.2 541.6L1599.7 542.7L1601.2 543.7L1602.7 544.8L1604.2 545.8L1605.7 546.8L1607.2 547.8L1608.7 548.8L1610.2 549.8L1611.7 550.8L1613.2 551.8L1614.7 552.8L1616.2 553.8L1617.7 554.8L1619.2 555.8L1620.7 556.7L1622.2 557.7L1623.7 558.7L1625.2 559.6L1626.7 560.6L1628.2 561.5L1629.7 562.5L1631.2 563.5L1632.7 564.4L1634.2 565.4L1635.7 566.3L1637.2 567.3L1638.7 568.2L1640.2 569.2L1641.7 570.1L1643.2 571L1644.7 572L1646.2 572.9L1647.7 573.8L1649.2 574.7L1650.7 575.6L1652.2 576.5L1653.7 577.3L1655.2 578.2L1656.7 579L1658.2 579.8L1659.7 580.6L1661.2 581.4L1662.7 582.2L1664.2 582.9L1665.7 583.7L1667.2 584.4L1668.7 585.1L1670.2 585.7L1671.7 586.4L1673.2 587L1674.7 587.6L1676.2 588.2L1677.7 588.7L1679.2 589.2L1680.7 589.7L1682.2 590.2L1683.7 590.7L1685.2 591.2L1686.7 591.6L1688.2 592L1689.7 592.4L1691.2 592.8L1692.7 593.2L1694.2 593.6L1695.7 594L1697.2 594.4L1698.7 594.7L1700.2 595.1L1701.7 595.4L1703.2 595.8L1704.7 596.2L1706.2 596.5L1707.7 596.9L1709.2 597.2L1710.7 597.6L1712.2 598L1713.7 598.4L1715.2 598.8L1716.7 599.2L1718.2 599.6L1719.7 600L1721.2 600.5L1722.7 600.9L1724.2 601.4L1725.7 601.9L1727.2 602.4L1728.7 602.9L1730.2 603.4L1731.7 604L1733.2 604.5L1734.7 605.1L1736.2 605.7L1737.7 606.3L1739.2 606.9L1740.7 607.6L1742.2 608.2L1743.7 608.9L1745.2 609.6L1746.7 610.3L1748.2 611.1L1749.7 611.8L1751.2 612.6L1752.7 613.4L1754.2 614.2L1755.7 615L1757.2 615.8L1758.7 616.7L1760.2 617.5L1761.7 618.3L1763.2 619.2L1764.7 620L1766.2 620.8L1767.7 621.7L1769.2 622.5L1770.7 623.2L1772.2 624L1773.7 624.8L1775.2 625.5L1776.7 626.2L1778.2 626.9L1779.7 627.5L1781.2 628.1L1782.7 628.7L1784.2 629.2L1785.7 629.7L1787.2 630.1L1788.7 630.5L1790.2 630.9L1791.7 631.2L1793.2 631.4L1794.7 631.6L1796.2 631.7L1797.7 631.8L1799.2 631.9L1800.7 631.9L1802.2 631.9L1803.7 631.9L1805.2 631.8L1806.7 631.8L1808.2 631.7L1809.7 631.6L1811.2 631.5L1812.7 631.4L1814.2 631.4L1815.7 631.3L1817.2 631.2L1818.7 631.2L1820.2 631.2L1821.7 631.2L1823.2 631.2L1824.7 631.3L1826.2 631.4L1827.7 631.6L1829.2 631.8L1830.7 632L1832.2 632.3L1833.7 632.7L1835.2 633.1L1836.7 633.6L1838.2 634.2L1839.7 634.8L1841.2 635.5L1842.7 636.2L1844.2 637L1845.7 637.8L1847.2 638.7L1848.7 639.6L1850.2 640.6L1851.7 641.6L1853.2 642.6L1854.7 643.7L1856.2 644.8L1857.7 645.9L1859.2 647.1L1860.3 648" stroke="#e08c00" stroke-width="2.2" stroke-dasharray="13 13"/>
</g>
<line x1="1860.3" y1="55.3" x2="1860.3" y2="689.7" stroke="#f2c26b" stroke-width="1.4" stroke-linecap="square"/>
<line x1="1147" y1="689.7" x2="1860.3" y2="689.7" stroke="#000" stroke-width="1.6" stroke-linecap="square"/>
<line x1="1147" y1="55.3" x2="1147" y2="689.7" stroke="#000" stroke-width="1.6" stroke-linecap="square"/>
<line x1="1147" y1="55.3" x2="1860.3" y2="55.3" stroke="#222" stroke-width="1.4" stroke-linecap="square"/>
<text transform="translate(1146.7 741.5) scale(0.915 1)" font-size="38" text-anchor="middle">5.5</text>
<line x1="1289.4" y1="689.7" x2="1289.4" y2="681.7" stroke="#1a1a1a" stroke-width="1.2"/>
<line x1="1289.4" y1="55.3" x2="1289.4" y2="63.3" stroke="#1a1a1a" stroke-width="1.2"/>
<text transform="translate(1289.4 741.5) scale(0.915 1)" font-size="38" text-anchor="middle">5.7</text>
<line x1="1432.1" y1="689.7" x2="1432.1" y2="681.7" stroke="#1a1a1a" stroke-width="1.2"/>
<line x1="1432.1" y1="55.3" x2="1432.1" y2="63.3" stroke="#1a1a1a" stroke-width="1.2"/>
<text transform="translate(1432.1 741.5) scale(0.915 1)" font-size="38" text-anchor="middle">5.9</text>
<line x1="1574.8" y1="689.7" x2="1574.8" y2="681.7" stroke="#1a1a1a" stroke-width="1.2"/>
<line x1="1574.8" y1="55.3" x2="1574.8" y2="63.3" stroke="#1a1a1a" stroke-width="1.2"/>
<text transform="translate(1574.8 741.5) scale(0.915 1)" font-size="38" text-anchor="middle">6.1</text>
<line x1="1717.5" y1="689.7" x2="1717.5" y2="681.7" stroke="#1a1a1a" stroke-width="1.2"/>
<line x1="1717.5" y1="55.3" x2="1717.5" y2="63.3" stroke="#1a1a1a" stroke-width="1.2"/>
<text transform="translate(1717.5 741.5) scale(0.915 1)" font-size="38" text-anchor="middle">6.3</text>
<text transform="translate(1860.2 741.5) scale(0.915 1)" font-size="38" text-anchor="middle">6.5</text>
<text transform="translate(1135.5 705.2) scale(0.915 1)" font-size="38" text-anchor="end">0</text>
<line x1="1147" y1="574.2" x2="1155" y2="574.2" stroke="#1a1a1a" stroke-width="1.2"/>
<text transform="translate(1135.5 589.7) scale(0.915 1)" font-size="38" text-anchor="end">0.2</text>
<line x1="1147" y1="458.7" x2="1155" y2="458.7" stroke="#1a1a1a" stroke-width="1.2"/>
<text transform="translate(1135.5 474.2) scale(0.915 1)" font-size="38" text-anchor="end">0.4</text>
<line x1="1147" y1="343.2" x2="1155" y2="343.2" stroke="#1a1a1a" stroke-width="1.2"/>
<text transform="translate(1135.5 358.7) scale(0.915 1)" font-size="38" text-anchor="end">0.6</text>
<line x1="1147" y1="227.7" x2="1155" y2="227.7" stroke="#1a1a1a" stroke-width="1.2"/>
<text transform="translate(1135.5 243.2) scale(0.915 1)" font-size="38" text-anchor="end">0.8</text>
<line x1="1147" y1="112.2" x2="1155" y2="112.2" stroke="#1a1a1a" stroke-width="1.2"/>
<text transform="translate(1135.5 127.7) scale(0.915 1)" font-size="38" text-anchor="end">1</text>
<line x1="1860.3" y1="123.7" x2="1852.3" y2="123.7" stroke="#e08c00" stroke-width="1.2"/>
<text transform="translate(1873 138.2) scale(0.9 1)" font-size="38.5" fill="#e08c00"><tspan font-family="'Liberation Serif', serif" font-style="italic">π</tspan>/2</text>
<line x1="1860.3" y1="248.1" x2="1852.3" y2="248.1" stroke="#e08c00" stroke-width="1.2"/>
<text transform="translate(1873 262.6) scale(0.9 1)" font-size="38.5" fill="#e08c00"><tspan font-family="'Liberation Serif', serif" font-style="italic">π</tspan>/4</text>
<line x1="1860.3" y1="372.5" x2="1852.3" y2="372.5" stroke="#e08c00" stroke-width="1.2"/>
<text transform="translate(1873 387) scale(0.9 1)" font-size="38.5" fill="#e08c00">0</text>
<line x1="1860.3" y1="496.9" x2="1852.3" y2="496.9" stroke="#e08c00" stroke-width="1.2"/>
<text transform="translate(1873 511.4) scale(0.9 1)" font-size="38.5" fill="#e08c00">-<tspan font-family="'Liberation Serif', serif" font-style="italic">π</tspan>/4</text>
<line x1="1860.3" y1="621.3" x2="1852.3" y2="621.3" stroke="#e08c00" stroke-width="1.2"/>
<text transform="translate(1873 635.8) scale(0.9 1)" font-size="38.5" fill="#e08c00">-<tspan font-family="'Liberation Serif', serif" font-style="italic">π</tspan>/2</text>
<text x="1536" y="802.8" font-size="43.2" text-anchor="middle">Wavelength (μm)</text>
<text transform="translate(1072.8 371) rotate(-90)" font-size="42.6" text-anchor="middle" fill="#0000ff">Field Amplitude</text>
<text transform="translate(1986.5 364.2) rotate(-90)" font-size="44.3" text-anchor="middle" fill="#fba30a">Phase (rad)</text>
<text x="1032" y="50.6" font-size="51" font-weight="bold">(b)</text>
<line x1="1597.6" y1="109.8" x2="1641.6" y2="109.8" stroke="#0000ff" stroke-width="2.4"/>
<text x="1645.5" y="123.3" font-size="32.5">Amp 143K</text>
<line x1="1597.6" y1="152.5" x2="1641.6" y2="152.5" stroke="#0000ff" stroke-width="2.4" stroke-dasharray="10.8 6.4"/>
<text x="1645.5" y="166" font-size="32.5">Amp 643K</text>
<line x1="1597.6" y1="195.2" x2="1641.6" y2="195.2" stroke="#e08c00" stroke-width="1.8"/>
<text x="1645.5" y="208.7" font-size="32.5">phase 143K</text>
<line x1="1597.6" y1="237.9" x2="1641.6" y2="237.9" stroke="#e08c00" stroke-width="1.8" stroke-dasharray="10.8 6.4"/>
<text x="1645.5" y="251.4" font-size="32.5">phase 643K</text>
</g>
<g id="pc">
<clipPath id="cc"><rect x="177.3" y="879.8" width="819" height="638.4"/></clipPath>
<g clip-path="url(#cc)" fill="none" stroke-linejoin="round">
<path d="M177.3 1484.3L178.8 1484.3L180.3 1484.3L181.8 1484.3L183.3 1484.3L184.8 1484.3L186.3 1484.3L187.8 1484.2L189.3 1484.2L190.8 1484.2L192.3 1484.2L193.8 1484.1L195.3 1484.1L196.8 1484.1L198.3 1484L199.8 1484L201.3 1483.9L202.8 1483.9L204.3 1483.8L205.8 1483.8L207.3 1483.7L208.8 1483.7L210.3 1483.6L211.8 1483.5L213.3 1483.5L214.8 1483.4L216.3 1483.3L217.8 1483.2L219.3 1483.2L220.8 1483.1L222.3 1483L223.8 1482.9L225.3 1482.8L226.8 1482.7L228.3 1482.6L229.8 1482.5L231.3 1482.4L232.8 1482.3L234.3 1482.2L235.8 1482.1L237.3 1481.9L238.8 1481.8L240.3 1481.7L241.8 1481.6L243.3 1481.4L244.8 1481.3L246.3 1481.1L247.8 1481L249.3 1480.8L250.8 1480.7L252.3 1480.5L253.8 1480.4L255.3 1480.2L256.8 1480L258.3 1479.9L259.8 1479.7L261.3 1479.5L262.8 1479.3L264.3 1479.1L265.8 1478.9L267.3 1478.7L268.8 1478.5L270.3 1478.3L271.8 1478.1L273.3 1477.8L274.8 1477.6L276.3 1477.4L277.8 1477.1L279.3 1476.9L280.8 1476.6L282.3 1476.4L283.8 1476.1L285.3 1475.8L286.8 1475.6L288.3 1475.3L289.8 1475L291.3 1474.7L292.8 1474.4L294.3 1474.1L295.8 1473.7L297.3 1473.4L298.8 1473.1L300.3 1472.7L301.8 1472.4L303.3 1472L304.8 1471.6L306.3 1471.2L307.8 1470.9L309.3 1470.4L310.8 1470L312.3 1469.6L313.8 1469.2L315.3 1468.7L316.8 1468.3L318.3 1467.8L319.8 1467.3L321.3 1466.8L322.8 1466.3L324.3 1465.8L325.8 1465.2L327.3 1464.7L328.8 1464.1L330.3 1463.5L331.8 1462.9L333.3 1462.3L334.8 1461.7L336.3 1461L337.8 1460.3L339.3 1459.6L340.8 1458.9L342.3 1458.2L343.8 1457.4L345.3 1456.7L346.8 1455.8L348.3 1455L349.8 1454.1L351.3 1453.3L352.8 1452.3L354.3 1451.4L355.8 1450.4L357.3 1449.4L358.8 1448.4L360.3 1447.3L361.8 1446.2L363.3 1445L364.8 1443.8L366.3 1442.6L367.8 1441.3L369.3 1440L370.8 1438.6L372.3 1437.2L373.8 1435.7L375.3 1434.2L376.8 1432.6L378.3 1430.9L379.8 1429.2L381.3 1427.5L382.8 1425.6L384.3 1423.7L385.8 1421.7L387.3 1419.7L388.8 1417.5L390.3 1415.3L391.8 1413L393.3 1410.6L394.8 1408.1L396.3 1405.5L397.8 1402.9L399.3 1400.1L400.8 1397.2L402.3 1394.1L403.8 1391L405.3 1387.8L406.8 1384.4L408.3 1380.9L409.8 1377.2L411.3 1373.4L412.8 1369.5L414.3 1365.4L415.8 1361.2L417.3 1356.8L418.8 1352.3L420.3 1347.5L421.8 1342.6L423.3 1337.5L424.8 1332.1L426.3 1326.6L427.8 1320.9L429.3 1314.9L430.8 1308.7L432.3 1302.3L433.8 1295.7L435.3 1288.9L436.8 1281.9L438.3 1274.8L439.8 1267.6L441.3 1260.5L442.8 1253.4L444.3 1246.3L445.8 1239.5L447.3 1232.8L448.8 1226.1L450.3 1219.6L451.8 1213.1L453.3 1206.7L454.8 1200.3L456.3 1194L457.8 1187.6L459.3 1181.2L460.8 1174.8L462.3 1168.3L463.8 1161.8L465.3 1155.3L466.8 1148.7L468.3 1142.3L469.8 1135.9L471.3 1129.8L472.8 1124L474.3 1118.6L475.8 1113.6L477.3 1109.1L478.8 1105.2L480.3 1101.9L481.8 1099.3L483.3 1097.4L484.8 1096.1L486.3 1095.3L487.8 1095L489.3 1095.2L490.8 1095.8L492.3 1096.8L493.8 1098.2L495.3 1099.9L496.8 1102L498.3 1104.3L499.8 1106.9L501.3 1109.6L502.8 1112.6L504.3 1115.8L505.8 1119.1L507.3 1122.6L508.8 1126.1L510.3 1129.8L511.8 1133.5L513.3 1137.2L514.8 1141L516.3 1144.8L517.8 1148.5L519.3 1152.2L520.8 1155.9L522.3 1159.5L523.8 1163L525.3 1166.4L526.8 1169.8L528.3 1173L529.8 1176.1L531.3 1179.2L532.8 1182.1L534.3 1184.9L535.8 1187.5L537.3 1190.1L538.8 1192.5L540.3 1194.8L541.8 1196.9L543.3 1199L544.8 1200.9L546.3 1202.6L547.8 1204.3L549.3 1205.8L550.8 1207.3L552.3 1208.6L553.8 1209.8L555.3 1210.9L556.8 1211.9L558.3 1212.8L559.8 1213.7L561.3 1214.4L562.8 1215.1L564.3 1215.7L565.8 1216.2L567.3 1216.6L568.8 1217L570.3 1217.2L571.8 1217.4L573.3 1217.5L574.8 1217.5L576.3 1217.4L577.8 1217.2L579.3 1216.9L580.8 1216.6L582.3 1216.2L583.8 1215.7L585.3 1215.1L586.8 1214.4L588.3 1213.7L589.8 1212.8L591.3 1211.9L592.8 1210.9L594.3 1209.9L595.8 1208.7L597.3 1207.6L598.8 1206.3L600.3 1205L601.8 1203.7L603.3 1202.3L604.8 1200.8L606.3 1199.4L607.8 1197.9L609.3 1196.4L610.8 1194.8L612.3 1193.3L613.8 1191.7L615.3 1190.1L616.8 1188.6L618.3 1187L619.8 1185.4L621.3 1183.9L622.8 1182.3L624.3 1180.8L625.8 1179.3L627.3 1177.8L628.8 1176.4L630.3 1175L631.8 1173.6L633.3 1172.3L634.8 1171.1L636.3 1169.8L637.8 1168.7L639.3 1167.6L640.8 1166.5L642.3 1165.6L643.8 1164.7L645.3 1163.8L646.8 1163.1L648.3 1162.4L649.8 1161.8L651.3 1161.2L652.8 1160.8L654.3 1160.5L655.8 1160.2L657.3 1160L658.8 1159.9L660.3 1159.9L661.8 1160L663.3 1160.2L664.8 1160.6L666.3 1161L667.8 1161.6L669.3 1162.3L670.8 1163.1L672.3 1164.1L673.8 1165.1L675.3 1166.3L676.8 1167.7L678.3 1169.1L679.8 1170.7L681.3 1172.3L682.8 1174.1L684.3 1176L685.8 1178L687.3 1180.1L688.8 1182.3L690.3 1184.5L691.8 1186.9L693.3 1189.3L694.8 1191.8L696.3 1194.4L697.8 1197.1L699.3 1199.8L700.8 1202.6L702.3 1205.4L703.8 1208.3L705.3 1211.2L706.8 1214.2L708.3 1217.2L709.8 1220.2L711.3 1223.3L712.8 1226.4L714.3 1229.5L715.8 1232.6L717.3 1235.7L718.8 1238.8L720.3 1242L721.8 1245.1L723.3 1248.3L724.8 1251.4L726.3 1254.5L727.8 1257.6L729.3 1260.7L730.8 1263.8L732.3 1266.9L733.8 1270L735.3 1273.1L736.8 1276.1L738.3 1279.1L739.8 1282.1L741.3 1285.1L742.8 1288.1L744.3 1291L745.8 1293.9L747.3 1296.8L748.8 1299.7L750.3 1302.6L751.8 1305.4L753.3 1308.2L754.8 1310.9L756.3 1313.7L757.8 1316.4L759.3 1319.1L760.8 1321.7L762.3 1324.3L763.8 1326.9L765.3 1329.5L766.8 1332L768.3 1334.5L769.8 1336.9L771.3 1339.3L772.8 1341.7L774.3 1344.1L775.8 1346.4L777.3 1348.7L778.8 1350.9L780.3 1353.1L781.8 1355.3L783.3 1357.4L784.8 1359.6L786.3 1361.6L787.8 1363.7L789.3 1365.7L790.8 1367.7L792.3 1369.6L793.8 1371.5L795.3 1373.4L796.8 1375.3L798.3 1377.1L799.8 1378.9L801.3 1380.7L802.8 1382.4L804.3 1384.1L805.8 1385.8L807.3 1387.4L808.8 1389L810.3 1390.6L811.8 1392.2L813.3 1393.7L814.8 1395.2L816.3 1396.7L817.8 1398.2L819.3 1399.6L820.8 1401L822.3 1402.4L823.8 1403.7L825.3 1405L826.8 1406.3L828.3 1407.6L829.8 1408.9L831.3 1410.1L832.8 1411.3L834.3 1412.5L835.8 1413.6L837.3 1414.8L838.8 1415.9L840.3 1417L841.8 1418.1L843.3 1419.1L844.8 1420.2L846.3 1421.2L847.8 1422.2L849.3 1423.2L850.8 1424.1L852.3 1425.1L853.8 1426L855.3 1426.9L856.8 1427.8L858.3 1428.7L859.8 1429.5L861.3 1430.3L862.8 1431.2L864.3 1432L865.8 1432.8L867.3 1433.5L868.8 1434.3L870.3 1435L871.8 1435.8L873.3 1436.5L874.8 1437.2L876.3 1437.9L877.8 1438.6L879.3 1439.2L880.8 1439.9L882.3 1440.5L883.8 1441.2L885.3 1441.8L886.8 1442.4L888.3 1443L889.8 1443.6L891.3 1444.2L892.8 1444.7L894.3 1445.3L895.8 1445.8L897.3 1446.4L898.8 1446.9L900.3 1447.4L901.8 1447.9L903.3 1448.4L904.8 1448.9L906.3 1449.4L907.8 1449.9L909.3 1450.4L910.8 1450.8L912.3 1451.3L913.8 1451.7L915.3 1452.2L916.8 1452.6L918.3 1453.1L919.8 1453.5L921.3 1453.9L922.8 1454.3L924.3 1454.7L925.8 1455.1L927.3 1455.5L928.8 1455.9L930.3 1456.3L931.8 1456.7L933.3 1457.1L934.8 1457.4L936.3 1457.8L937.8 1458.2L939.3 1458.5L940.8 1458.9L942.3 1459.3L943.8 1459.6L945.3 1460L946.8 1460.3L948.3 1460.7L949.8 1461L951.3 1461.3L952.8 1461.7L954.3 1462L955.8 1462.3L957.3 1462.7L958.8 1463L960.3 1463.3L961.8 1463.6L963.3 1464L964.8 1464.3L966.3 1464.6L967.8 1464.9L969.3 1465.2L970.8 1465.6L972.3 1465.9L973.8 1466.2L975.3 1466.5L976.8 1466.8L978.3 1467.1L979.8 1467.5L981.3 1467.8L982.8 1468.1L984.3 1468.4L985.8 1468.7L987.3 1469L988.8 1469.3L990.3 1469.7L991.8 1470L993.3 1470.3L994.8 1470.6L995.3 1470.7" stroke="#000000" stroke-width="3.5"/>
<path d="M177.3 1470.5L178.8 1470.5L180.3 1470.5L181.8 1470.5L183.3 1470.5L184.8 1470.5L186.3 1470.5L187.8 1470.5L189.3 1470.5L190.8 1470.4L192.3 1470.4L193.8 1470.4L195.3 1470.4L196.8 1470.4L198.3 1470.3L199.8 1470.3L201.3 1470.3L202.8 1470.2L204.3 1470.2L205.8 1470.2L207.3 1470.1L208.8 1470.1L210.3 1470L211.8 1470L213.3 1469.9L214.8 1469.8L216.3 1469.8L217.8 1469.7L219.3 1469.6L220.8 1469.6L222.3 1469.5L223.8 1469.4L225.3 1469.3L226.8 1469.2L228.3 1469.1L229.8 1469.1L231.3 1469L232.8 1468.9L234.3 1468.7L235.8 1468.6L237.3 1468.5L238.8 1468.4L240.3 1468.3L241.8 1468.2L243.3 1468L244.8 1467.9L246.3 1467.8L247.8 1467.6L249.3 1467.5L250.8 1467.3L252.3 1467.2L253.8 1467L255.3 1466.9L256.8 1466.7L258.3 1466.5L259.8 1466.4L261.3 1466.2L262.8 1466L264.3 1465.8L265.8 1465.6L267.3 1465.4L268.8 1465.2L270.3 1465L271.8 1464.8L273.3 1464.6L274.8 1464.3L276.3 1464.1L277.8 1463.9L279.3 1463.6L280.8 1463.4L282.3 1463.1L283.8 1462.9L285.3 1462.6L286.8 1462.3L288.3 1462L289.8 1461.8L291.3 1461.5L292.8 1461.2L294.3 1460.8L295.8 1460.5L297.3 1460.2L298.8 1459.9L300.3 1459.5L301.8 1459.2L303.3 1458.8L304.8 1458.4L306.3 1458L307.8 1457.7L309.3 1457.3L310.8 1456.8L312.3 1456.4L313.8 1456L315.3 1455.5L316.8 1455.1L318.3 1454.6L319.8 1454.1L321.3 1453.6L322.8 1453.1L324.3 1452.6L325.8 1452.1L327.3 1451.5L328.8 1451L330.3 1450.4L331.8 1449.8L333.3 1449.2L334.8 1448.5L336.3 1447.9L337.8 1447.2L339.3 1446.5L340.8 1445.8L342.3 1445.1L343.8 1444.3L345.3 1443.5L346.8 1442.7L348.3 1441.9L349.8 1441L351.3 1440.2L352.8 1439.2L354.3 1438.3L355.8 1437.3L357.3 1436.3L358.8 1435.3L360.3 1434.2L361.8 1433.1L363.3 1431.9L364.8 1430.8L366.3 1429.5L367.8 1428.3L369.3 1426.9L370.8 1425.6L372.3 1424.2L373.8 1422.7L375.3 1421.2L376.8 1419.6L378.3 1417.9L379.8 1416.2L381.3 1414.5L382.8 1412.7L384.3 1410.8L385.8 1408.8L387.3 1406.7L388.8 1404.6L390.3 1402.4L391.8 1400.1L393.3 1397.7L394.8 1395.2L396.3 1392.7L397.8 1390L399.3 1387.2L400.8 1384.3L402.3 1381.3L403.8 1378.2L405.3 1374.9L406.8 1371.5L408.3 1368L409.8 1364.4L411.3 1360.6L412.8 1356.7L414.3 1352.6L415.8 1348.3L417.3 1343.9L418.8 1339.4L420.3 1334.6L421.8 1329.7L423.3 1324.5L424.8 1319.2L426.3 1313.6L427.8 1307.9L429.3 1301.9L430.8 1295.7L432.3 1289.3L433.8 1282.6L435.3 1275.8L436.8 1268.8L438.3 1261.7L439.8 1254.5L441.3 1247.3L442.8 1240.2L444.3 1233.2L445.8 1226.3L447.3 1219.5L448.8 1212.9L450.3 1206.3L451.8 1199.8L453.3 1193.4L454.8 1186.9L456.3 1180.5L457.8 1174.1L459.3 1167.7L460.8 1161.2L462.3 1154.7L463.8 1148.1L465.3 1141.5L466.8 1134.9L468.3 1128.4L469.8 1122.1L471.3 1115.9L472.8 1110.1L474.3 1104.6L475.8 1099.6L477.3 1095.1L478.8 1091.2L480.3 1087.9L481.8 1085.3L483.3 1083.4L484.8 1082.1L486.3 1081.4L487.8 1081.1L489.3 1081.4L490.8 1082L492.3 1083.1L493.8 1084.6L495.3 1086.5L496.8 1088.7L498.3 1091.2L499.8 1093.9L501.3 1096.9L502.8 1100.1L504.3 1103.4L505.8 1106.9L507.3 1110.5L508.8 1114.2L510.3 1117.9L511.8 1121.7L513.3 1125.5L514.8 1129.4L516.3 1133.2L517.8 1137L519.3 1140.7L520.8 1144.4L522.3 1148L523.8 1151.6L525.3 1155L526.8 1158.4L528.3 1161.6L529.8 1164.8L531.3 1167.8L532.8 1170.7L534.3 1173.5L535.8 1176.2L537.3 1178.8L538.8 1181.2L540.3 1183.6L541.8 1185.7L543.3 1187.8L544.8 1189.8L546.3 1191.6L547.8 1193.3L549.3 1194.9L550.8 1196.3L552.3 1197.7L553.8 1199L555.3 1200.1L556.8 1201.2L558.3 1202.1L559.8 1203L561.3 1203.8L562.8 1204.5L564.3 1205.2L565.8 1205.7L567.3 1206.2L568.8 1206.5L570.3 1206.8L571.8 1207L573.3 1207.1L574.8 1207.2L576.3 1207.1L577.8 1207L579.3 1206.8L580.8 1206.5L582.3 1206.1L583.8 1205.6L585.3 1205.1L586.8 1204.5L588.3 1203.8L589.8 1203L591.3 1202.1L592.8 1201.2L594.3 1200.2L595.8 1199.1L597.3 1197.9L598.8 1196.7L600.3 1195.4L601.8 1194.1L603.3 1192.7L604.8 1191.3L606.3 1189.9L607.8 1188.4L609.3 1186.8L610.8 1185.3L612.3 1183.7L613.8 1182.1L615.3 1180.5L616.8 1178.9L618.3 1177.3L619.8 1175.7L621.3 1174.1L622.8 1172.5L624.3 1170.9L625.8 1169.4L627.3 1167.8L628.8 1166.3L630.3 1164.8L631.8 1163.4L633.3 1162L634.8 1160.6L636.3 1159.3L637.8 1158.1L639.3 1156.9L640.8 1155.7L642.3 1154.7L643.8 1153.7L645.3 1152.7L646.8 1151.8L648.3 1151L649.8 1150.3L651.3 1149.7L652.8 1149.1L654.3 1148.6L655.8 1148.2L657.3 1147.9L658.8 1147.7L660.3 1147.6L661.8 1147.5L663.3 1147.6L664.8 1147.7L666.3 1148L667.8 1148.4L669.3 1148.9L670.8 1149.5L672.3 1150.3L673.8 1151.2L675.3 1152.2L676.8 1153.4L678.3 1154.6L679.8 1156L681.3 1157.5L682.8 1159.1L684.3 1160.8L685.8 1162.7L687.3 1164.6L688.8 1166.7L690.3 1168.8L691.8 1171L693.3 1173.3L694.8 1175.7L696.3 1178.2L697.8 1180.7L699.3 1183.4L700.8 1186.1L702.3 1188.8L703.8 1191.6L705.3 1194.5L706.8 1197.4L708.3 1200.3L709.8 1203.3L711.3 1206.3L712.8 1209.4L714.3 1212.4L715.8 1215.5L717.3 1218.7L718.8 1221.8L720.3 1224.9L721.8 1228L723.3 1231.2L724.8 1234.3L726.3 1237.5L727.8 1240.6L729.3 1243.7L730.8 1246.8L732.3 1250L733.8 1253.1L735.3 1256.1L736.8 1259.2L738.3 1262.3L739.8 1265.3L741.3 1268.3L742.8 1271.3L744.3 1274.3L745.8 1277.3L747.3 1280.2L748.8 1283.1L750.3 1286L751.8 1288.9L753.3 1291.7L754.8 1294.5L756.3 1297.3L757.8 1300.1L759.3 1302.8L760.8 1305.5L762.3 1308.1L763.8 1310.8L765.3 1313.4L766.8 1315.9L768.3 1318.5L769.8 1321L771.3 1323.4L772.8 1325.9L774.3 1328.3L775.8 1330.6L777.3 1332.9L778.8 1335.2L780.3 1337.5L781.8 1339.7L783.3 1341.9L784.8 1344.1L786.3 1346.2L787.8 1348.3L789.3 1350.4L790.8 1352.4L792.3 1354.4L793.8 1356.3L795.3 1358.3L796.8 1360.1L798.3 1362L799.8 1363.8L801.3 1365.6L802.8 1367.4L804.3 1369.2L805.8 1370.9L807.3 1372.5L808.8 1374.2L810.3 1375.8L811.8 1377.4L813.3 1379L814.8 1380.5L816.3 1382L817.8 1383.5L819.3 1384.9L820.8 1386.4L822.3 1387.8L823.8 1389.2L825.3 1390.5L826.8 1391.8L828.3 1393.1L829.8 1394.4L831.3 1395.7L832.8 1396.9L834.3 1398.1L835.8 1399.3L837.3 1400.5L838.8 1401.6L840.3 1402.7L841.8 1403.8L843.3 1404.9L844.8 1406L846.3 1407L847.8 1408L849.3 1409L850.8 1410L852.3 1411L853.8 1411.9L855.3 1412.8L856.8 1413.7L858.3 1414.6L859.8 1415.5L861.3 1416.3L862.8 1417.2L864.3 1418L865.8 1418.8L867.3 1419.6L868.8 1420.4L870.3 1421.1L871.8 1421.9L873.3 1422.6L874.8 1423.3L876.3 1424L877.8 1424.7L879.3 1425.4L880.8 1426.1L882.3 1426.7L883.8 1427.4L885.3 1428L886.8 1428.6L888.3 1429.3L889.8 1429.9L891.3 1430.4L892.8 1431L894.3 1431.6L895.8 1432.1L897.3 1432.7L898.8 1433.2L900.3 1433.8L901.8 1434.3L903.3 1434.8L904.8 1435.3L906.3 1435.8L907.8 1436.3L909.3 1436.8L910.8 1437.3L912.3 1437.7L913.8 1438.2L915.3 1438.6L916.8 1439.1L918.3 1439.5L919.8 1440L921.3 1440.4L922.8 1440.8L924.3 1441.2L925.8 1441.7L927.3 1442.1L928.8 1442.5L930.3 1442.9L931.8 1443.3L933.3 1443.7L934.8 1444L936.3 1444.4L937.8 1444.8L939.3 1445.2L940.8 1445.5L942.3 1445.9L943.8 1446.3L945.3 1446.6L946.8 1447L948.3 1447.3L949.8 1447.7L951.3 1448L952.8 1448.4L954.3 1448.7L955.8 1449.1L957.3 1449.4L958.8 1449.7L960.3 1450.1L961.8 1450.4L963.3 1450.7L964.8 1451.1L966.3 1451.4L967.8 1451.7L969.3 1452L970.8 1452.4L972.3 1452.7L973.8 1453L975.3 1453.3L976.8 1453.7L978.3 1454L979.8 1454.3L981.3 1454.6L982.8 1455L984.3 1455.3L985.8 1455.6L987.3 1455.9L988.8 1456.3L990.3 1456.6L991.8 1456.9L993.3 1457.2L994.8 1457.6L995.3 1457.7" stroke="#0000ff" stroke-width="3.4"/>
<path d="M177.3 1456.6L178.8 1456.6L180.3 1456.6L181.8 1456.6L183.3 1456.7L184.8 1456.7L186.3 1456.7L187.8 1456.7L189.3 1456.7L190.8 1456.7L192.3 1456.7L193.8 1456.7L195.3 1456.7L196.8 1456.7L198.3 1456.7L199.8 1456.6L201.3 1456.6L202.8 1456.6L204.3 1456.6L205.8 1456.5L207.3 1456.5L208.8 1456.5L210.3 1456.4L211.8 1456.4L213.3 1456.3L214.8 1456.3L216.3 1456.2L217.8 1456.2L219.3 1456.1L220.8 1456.1L222.3 1456L223.8 1455.9L225.3 1455.8L226.8 1455.8L228.3 1455.7L229.8 1455.6L231.3 1455.5L232.8 1455.4L234.3 1455.3L235.8 1455.2L237.3 1455.1L238.8 1455L240.3 1454.9L241.8 1454.8L243.3 1454.7L244.8 1454.5L246.3 1454.4L247.8 1454.3L249.3 1454.1L250.8 1454L252.3 1453.9L253.8 1453.7L255.3 1453.5L256.8 1453.4L258.3 1453.2L259.8 1453.1L261.3 1452.9L262.8 1452.7L264.3 1452.5L265.8 1452.3L267.3 1452.1L268.8 1451.9L270.3 1451.7L271.8 1451.5L273.3 1451.3L274.8 1451.1L276.3 1450.9L277.8 1450.6L279.3 1450.4L280.8 1450.1L282.3 1449.9L283.8 1449.6L285.3 1449.4L286.8 1449.1L288.3 1448.8L289.8 1448.5L291.3 1448.2L292.8 1447.9L294.3 1447.6L295.8 1447.3L297.3 1447L298.8 1446.6L300.3 1446.3L301.8 1446L303.3 1445.6L304.8 1445.2L306.3 1444.8L307.8 1444.5L309.3 1444.1L310.8 1443.7L312.3 1443.2L313.8 1442.8L315.3 1442.4L316.8 1441.9L318.3 1441.4L319.8 1441L321.3 1440.5L322.8 1440L324.3 1439.5L325.8 1438.9L327.3 1438.4L328.8 1437.8L330.3 1437.2L331.8 1436.6L333.3 1436L334.8 1435.4L336.3 1434.7L337.8 1434.1L339.3 1433.4L340.8 1432.7L342.3 1431.9L343.8 1431.2L345.3 1430.4L346.8 1429.6L348.3 1428.8L349.8 1427.9L351.3 1427.1L352.8 1426.1L354.3 1425.2L355.8 1424.2L357.3 1423.2L358.8 1422.2L360.3 1421.1L361.8 1420L363.3 1418.9L364.8 1417.7L366.3 1416.5L367.8 1415.2L369.3 1413.9L370.8 1412.5L372.3 1411.1L373.8 1409.7L375.3 1408.2L376.8 1406.6L378.3 1405L379.8 1403.3L381.3 1401.5L382.8 1399.7L384.3 1397.8L385.8 1395.8L387.3 1393.8L388.8 1391.7L390.3 1389.5L391.8 1387.2L393.3 1384.8L394.8 1382.3L396.3 1379.8L397.8 1377.1L399.3 1374.3L400.8 1371.4L402.3 1368.4L403.8 1365.3L405.3 1362.1L406.8 1358.7L408.3 1355.2L409.8 1351.5L411.3 1347.7L412.8 1343.8L414.3 1339.7L415.8 1335.5L417.3 1331.1L418.8 1326.5L420.3 1321.7L421.8 1316.7L423.3 1311.6L424.8 1306.2L426.3 1300.6L427.8 1294.9L429.3 1288.9L430.8 1282.6L432.3 1276.2L433.8 1269.5L435.3 1262.7L436.8 1255.7L438.3 1248.5L439.8 1241.3L441.3 1234.1L442.8 1227L444.3 1220L445.8 1213.1L447.3 1206.3L448.8 1199.7L450.3 1193.1L451.8 1186.5L453.3 1180L454.8 1173.5L456.3 1167.1L457.8 1160.6L459.3 1154.1L460.8 1147.6L462.3 1141L463.8 1134.4L465.3 1127.8L466.8 1121.1L468.3 1114.6L469.8 1108.2L471.3 1102L472.8 1096.2L474.3 1090.7L475.8 1085.6L477.3 1081.1L478.8 1077.1L480.3 1073.8L481.8 1071.2L483.3 1069.4L484.8 1068.1L486.3 1067.4L487.8 1067.2L489.3 1067.5L490.8 1068.3L492.3 1069.5L493.8 1071.1L495.3 1073.1L496.8 1075.4L498.3 1078.1L499.8 1081.1L501.3 1084.2L502.8 1087.6L504.3 1091.1L505.8 1094.7L507.3 1098.4L508.8 1102.2L510.3 1106.1L511.8 1110L513.3 1113.9L514.8 1117.8L516.3 1121.6L517.8 1125.5L519.3 1129.2L520.8 1132.9L522.3 1136.6L523.8 1140.1L525.3 1143.6L526.8 1147L528.3 1150.3L529.8 1153.4L531.3 1156.5L532.8 1159.4L534.3 1162.2L535.8 1164.9L537.3 1167.5L538.8 1170L540.3 1172.3L541.8 1174.6L543.3 1176.7L544.8 1178.7L546.3 1180.5L547.8 1182.3L549.3 1183.9L550.8 1185.4L552.3 1186.8L553.8 1188.1L555.3 1189.3L556.8 1190.4L558.3 1191.4L559.8 1192.4L561.3 1193.2L562.8 1193.9L564.3 1194.6L565.8 1195.2L567.3 1195.7L568.8 1196.1L570.3 1196.4L571.8 1196.7L573.3 1196.8L574.8 1196.9L576.3 1196.9L577.8 1196.8L579.3 1196.6L580.8 1196.4L582.3 1196L583.8 1195.6L585.3 1195.1L586.8 1194.5L588.3 1193.9L589.8 1193.1L591.3 1192.3L592.8 1191.4L594.3 1190.4L595.8 1189.4L597.3 1188.3L598.8 1187.1L600.3 1185.9L601.8 1184.6L603.3 1183.2L604.8 1181.8L606.3 1180.4L607.8 1178.9L609.3 1177.4L610.8 1175.8L612.3 1174.2L613.8 1172.6L615.3 1171L616.8 1169.4L618.3 1167.7L619.8 1166.1L621.3 1164.4L622.8 1162.8L624.3 1161.1L625.8 1159.5L627.3 1157.9L628.8 1156.4L630.3 1154.8L631.8 1153.3L633.3 1151.8L634.8 1150.4L636.3 1149L637.8 1147.6L639.3 1146.3L640.8 1145.1L642.3 1143.9L643.8 1142.8L645.3 1141.8L646.8 1140.8L648.3 1139.9L649.8 1139L651.3 1138.3L652.8 1137.6L654.3 1137L655.8 1136.5L657.3 1136L658.8 1135.7L660.3 1135.4L661.8 1135.2L663.3 1135.2L664.8 1135.2L666.3 1135.3L667.8 1135.5L669.3 1135.8L670.8 1136.3L672.3 1136.8L673.8 1137.5L675.3 1138.4L676.8 1139.3L678.3 1140.4L679.8 1141.6L681.3 1142.9L682.8 1144.4L684.3 1145.9L685.8 1147.6L687.3 1149.4L688.8 1151.3L690.3 1153.3L691.8 1155.3L693.3 1157.5L694.8 1159.8L696.3 1162.1L697.8 1164.6L699.3 1167.1L700.8 1169.7L702.3 1172.3L703.8 1175L705.3 1177.8L706.8 1180.6L708.3 1183.5L709.8 1186.5L711.3 1189.4L712.8 1192.4L714.3 1195.5L715.8 1198.5L717.3 1201.6L718.8 1204.7L720.3 1207.8L721.8 1211L723.3 1214.1L724.8 1217.2L726.3 1220.4L727.8 1223.5L729.3 1226.7L730.8 1229.8L732.3 1232.9L733.8 1236.1L735.3 1239.2L736.8 1242.3L738.3 1245.4L739.8 1248.4L741.3 1251.5L742.8 1254.5L744.3 1257.6L745.8 1260.5L747.3 1263.5L748.8 1266.5L750.3 1269.4L751.8 1272.3L753.3 1275.2L754.8 1278.1L756.3 1280.9L757.8 1283.7L759.3 1286.5L760.8 1289.2L762.3 1291.9L763.8 1294.6L765.3 1297.2L766.8 1299.8L768.3 1302.4L769.8 1305L771.3 1307.5L772.8 1310L774.3 1312.4L775.8 1314.8L777.3 1317.2L778.8 1319.5L780.3 1321.8L781.8 1324.1L783.3 1326.3L784.8 1328.5L786.3 1330.7L787.8 1332.9L789.3 1335L790.8 1337L792.3 1339.1L793.8 1341.1L795.3 1343L796.8 1345L798.3 1346.9L799.8 1348.7L801.3 1350.6L802.8 1352.4L804.3 1354.2L805.8 1355.9L807.3 1357.6L808.8 1359.3L810.3 1361L811.8 1362.6L813.3 1364.2L814.8 1365.7L816.3 1367.3L817.8 1368.8L819.3 1370.3L820.8 1371.7L822.3 1373.2L823.8 1374.6L825.3 1376L826.8 1377.3L828.3 1378.6L829.8 1380L831.3 1381.2L832.8 1382.5L834.3 1383.7L835.8 1384.9L837.3 1386.1L838.8 1387.3L840.3 1388.4L841.8 1389.6L843.3 1390.7L844.8 1391.7L846.3 1392.8L847.8 1393.8L849.3 1394.8L850.8 1395.8L852.3 1396.8L853.8 1397.8L855.3 1398.7L856.8 1399.7L858.3 1400.6L859.8 1401.4L861.3 1402.3L862.8 1403.2L864.3 1404L865.8 1404.8L867.3 1405.6L868.8 1406.4L870.3 1407.2L871.8 1408L873.3 1408.7L874.8 1409.5L876.3 1410.2L877.8 1410.9L879.3 1411.6L880.8 1412.3L882.3 1412.9L883.8 1413.6L885.3 1414.2L886.8 1414.9L888.3 1415.5L889.8 1416.1L891.3 1416.7L892.8 1417.3L894.3 1417.9L895.8 1418.5L897.3 1419L898.8 1419.6L900.3 1420.1L901.8 1420.7L903.3 1421.2L904.8 1421.7L906.3 1422.2L907.8 1422.7L909.3 1423.2L910.8 1423.7L912.3 1424.2L913.8 1424.6L915.3 1425.1L916.8 1425.6L918.3 1426L919.8 1426.5L921.3 1426.9L922.8 1427.3L924.3 1427.8L925.8 1428.2L927.3 1428.6L928.8 1429L930.3 1429.4L931.8 1429.8L933.3 1430.2L934.8 1430.6L936.3 1431L937.8 1431.4L939.3 1431.8L940.8 1432.2L942.3 1432.5L943.8 1432.9L945.3 1433.3L946.8 1433.6L948.3 1434L949.8 1434.4L951.3 1434.7L952.8 1435.1L954.3 1435.4L955.8 1435.8L957.3 1436.1L958.8 1436.5L960.3 1436.8L961.8 1437.2L963.3 1437.5L964.8 1437.8L966.3 1438.2L967.8 1438.5L969.3 1438.8L970.8 1439.2L972.3 1439.5L973.8 1439.9L975.3 1440.2L976.8 1440.5L978.3 1440.9L979.8 1441.2L981.3 1441.5L982.8 1441.8L984.3 1442.2L985.8 1442.5L987.3 1442.8L988.8 1443.2L990.3 1443.5L991.8 1443.8L993.3 1444.2L994.8 1444.5L995.3 1444.6" stroke="#ff0000" stroke-width="3.4"/>
<path d="M177.3 1442.7L178.8 1442.7L180.3 1442.8L181.8 1442.8L183.3 1442.8L184.8 1442.9L186.3 1442.9L187.8 1442.9L189.3 1442.9L190.8 1443L192.3 1443L193.8 1443L195.3 1443L196.8 1443L198.3 1443L199.8 1443L201.3 1443L202.8 1443L204.3 1442.9L205.8 1442.9L207.3 1442.9L208.8 1442.9L210.3 1442.9L211.8 1442.8L213.3 1442.8L214.8 1442.7L216.3 1442.7L217.8 1442.7L219.3 1442.6L220.8 1442.6L222.3 1442.5L223.8 1442.4L225.3 1442.4L226.8 1442.3L228.3 1442.2L229.8 1442.1L231.3 1442.1L232.8 1442L234.3 1441.9L235.8 1441.8L237.3 1441.7L238.8 1441.6L240.3 1441.5L241.8 1441.4L243.3 1441.3L244.8 1441.2L246.3 1441L247.8 1440.9L249.3 1440.8L250.8 1440.6L252.3 1440.5L253.8 1440.4L255.3 1440.2L256.8 1440.1L258.3 1439.9L259.8 1439.7L261.3 1439.6L262.8 1439.4L264.3 1439.2L265.8 1439L267.3 1438.8L268.8 1438.6L270.3 1438.4L271.8 1438.2L273.3 1438L274.8 1437.8L276.3 1437.6L277.8 1437.4L279.3 1437.1L280.8 1436.9L282.3 1436.6L283.8 1436.4L285.3 1436.1L286.8 1435.9L288.3 1435.6L289.8 1435.3L291.3 1435L292.8 1434.7L294.3 1434.4L295.8 1434.1L297.3 1433.8L298.8 1433.4L300.3 1433.1L301.8 1432.7L303.3 1432.4L304.8 1432L306.3 1431.7L307.8 1431.3L309.3 1430.9L310.8 1430.5L312.3 1430.1L313.8 1429.6L315.3 1429.2L316.8 1428.7L318.3 1428.3L319.8 1427.8L321.3 1427.3L322.8 1426.8L324.3 1426.3L325.8 1425.8L327.3 1425.2L328.8 1424.7L330.3 1424.1L331.8 1423.5L333.3 1422.9L334.8 1422.2L336.3 1421.6L337.8 1420.9L339.3 1420.2L340.8 1419.5L342.3 1418.8L343.8 1418.1L345.3 1417.3L346.8 1416.5L348.3 1415.7L349.8 1414.8L351.3 1414L352.8 1413.1L354.3 1412.1L355.8 1411.2L357.3 1410.2L358.8 1409.1L360.3 1408.1L361.8 1407L363.3 1405.8L364.8 1404.7L366.3 1403.4L367.8 1402.2L369.3 1400.9L370.8 1399.5L372.3 1398.1L373.8 1396.7L375.3 1395.2L376.8 1393.6L378.3 1392L379.8 1390.3L381.3 1388.6L382.8 1386.7L384.3 1384.9L385.8 1382.9L387.3 1380.9L388.8 1378.8L390.3 1376.6L391.8 1374.3L393.3 1371.9L394.8 1369.5L396.3 1366.9L397.8 1364.2L399.3 1361.5L400.8 1358.6L402.3 1355.6L403.8 1352.5L405.3 1349.2L406.8 1345.8L408.3 1342.3L409.8 1338.7L411.3 1334.9L412.8 1331L414.3 1326.9L415.8 1322.6L417.3 1318.2L418.8 1313.6L420.3 1308.8L421.8 1303.8L423.3 1298.6L424.8 1293.3L426.3 1287.7L427.8 1281.9L429.3 1275.8L430.8 1269.6L432.3 1263.1L433.8 1256.5L435.3 1249.6L436.8 1242.5L438.3 1235.4L439.8 1228.2L441.3 1221L442.8 1213.8L444.3 1206.8L445.8 1199.9L447.3 1193.1L448.8 1186.4L450.3 1179.8L451.8 1173.2L453.3 1166.6L454.8 1160.1L456.3 1153.6L457.8 1147.1L459.3 1140.5L460.8 1133.9L462.3 1127.3L463.8 1120.7L465.3 1114L466.8 1107.3L468.3 1100.7L469.8 1094.3L471.3 1088.1L472.8 1082.2L474.3 1076.7L475.8 1071.6L477.3 1067L478.8 1063L480.3 1059.7L481.8 1057.2L483.3 1055.4L484.8 1054.2L486.3 1053.5L487.8 1053.3L489.3 1053.7L490.8 1054.5L492.3 1055.8L493.8 1057.6L495.3 1059.7L496.8 1062.2L498.3 1065.1L499.8 1068.2L501.3 1071.6L502.8 1075.1L504.3 1078.8L505.8 1082.6L507.3 1086.4L508.8 1090.3L510.3 1094.3L511.8 1098.2L513.3 1102.2L514.8 1106.1L516.3 1110.1L517.8 1113.9L519.3 1117.7L520.8 1121.5L522.3 1125.1L523.8 1128.7L525.3 1132.2L526.8 1135.6L528.3 1138.9L529.8 1142.1L531.3 1145.1L532.8 1148.1L534.3 1150.9L535.8 1153.6L537.3 1156.2L538.8 1158.7L540.3 1161.1L541.8 1163.4L543.3 1165.5L544.8 1167.5L546.3 1169.4L547.8 1171.2L549.3 1172.9L550.8 1174.5L552.3 1175.9L553.8 1177.3L555.3 1178.5L556.8 1179.7L558.3 1180.7L559.8 1181.7L561.3 1182.5L562.8 1183.3L564.3 1184L565.8 1184.6L567.3 1185.2L568.8 1185.6L570.3 1186L571.8 1186.3L573.3 1186.5L574.8 1186.6L576.3 1186.6L577.8 1186.6L579.3 1186.4L580.8 1186.2L582.3 1185.9L583.8 1185.5L585.3 1185.1L586.8 1184.5L588.3 1183.9L589.8 1183.2L591.3 1182.4L592.8 1181.6L594.3 1180.7L595.8 1179.7L597.3 1178.6L598.8 1177.5L600.3 1176.3L601.8 1175L603.3 1173.7L604.8 1172.3L606.3 1170.9L607.8 1169.4L609.3 1167.9L610.8 1166.3L612.3 1164.8L613.8 1163.1L615.3 1161.5L616.8 1159.8L618.3 1158.2L619.8 1156.5L621.3 1154.8L622.8 1153.1L624.3 1151.5L625.8 1149.8L627.3 1148.1L628.8 1146.5L630.3 1144.9L631.8 1143.3L633.3 1141.8L634.8 1140.2L636.3 1138.8L637.8 1137.3L639.3 1135.9L640.8 1134.6L642.3 1133.3L643.8 1132.1L645.3 1131L646.8 1129.9L648.3 1128.9L649.8 1127.9L651.3 1127L652.8 1126.2L654.3 1125.5L655.8 1124.9L657.3 1124.3L658.8 1123.8L660.3 1123.4L661.8 1123.1L663.3 1122.9L664.8 1122.8L666.3 1122.8L667.8 1122.8L669.3 1123L670.8 1123.3L672.3 1123.7L673.8 1124.2L675.3 1124.8L676.8 1125.6L678.3 1126.5L679.8 1127.5L681.3 1128.6L682.8 1129.9L684.3 1131.3L685.8 1132.8L687.3 1134.4L688.8 1136.1L690.3 1137.9L691.8 1139.9L693.3 1141.9L694.8 1144L696.3 1146.3L697.8 1148.6L699.3 1151L700.8 1153.4L702.3 1156L703.8 1158.6L705.3 1161.3L706.8 1164L708.3 1166.8L709.8 1169.7L711.3 1172.6L712.8 1175.5L714.3 1178.5L715.8 1181.5L717.3 1184.6L718.8 1187.7L720.3 1190.8L721.8 1193.9L723.3 1197L724.8 1200.2L726.3 1203.3L727.8 1206.4L729.3 1209.6L730.8 1212.7L732.3 1215.9L733.8 1219L735.3 1222.2L736.8 1225.3L738.3 1228.4L739.8 1231.5L741.3 1234.6L742.8 1237.7L744.3 1240.7L745.8 1243.8L747.3 1246.8L748.8 1249.8L750.3 1252.7L751.8 1255.7L753.3 1258.6L754.8 1261.5L756.3 1264.4L757.8 1267.2L759.3 1270L760.8 1272.8L762.3 1275.6L763.8 1278.3L765.3 1281L766.8 1283.7L768.3 1286.3L769.8 1288.9L771.3 1291.5L772.8 1294L774.3 1296.5L775.8 1298.9L777.3 1301.4L778.8 1303.8L780.3 1306.1L781.8 1308.4L783.3 1310.7L784.8 1313L786.3 1315.2L787.8 1317.4L789.3 1319.5L790.8 1321.6L792.3 1323.7L793.8 1325.7L795.3 1327.7L796.8 1329.7L798.3 1331.7L799.8 1333.6L801.3 1335.5L802.8 1337.3L804.3 1339.1L805.8 1340.9L807.3 1342.7L808.8 1344.4L810.3 1346.1L811.8 1347.7L813.3 1349.4L814.8 1351L816.3 1352.5L817.8 1354.1L819.3 1355.6L820.8 1357.1L822.3 1358.5L823.8 1360L825.3 1361.4L826.8 1362.8L828.3 1364.1L829.8 1365.5L831.3 1366.8L832.8 1368.1L834.3 1369.3L835.8 1370.5L837.3 1371.8L838.8 1372.9L840.3 1374.1L841.8 1375.3L843.3 1376.4L844.8 1377.5L846.3 1378.6L847.8 1379.6L849.3 1380.7L850.8 1381.7L852.3 1382.7L853.8 1383.7L855.3 1384.6L856.8 1385.6L858.3 1386.5L859.8 1387.4L861.3 1388.3L862.8 1389.2L864.3 1390L865.8 1390.9L867.3 1391.7L868.8 1392.5L870.3 1393.3L871.8 1394.1L873.3 1394.8L874.8 1395.6L876.3 1396.3L877.8 1397L879.3 1397.7L880.8 1398.4L882.3 1399.1L883.8 1399.8L885.3 1400.5L886.8 1401.1L888.3 1401.7L889.8 1402.4L891.3 1403L892.8 1403.6L894.3 1404.2L895.8 1404.8L897.3 1405.3L898.8 1405.9L900.3 1406.5L901.8 1407L903.3 1407.5L904.8 1408.1L906.3 1408.6L907.8 1409.1L909.3 1409.6L910.8 1410.1L912.3 1410.6L913.8 1411.1L915.3 1411.6L916.8 1412L918.3 1412.5L919.8 1412.9L921.3 1413.4L922.8 1413.8L924.3 1414.3L925.8 1414.7L927.3 1415.1L928.8 1415.6L930.3 1416L931.8 1416.4L933.3 1416.8L934.8 1417.2L936.3 1417.6L937.8 1418L939.3 1418.4L940.8 1418.8L942.3 1419.2L943.8 1419.5L945.3 1419.9L946.8 1420.3L948.3 1420.7L949.8 1421L951.3 1421.4L952.8 1421.8L954.3 1422.1L955.8 1422.5L957.3 1422.8L958.8 1423.2L960.3 1423.6L961.8 1423.9L963.3 1424.3L964.8 1424.6L966.3 1425L967.8 1425.3L969.3 1425.6L970.8 1426L972.3 1426.3L973.8 1426.7L975.3 1427L976.8 1427.4L978.3 1427.7L979.8 1428L981.3 1428.4L982.8 1428.7L984.3 1429.1L985.8 1429.4L987.3 1429.8L988.8 1430.1L990.3 1430.4L991.8 1430.8L993.3 1431.1L994.8 1431.5L995.3 1431.6" stroke="#00ff00" stroke-width="3.4"/>
<path d="M177.3 1428.8L178.8 1428.9L180.3 1428.9L181.8 1429L183.3 1429L184.8 1429.1L186.3 1429.1L187.8 1429.1L189.3 1429.2L190.8 1429.2L192.3 1429.2L193.8 1429.3L195.3 1429.3L196.8 1429.3L198.3 1429.3L199.8 1429.3L201.3 1429.3L202.8 1429.3L204.3 1429.3L205.8 1429.3L207.3 1429.3L208.8 1429.3L210.3 1429.3L211.8 1429.3L213.3 1429.2L214.8 1429.2L216.3 1429.2L217.8 1429.1L219.3 1429.1L220.8 1429L222.3 1429L223.8 1428.9L225.3 1428.9L226.8 1428.8L228.3 1428.8L229.8 1428.7L231.3 1428.6L232.8 1428.6L234.3 1428.5L235.8 1428.4L237.3 1428.3L238.8 1428.2L240.3 1428.1L241.8 1428L243.3 1427.9L244.8 1427.8L246.3 1427.7L247.8 1427.6L249.3 1427.4L250.8 1427.3L252.3 1427.2L253.8 1427L255.3 1426.9L256.8 1426.7L258.3 1426.6L259.8 1426.4L261.3 1426.3L262.8 1426.1L264.3 1425.9L265.8 1425.7L267.3 1425.6L268.8 1425.4L270.3 1425.2L271.8 1425L273.3 1424.8L274.8 1424.5L276.3 1424.3L277.8 1424.1L279.3 1423.9L280.8 1423.6L282.3 1423.4L283.8 1423.1L285.3 1422.9L286.8 1422.6L288.3 1422.3L289.8 1422.1L291.3 1421.8L292.8 1421.5L294.3 1421.2L295.8 1420.9L297.3 1420.6L298.8 1420.2L300.3 1419.9L301.8 1419.5L303.3 1419.2L304.8 1418.8L306.3 1418.5L307.8 1418.1L309.3 1417.7L310.8 1417.3L312.3 1416.9L313.8 1416.4L315.3 1416L316.8 1415.6L318.3 1415.1L319.8 1414.6L321.3 1414.1L322.8 1413.6L324.3 1413.1L325.8 1412.6L327.3 1412.1L328.8 1411.5L330.3 1410.9L331.8 1410.3L333.3 1409.7L334.8 1409.1L336.3 1408.5L337.8 1407.8L339.3 1407.1L340.8 1406.4L342.3 1405.7L343.8 1404.9L345.3 1404.2L346.8 1403.4L348.3 1402.6L349.8 1401.7L351.3 1400.9L352.8 1400L354.3 1399L355.8 1398.1L357.3 1397.1L358.8 1396.1L360.3 1395L361.8 1393.9L363.3 1392.8L364.8 1391.6L366.3 1390.4L367.8 1389.1L369.3 1387.9L370.8 1386.5L372.3 1385.1L373.8 1383.7L375.3 1382.2L376.8 1380.6L378.3 1379L379.8 1377.3L381.3 1375.6L382.8 1373.8L384.3 1371.9L385.8 1370L387.3 1368L388.8 1365.9L390.3 1363.7L391.8 1361.4L393.3 1359L394.8 1356.6L396.3 1354L397.8 1351.4L399.3 1348.6L400.8 1345.7L402.3 1342.7L403.8 1339.6L405.3 1336.4L406.8 1333L408.3 1329.5L409.8 1325.8L411.3 1322L412.8 1318.1L414.3 1314L415.8 1309.7L417.3 1305.3L418.8 1300.7L420.3 1295.9L421.8 1290.9L423.3 1285.7L424.8 1280.3L426.3 1274.7L427.8 1268.9L429.3 1262.8L430.8 1256.6L432.3 1250.1L433.8 1243.4L435.3 1236.5L436.8 1229.4L438.3 1222.2L439.8 1215L441.3 1207.8L442.8 1200.6L444.3 1193.6L445.8 1186.6L447.3 1179.8L448.8 1173.1L450.3 1166.4L451.8 1159.8L453.3 1153.2L454.8 1146.7L456.3 1140.1L457.8 1133.5L459.3 1126.9L460.8 1120.3L462.3 1113.6L463.8 1106.9L465.3 1100.2L466.8 1093.4L468.3 1086.8L469.8 1080.4L471.3 1074.1L472.8 1068.2L474.3 1062.6L475.8 1057.5L477.3 1052.9L478.8 1048.9L480.3 1045.6L481.8 1043.1L483.3 1041.3L484.8 1040.2L486.3 1039.5L487.8 1039.5L489.3 1039.9L490.8 1040.8L492.3 1042.2L493.8 1044.1L495.3 1046.4L496.8 1049.1L498.3 1052.1L499.8 1055.5L501.3 1059L502.8 1062.7L504.3 1066.6L505.8 1070.5L507.3 1074.4L508.8 1078.4L510.3 1082.4L511.8 1086.5L513.3 1090.5L514.8 1094.5L516.3 1098.5L517.8 1102.4L519.3 1106.2L520.8 1110L522.3 1113.7L523.8 1117.3L525.3 1120.8L526.8 1124.2L528.3 1127.5L529.8 1130.7L531.3 1133.8L532.8 1136.7L534.3 1139.6L535.8 1142.3L537.3 1145L538.8 1147.5L540.3 1149.9L541.8 1152.2L543.3 1154.4L544.8 1156.4L546.3 1158.4L547.8 1160.2L549.3 1161.9L550.8 1163.5L552.3 1165L553.8 1166.4L555.3 1167.7L556.8 1168.9L558.3 1170L559.8 1171L561.3 1171.9L562.8 1172.7L564.3 1173.4L565.8 1174.1L567.3 1174.7L568.8 1175.1L570.3 1175.5L571.8 1175.9L573.3 1176.1L574.8 1176.2L576.3 1176.3L577.8 1176.3L579.3 1176.2L580.8 1176L582.3 1175.8L583.8 1175.4L585.3 1175L586.8 1174.5L588.3 1174L589.8 1173.3L591.3 1172.6L592.8 1171.8L594.3 1170.9L595.8 1169.9L597.3 1168.9L598.8 1167.8L600.3 1166.7L601.8 1165.4L603.3 1164.1L604.8 1162.8L606.3 1161.4L607.8 1159.9L609.3 1158.4L610.8 1156.9L612.3 1155.3L613.8 1153.7L615.3 1152L616.8 1150.4L618.3 1148.7L619.8 1147L621.3 1145.3L622.8 1143.6L624.3 1141.9L625.8 1140.1L627.3 1138.4L628.8 1136.7L630.3 1135.1L631.8 1133.4L633.3 1131.8L634.8 1130.2L636.3 1128.7L637.8 1127.1L639.3 1125.7L640.8 1124.3L642.3 1122.9L643.8 1121.6L645.3 1120.3L646.8 1119.1L648.3 1118L649.8 1116.9L651.3 1116L652.8 1115.1L654.3 1114.2L655.8 1113.5L657.3 1112.8L658.8 1112.2L660.3 1111.7L661.8 1111.2L663.3 1110.9L664.8 1110.6L666.3 1110.5L667.8 1110.4L669.3 1110.4L670.8 1110.5L672.3 1110.7L673.8 1111.1L675.3 1111.5L676.8 1112.1L678.3 1112.8L679.8 1113.6L681.3 1114.6L682.8 1115.7L684.3 1116.9L685.8 1118.2L687.3 1119.6L688.8 1121.2L690.3 1122.9L691.8 1124.6L693.3 1126.5L694.8 1128.5L696.3 1130.6L697.8 1132.8L699.3 1135L700.8 1137.4L702.3 1139.8L703.8 1142.3L705.3 1144.9L706.8 1147.6L708.3 1150.3L709.8 1153L711.3 1155.9L712.8 1158.7L714.3 1161.7L715.8 1164.6L717.3 1167.6L718.8 1170.7L720.3 1173.7L721.8 1176.8L723.3 1179.9L724.8 1183.1L726.3 1186.2L727.8 1189.4L729.3 1192.5L730.8 1195.7L732.3 1198.8L733.8 1202L735.3 1205.1L736.8 1208.3L738.3 1211.4L739.8 1214.5L741.3 1217.7L742.8 1220.8L744.3 1223.8L745.8 1226.9L747.3 1230L748.8 1233L750.3 1236L751.8 1239L753.3 1242L754.8 1244.9L756.3 1247.8L757.8 1250.7L759.3 1253.6L760.8 1256.4L762.3 1259.2L763.8 1262L765.3 1264.7L766.8 1267.4L768.3 1270.1L769.8 1272.8L771.3 1275.4L772.8 1277.9L774.3 1280.5L775.8 1283L777.3 1285.5L778.8 1287.9L780.3 1290.3L781.8 1292.7L783.3 1295L784.8 1297.3L786.3 1299.6L787.8 1301.8L789.3 1304L790.8 1306.2L792.3 1308.3L793.8 1310.4L795.3 1312.4L796.8 1314.4L798.3 1316.4L799.8 1318.4L801.3 1320.3L802.8 1322.2L804.3 1324L805.8 1325.9L807.3 1327.6L808.8 1329.4L810.3 1331.1L811.8 1332.8L813.3 1334.5L814.8 1336.1L816.3 1337.7L817.8 1339.3L819.3 1340.9L820.8 1342.4L822.3 1343.9L823.8 1345.3L825.3 1346.8L826.8 1348.2L828.3 1349.6L829.8 1350.9L831.3 1352.3L832.8 1353.6L834.3 1354.9L835.8 1356.1L837.3 1357.4L838.8 1358.6L840.3 1359.8L841.8 1360.9L843.3 1362.1L844.8 1363.2L846.3 1364.3L847.8 1365.4L849.3 1366.5L850.8 1367.5L852.3 1368.5L853.8 1369.5L855.3 1370.5L856.8 1371.5L858.3 1372.4L859.8 1373.3L861.3 1374.2L862.8 1375.1L864.3 1376L865.8 1376.9L867.3 1377.7L868.8 1378.5L870.3 1379.3L871.8 1380.1L873.3 1380.9L874.8 1381.7L876.3 1382.4L877.8 1383.2L879.3 1383.9L880.8 1384.6L882.3 1385.3L883.8 1386L885.3 1386.7L886.8 1387.3L888.3 1388L889.8 1388.6L891.3 1389.2L892.8 1389.9L894.3 1390.5L895.8 1391.1L897.3 1391.6L898.8 1392.2L900.3 1392.8L901.8 1393.3L903.3 1393.9L904.8 1394.4L906.3 1395L907.8 1395.5L909.3 1396L910.8 1396.5L912.3 1397L913.8 1397.5L915.3 1398L916.8 1398.5L918.3 1399L919.8 1399.4L921.3 1399.9L922.8 1400.3L924.3 1400.8L925.8 1401.2L927.3 1401.7L928.8 1402.1L930.3 1402.5L931.8 1403L933.3 1403.4L934.8 1403.8L936.3 1404.2L937.8 1404.6L939.3 1405L940.8 1405.4L942.3 1405.8L943.8 1406.2L945.3 1406.6L946.8 1407L948.3 1407.3L949.8 1407.7L951.3 1408.1L952.8 1408.5L954.3 1408.8L955.8 1409.2L957.3 1409.6L958.8 1409.9L960.3 1410.3L961.8 1410.7L963.3 1411L964.8 1411.4L966.3 1411.7L967.8 1412.1L969.3 1412.4L970.8 1412.8L972.3 1413.1L973.8 1413.5L975.3 1413.9L976.8 1414.2L978.3 1414.6L979.8 1414.9L981.3 1415.3L982.8 1415.6L984.3 1416L985.8 1416.3L987.3 1416.7L988.8 1417L990.3 1417.4L991.8 1417.7L993.3 1418.1L994.8 1418.4L995.3 1418.6" stroke="#e08a00" stroke-width="2.8"/>
<path d="M177.3 1414.9L178.8 1415L180.3 1415.1L181.8 1415.1L183.3 1415.2L184.8 1415.3L186.3 1415.3L187.8 1415.4L189.3 1415.4L190.8 1415.5L192.3 1415.5L193.8 1415.5L195.3 1415.6L196.8 1415.6L198.3 1415.6L199.8 1415.7L201.3 1415.7L202.8 1415.7L204.3 1415.7L205.8 1415.7L207.3 1415.7L208.8 1415.7L210.3 1415.7L211.8 1415.7L213.3 1415.7L214.8 1415.7L216.3 1415.6L217.8 1415.6L219.3 1415.6L220.8 1415.5L222.3 1415.5L223.8 1415.5L225.3 1415.4L226.8 1415.4L228.3 1415.3L229.8 1415.2L231.3 1415.2L232.8 1415.1L234.3 1415L235.8 1415L237.3 1414.9L238.8 1414.8L240.3 1414.7L241.8 1414.6L243.3 1414.5L244.8 1414.4L246.3 1414.3L247.8 1414.2L249.3 1414.1L250.8 1414L252.3 1413.8L253.8 1413.7L255.3 1413.6L256.8 1413.4L258.3 1413.3L259.8 1413.1L261.3 1413L262.8 1412.8L264.3 1412.6L265.8 1412.4L267.3 1412.3L268.8 1412.1L270.3 1411.9L271.8 1411.7L273.3 1411.5L274.8 1411.3L276.3 1411.1L277.8 1410.8L279.3 1410.6L280.8 1410.4L282.3 1410.1L283.8 1409.9L285.3 1409.6L286.8 1409.4L288.3 1409.1L289.8 1408.8L291.3 1408.6L292.8 1408.3L294.3 1408L295.8 1407.7L297.3 1407.3L298.8 1407L300.3 1406.7L301.8 1406.3L303.3 1406L304.8 1405.6L306.3 1405.3L307.8 1404.9L309.3 1404.5L310.8 1404.1L312.3 1403.7L313.8 1403.3L315.3 1402.8L316.8 1402.4L318.3 1401.9L319.8 1401.5L321.3 1401L322.8 1400.5L324.3 1400L325.8 1399.4L327.3 1398.9L328.8 1398.3L330.3 1397.8L331.8 1397.2L333.3 1396.6L334.8 1396L336.3 1395.3L337.8 1394.7L339.3 1394L340.8 1393.3L342.3 1392.6L343.8 1391.8L345.3 1391.1L346.8 1390.3L348.3 1389.5L349.8 1388.6L351.3 1387.8L352.8 1386.9L354.3 1385.9L355.8 1385L357.3 1384L358.8 1383L360.3 1381.9L361.8 1380.9L363.3 1379.7L364.8 1378.6L366.3 1377.4L367.8 1376.1L369.3 1374.8L370.8 1373.5L372.3 1372.1L373.8 1370.7L375.3 1369.2L376.8 1367.6L378.3 1366L379.8 1364.4L381.3 1362.6L382.8 1360.9L384.3 1359L385.8 1357.1L387.3 1355L388.8 1352.9L390.3 1350.8L391.8 1348.5L393.3 1346.2L394.8 1343.7L396.3 1341.2L397.8 1338.5L399.3 1335.7L400.8 1332.9L402.3 1329.9L403.8 1326.8L405.3 1323.5L406.8 1320.2L408.3 1316.6L409.8 1313L411.3 1309.2L412.8 1305.2L414.3 1301.1L415.8 1296.9L417.3 1292.4L418.8 1287.8L420.3 1283L421.8 1278L423.3 1272.8L424.8 1267.3L426.3 1261.7L427.8 1255.9L429.3 1249.8L430.8 1243.5L432.3 1237L433.8 1230.3L435.3 1223.4L436.8 1216.3L438.3 1209.1L439.8 1201.8L441.3 1194.6L442.8 1187.4L444.3 1180.4L445.8 1173.4L447.3 1166.6L448.8 1159.8L450.3 1153.1L451.8 1146.5L453.3 1139.8L454.8 1133.2L456.3 1126.6L457.8 1119.9L459.3 1113.3L460.8 1106.6L462.3 1099.9L463.8 1093.1L465.3 1086.3L466.8 1079.6L468.3 1072.9L469.8 1066.4L471.3 1060.1L472.8 1054.2L474.3 1048.6L475.8 1043.4L477.3 1038.8L478.8 1034.8L480.3 1031.5L481.8 1029L483.3 1027.3L484.8 1026.2L486.3 1025.6L487.8 1025.6L489.3 1026.1L490.8 1027.1L492.3 1028.6L493.8 1030.6L495.3 1033.1L496.8 1036L498.3 1039.2L499.8 1042.7L501.3 1046.5L502.8 1050.4L504.3 1054.3L505.8 1058.4L507.3 1062.4L508.8 1066.5L510.3 1070.6L511.8 1074.8L513.3 1078.8L514.8 1082.9L516.3 1086.9L517.8 1090.9L519.3 1094.7L520.8 1098.5L522.3 1102.3L523.8 1105.9L525.3 1109.4L526.8 1112.8L528.3 1116.1L529.8 1119.3L531.3 1122.4L532.8 1125.4L534.3 1128.3L535.8 1131L537.3 1133.7L538.8 1136.2L540.3 1138.7L541.8 1141L543.3 1143.2L544.8 1145.3L546.3 1147.3L547.8 1149.1L549.3 1150.9L550.8 1152.5L552.3 1154.1L553.8 1155.5L555.3 1156.8L556.8 1158.1L558.3 1159.2L559.8 1160.3L561.3 1161.2L562.8 1162.1L564.3 1162.8L565.8 1163.5L567.3 1164.1L568.8 1164.7L570.3 1165.1L571.8 1165.4L573.3 1165.7L574.8 1165.9L576.3 1166L577.8 1166L579.3 1166L580.8 1165.8L582.3 1165.6L583.8 1165.3L585.3 1165L586.8 1164.5L588.3 1164L589.8 1163.4L591.3 1162.7L592.8 1161.9L594.3 1161.1L595.8 1160.2L597.3 1159.2L598.8 1158.1L600.3 1157L601.8 1155.8L603.3 1154.6L604.8 1153.3L606.3 1151.9L607.8 1150.5L609.3 1149L610.8 1147.4L612.3 1145.9L613.8 1144.3L615.3 1142.6L616.8 1140.9L618.3 1139.3L619.8 1137.5L621.3 1135.8L622.8 1134.1L624.3 1132.3L625.8 1130.6L627.3 1128.8L628.8 1127.1L630.3 1125.4L631.8 1123.7L633.3 1122L634.8 1120.3L636.3 1118.7L637.8 1117.1L639.3 1115.5L640.8 1114L642.3 1112.6L643.8 1111.2L645.3 1109.8L646.8 1108.5L648.3 1107.3L649.8 1106.2L651.3 1105.1L652.8 1104L654.3 1103.1L655.8 1102.2L657.3 1101.4L658.8 1100.7L660.3 1100.1L661.8 1099.5L663.3 1099.1L664.8 1098.7L666.3 1098.4L667.8 1098.2L669.3 1098.1L670.8 1098L672.3 1098.1L673.8 1098.3L675.3 1098.5L676.8 1098.9L678.3 1099.4L679.8 1100.1L681.3 1100.8L682.8 1101.7L684.3 1102.8L685.8 1103.9L687.3 1105.2L688.8 1106.5L690.3 1108L691.8 1109.6L693.3 1111.4L694.8 1113.2L696.3 1115.1L697.8 1117.2L699.3 1119.3L700.8 1121.5L702.3 1123.8L703.8 1126.2L705.3 1128.7L706.8 1131.2L708.3 1133.8L709.8 1136.5L711.3 1139.3L712.8 1142.1L714.3 1144.9L715.8 1147.8L717.3 1150.8L718.8 1153.7L720.3 1156.8L721.8 1159.8L723.3 1162.9L724.8 1166L726.3 1169.1L727.8 1172.3L729.3 1175.4L730.8 1178.6L732.3 1181.7L733.8 1184.9L735.3 1188L736.8 1191.2L738.3 1194.4L739.8 1197.5L741.3 1200.7L742.8 1203.8L744.3 1206.9L745.8 1210L747.3 1213.1L748.8 1216.2L750.3 1219.2L751.8 1222.2L753.3 1225.2L754.8 1228.2L756.3 1231.2L757.8 1234.1L759.3 1237L760.8 1239.9L762.3 1242.8L763.8 1245.6L765.3 1248.4L766.8 1251.1L768.3 1253.9L769.8 1256.6L771.3 1259.2L772.8 1261.8L774.3 1264.4L775.8 1267L777.3 1269.5L778.8 1272L780.3 1274.5L781.8 1276.9L783.3 1279.3L784.8 1281.6L786.3 1283.9L787.8 1286.2L789.3 1288.4L790.8 1290.6L792.3 1292.8L793.8 1294.9L795.3 1297L796.8 1299.1L798.3 1301.1L799.8 1303.1L801.3 1305.1L802.8 1307L804.3 1308.9L805.8 1310.8L807.3 1312.6L808.8 1314.4L810.3 1316.2L811.8 1317.9L813.3 1319.6L814.8 1321.3L816.3 1322.9L817.8 1324.5L819.3 1326.1L820.8 1327.7L822.3 1329.2L823.8 1330.7L825.3 1332.2L826.8 1333.6L828.3 1335L829.8 1336.4L831.3 1337.8L832.8 1339.1L834.3 1340.4L835.8 1341.7L837.3 1343L838.8 1344.2L840.3 1345.4L841.8 1346.6L843.3 1347.8L844.8 1348.9L846.3 1350L847.8 1351.1L849.3 1352.2L850.8 1353.3L852.3 1354.3L853.8 1355.4L855.3 1356.4L856.8 1357.3L858.3 1358.3L859.8 1359.2L861.3 1360.2L862.8 1361.1L864.3 1362L865.8 1362.8L867.3 1363.7L868.8 1364.5L870.3 1365.4L871.8 1366.2L873.3 1367L874.8 1367.8L876.3 1368.5L877.8 1369.3L879.3 1370L880.8 1370.7L882.3 1371.5L883.8 1372.2L885.3 1372.8L886.8 1373.5L888.3 1374.2L889.8 1374.8L891.3 1375.5L892.8 1376.1L894.3 1376.7L895.8 1377.3L897.3 1377.9L898.8 1378.5L900.3 1379.1L901.8 1379.7L903.3 1380.2L904.8 1380.8L906.3 1381.3L907.8 1381.9L909.3 1382.4L910.8 1382.9L912.3 1383.4L913.8 1383.9L915.3 1384.4L916.8 1384.9L918.3 1385.4L919.8 1385.9L921.3 1386.4L922.8 1386.8L924.3 1387.3L925.8 1387.7L927.3 1388.2L928.8 1388.6L930.3 1389.1L931.8 1389.5L933.3 1389.9L934.8 1390.4L936.3 1390.8L937.8 1391.2L939.3 1391.6L940.8 1392L942.3 1392.4L943.8 1392.8L945.3 1393.2L946.8 1393.6L948.3 1394L949.8 1394.4L951.3 1394.8L952.8 1395.2L954.3 1395.5L955.8 1395.9L957.3 1396.3L958.8 1396.7L960.3 1397L961.8 1397.4L963.3 1397.8L964.8 1398.1L966.3 1398.5L967.8 1398.9L969.3 1399.2L970.8 1399.6L972.3 1400L973.8 1400.3L975.3 1400.7L976.8 1401L978.3 1401.4L979.8 1401.8L981.3 1402.1L982.8 1402.5L984.3 1402.9L985.8 1403.2L987.3 1403.6L988.8 1403.9L990.3 1404.3L991.8 1404.7L993.3 1405L994.8 1405.4L995.3 1405.5" stroke="#ff00ff" stroke-width="3.4"/>
<path d="M177.3 1401L178.8 1401.1L180.3 1401.2L181.8 1401.3L183.3 1401.4L184.8 1401.5L186.3 1401.5L187.8 1401.6L189.3 1401.7L190.8 1401.7L192.3 1401.8L193.8 1401.8L195.3 1401.9L196.8 1401.9L198.3 1402L199.8 1402L201.3 1402L202.8 1402L204.3 1402.1L205.8 1402.1L207.3 1402.1L208.8 1402.1L210.3 1402.1L211.8 1402.1L213.3 1402.1L214.8 1402.1L216.3 1402.1L217.8 1402.1L219.3 1402.1L220.8 1402L222.3 1402L223.8 1402L225.3 1401.9L226.8 1401.9L228.3 1401.8L229.8 1401.8L231.3 1401.7L232.8 1401.7L234.3 1401.6L235.8 1401.6L237.3 1401.5L238.8 1401.4L240.3 1401.3L241.8 1401.2L243.3 1401.1L244.8 1401L246.3 1400.9L247.8 1400.8L249.3 1400.7L250.8 1400.6L252.3 1400.5L253.8 1400.4L255.3 1400.2L256.8 1400.1L258.3 1399.9L259.8 1399.8L261.3 1399.6L262.8 1399.5L264.3 1399.3L265.8 1399.2L267.3 1399L268.8 1398.8L270.3 1398.6L271.8 1398.4L273.3 1398.2L274.8 1398L276.3 1397.8L277.8 1397.6L279.3 1397.4L280.8 1397.1L282.3 1396.9L283.8 1396.7L285.3 1396.4L286.8 1396.1L288.3 1395.9L289.8 1395.6L291.3 1395.3L292.8 1395L294.3 1394.7L295.8 1394.4L297.3 1394.1L298.8 1393.8L300.3 1393.5L301.8 1393.1L303.3 1392.8L304.8 1392.4L306.3 1392.1L307.8 1391.7L309.3 1391.3L310.8 1390.9L312.3 1390.5L313.8 1390.1L315.3 1389.6L316.8 1389.2L318.3 1388.7L319.8 1388.3L321.3 1387.8L322.8 1387.3L324.3 1386.8L325.8 1386.3L327.3 1385.7L328.8 1385.2L330.3 1384.6L331.8 1384L333.3 1383.4L334.8 1382.8L336.3 1382.2L337.8 1381.5L339.3 1380.9L340.8 1380.2L342.3 1379.4L343.8 1378.7L345.3 1378L346.8 1377.2L348.3 1376.4L349.8 1375.5L351.3 1374.7L352.8 1373.8L354.3 1372.9L355.8 1371.9L357.3 1370.9L358.8 1369.9L360.3 1368.9L361.8 1367.8L363.3 1366.7L364.8 1365.5L366.3 1364.3L367.8 1363.1L369.3 1361.8L370.8 1360.5L372.3 1359.1L373.8 1357.7L375.3 1356.2L376.8 1354.7L378.3 1353.1L379.8 1351.4L381.3 1349.7L382.8 1347.9L384.3 1346.1L385.8 1344.1L387.3 1342.1L388.8 1340L390.3 1337.9L391.8 1335.6L393.3 1333.3L394.8 1330.8L396.3 1328.3L397.8 1325.6L399.3 1322.9L400.8 1320L402.3 1317L403.8 1313.9L405.3 1310.7L406.8 1307.3L408.3 1303.8L409.8 1300.2L411.3 1296.4L412.8 1292.4L414.3 1288.3L415.8 1284L417.3 1279.5L418.8 1274.9L420.3 1270.1L421.8 1265L423.3 1259.8L424.8 1254.4L426.3 1248.7L427.8 1242.9L429.3 1236.8L430.8 1230.5L432.3 1223.9L433.8 1217.2L435.3 1210.2L436.8 1203.1L438.3 1195.9L439.8 1188.7L441.3 1181.4L442.8 1174.2L444.3 1167.1L445.8 1160.2L447.3 1153.3L448.8 1146.5L450.3 1139.8L451.8 1133.1L453.3 1126.4L454.8 1119.7L456.3 1113L457.8 1106.4L459.3 1099.6L460.8 1092.9L462.3 1086.1L463.8 1079.3L465.3 1072.5L466.8 1065.7L468.3 1059L469.8 1052.4L471.3 1046.1L472.8 1040.1L474.3 1034.5L475.8 1029.3L477.3 1024.6L478.8 1020.6L480.3 1017.4L481.8 1014.9L483.3 1013.3L484.8 1012.2L486.3 1011.7L487.8 1011.7L489.3 1012.3L490.8 1013.4L492.3 1015.1L493.8 1017.2L495.3 1019.8L496.8 1022.9L498.3 1026.3L499.8 1030L501.3 1034L502.8 1038L504.3 1042.1L505.8 1046.3L507.3 1050.5L508.8 1054.7L510.3 1058.9L511.8 1063L513.3 1067.2L514.8 1071.3L516.3 1075.4L517.8 1079.3L519.3 1083.2L520.8 1087.1L522.3 1090.8L523.8 1094.5L525.3 1098L526.8 1101.4L528.3 1104.7L529.8 1108L531.3 1111.1L532.8 1114.1L534.3 1116.9L535.8 1119.7L537.3 1122.4L538.8 1125L540.3 1127.4L541.8 1129.8L543.3 1132L544.8 1134.1L546.3 1136.2L547.8 1138.1L549.3 1139.9L550.8 1141.6L552.3 1143.1L553.8 1144.6L555.3 1146L556.8 1147.3L558.3 1148.4L559.8 1149.5L561.3 1150.5L562.8 1151.4L564.3 1152.2L565.8 1152.9L567.3 1153.6L568.8 1154.1L570.3 1154.6L571.8 1155L573.3 1155.3L574.8 1155.5L576.3 1155.7L577.8 1155.7L579.3 1155.7L580.8 1155.6L582.3 1155.5L583.8 1155.2L585.3 1154.9L586.8 1154.5L588.3 1154L589.8 1153.4L591.3 1152.8L592.8 1152L594.3 1151.2L595.8 1150.4L597.3 1149.4L598.8 1148.4L600.3 1147.4L601.8 1146.2L603.3 1145L604.8 1143.7L606.3 1142.4L607.8 1141L609.3 1139.5L610.8 1138L612.3 1136.5L613.8 1134.9L615.3 1133.2L616.8 1131.5L618.3 1129.8L619.8 1128.1L621.3 1126.4L622.8 1124.6L624.3 1122.8L625.8 1121.1L627.3 1119.3L628.8 1117.5L630.3 1115.7L631.8 1114L633.3 1112.2L634.8 1110.5L636.3 1108.8L637.8 1107.2L639.3 1105.5L640.8 1104L642.3 1102.4L643.8 1100.9L645.3 1099.5L646.8 1098.1L648.3 1096.8L649.8 1095.5L651.3 1094.3L652.8 1093.2L654.3 1092.1L655.8 1091.1L657.3 1090.2L658.8 1089.4L660.3 1088.7L661.8 1088L663.3 1087.4L664.8 1086.9L666.3 1086.5L667.8 1086.1L669.3 1085.9L670.8 1085.7L672.3 1085.7L673.8 1085.7L675.3 1085.8L676.8 1086L678.3 1086.3L679.8 1086.8L681.3 1087.4L682.8 1088.1L684.3 1088.9L685.8 1089.9L687.3 1090.9L688.8 1092.1L690.3 1093.5L691.8 1094.9L693.3 1096.5L694.8 1098.1L696.3 1099.9L697.8 1101.8L699.3 1103.8L700.8 1105.8L702.3 1108L703.8 1110.3L705.3 1112.6L706.8 1115L708.3 1117.5L709.8 1120.1L711.3 1122.8L712.8 1125.5L714.3 1128.3L715.8 1131.1L717.3 1134L718.8 1136.9L720.3 1139.9L721.8 1142.9L723.3 1145.9L724.8 1149L726.3 1152.1L727.8 1155.2L729.3 1158.3L730.8 1161.5L732.3 1164.6L733.8 1167.8L735.3 1170.9L736.8 1174.1L738.3 1177.3L739.8 1180.5L741.3 1183.6L742.8 1186.8L744.3 1189.9L745.8 1193L747.3 1196.2L748.8 1199.3L750.3 1202.3L751.8 1205.4L753.3 1208.5L754.8 1211.5L756.3 1214.5L757.8 1217.5L759.3 1220.4L760.8 1223.3L762.3 1226.2L763.8 1229.1L765.3 1232L766.8 1234.8L768.3 1237.5L769.8 1240.3L771.3 1243L772.8 1245.7L774.3 1248.3L775.8 1250.9L777.3 1253.5L778.8 1256L780.3 1258.5L781.8 1261L783.3 1263.4L784.8 1265.8L786.3 1268.2L787.8 1270.5L789.3 1272.8L790.8 1275.1L792.3 1277.3L793.8 1279.5L795.3 1281.6L796.8 1283.7L798.3 1285.8L799.8 1287.8L801.3 1289.8L802.8 1291.8L804.3 1293.7L805.8 1295.6L807.3 1297.5L808.8 1299.3L810.3 1301.1L811.8 1302.9L813.3 1304.7L814.8 1306.4L816.3 1308L817.8 1309.7L819.3 1311.3L820.8 1312.9L822.3 1314.5L823.8 1316L825.3 1317.5L826.8 1319L828.3 1320.4L829.8 1321.8L831.3 1323.2L832.8 1324.6L834.3 1325.9L835.8 1327.2L837.3 1328.5L838.8 1329.8L840.3 1331L841.8 1332.2L843.3 1333.4L844.8 1334.6L846.3 1335.7L847.8 1336.9L849.3 1338L850.8 1339.1L852.3 1340.1L853.8 1341.2L855.3 1342.2L856.8 1343.2L858.3 1344.2L859.8 1345.1L861.3 1346.1L862.8 1347L864.3 1347.9L865.8 1348.8L867.3 1349.7L868.8 1350.6L870.3 1351.4L871.8 1352.2L873.3 1353L874.8 1353.8L876.3 1354.6L877.8 1355.4L879.3 1356.1L880.8 1356.9L882.3 1357.6L883.8 1358.3L885.3 1359L886.8 1359.7L888.3 1360.4L889.8 1361.1L891.3 1361.7L892.8 1362.4L894.3 1363L895.8 1363.6L897.3 1364.2L898.8 1364.8L900.3 1365.4L901.8 1366L903.3 1366.6L904.8 1367.1L906.3 1367.7L907.8 1368.2L909.3 1368.8L910.8 1369.3L912.3 1369.8L913.8 1370.4L915.3 1370.9L916.8 1371.4L918.3 1371.9L919.8 1372.4L921.3 1372.8L922.8 1373.3L924.3 1373.8L925.8 1374.2L927.3 1374.7L928.8 1375.2L930.3 1375.6L931.8 1376L933.3 1376.5L934.8 1376.9L936.3 1377.3L937.8 1377.8L939.3 1378.2L940.8 1378.6L942.3 1379L943.8 1379.4L945.3 1379.8L946.8 1380.2L948.3 1380.6L949.8 1381L951.3 1381.4L952.8 1381.8L954.3 1382.2L955.8 1382.6L957.3 1383L958.8 1383.4L960.3 1383.8L961.8 1384.1L963.3 1384.5L964.8 1384.9L966.3 1385.3L967.8 1385.7L969.3 1386L970.8 1386.4L972.3 1386.8L973.8 1387.1L975.3 1387.5L976.8 1387.9L978.3 1388.3L979.8 1388.6L981.3 1389L982.8 1389.4L984.3 1389.7L985.8 1390.1L987.3 1390.5L988.8 1390.9L990.3 1391.2L991.8 1391.6L993.3 1392L994.8 1392.4L995.3 1392.5" stroke="#00ffff" stroke-width="3.4"/>
<path d="M177.3 1387.1L178.8 1387.3L180.3 1387.4L181.8 1387.5L183.3 1387.6L184.8 1387.6L186.3 1387.7L187.8 1387.8L189.3 1387.9L190.8 1388L192.3 1388L193.8 1388.1L195.3 1388.2L196.8 1388.2L198.3 1388.3L199.8 1388.3L201.3 1388.4L202.8 1388.4L204.3 1388.4L205.8 1388.5L207.3 1388.5L208.8 1388.5L210.3 1388.5L211.8 1388.6L213.3 1388.6L214.8 1388.6L216.3 1388.6L217.8 1388.6L219.3 1388.5L220.8 1388.5L222.3 1388.5L223.8 1388.5L225.3 1388.5L226.8 1388.4L228.3 1388.4L229.8 1388.4L231.3 1388.3L232.8 1388.3L234.3 1388.2L235.8 1388.1L237.3 1388.1L238.8 1388L240.3 1387.9L241.8 1387.8L243.3 1387.8L244.8 1387.7L246.3 1387.6L247.8 1387.5L249.3 1387.4L250.8 1387.3L252.3 1387.1L253.8 1387L255.3 1386.9L256.8 1386.8L258.3 1386.6L259.8 1386.5L261.3 1386.3L262.8 1386.2L264.3 1386L265.8 1385.9L267.3 1385.7L268.8 1385.5L270.3 1385.3L271.8 1385.1L273.3 1385L274.8 1384.8L276.3 1384.5L277.8 1384.3L279.3 1384.1L280.8 1383.9L282.3 1383.7L283.8 1383.4L285.3 1383.2L286.8 1382.9L288.3 1382.6L289.8 1382.4L291.3 1382.1L292.8 1381.8L294.3 1381.5L295.8 1381.2L297.3 1380.9L298.8 1380.6L300.3 1380.3L301.8 1379.9L303.3 1379.6L304.8 1379.2L306.3 1378.9L307.8 1378.5L309.3 1378.1L310.8 1377.7L312.3 1377.3L313.8 1376.9L315.3 1376.5L316.8 1376L318.3 1375.6L319.8 1375.1L321.3 1374.6L322.8 1374.1L324.3 1373.6L325.8 1373.1L327.3 1372.6L328.8 1372L330.3 1371.5L331.8 1370.9L333.3 1370.3L334.8 1369.7L336.3 1369.1L337.8 1368.4L339.3 1367.7L340.8 1367L342.3 1366.3L343.8 1365.6L345.3 1364.8L346.8 1364.1L348.3 1363.3L349.8 1362.4L351.3 1361.6L352.8 1360.7L354.3 1359.8L355.8 1358.8L357.3 1357.9L358.8 1356.9L360.3 1355.8L361.8 1354.7L363.3 1353.6L364.8 1352.5L366.3 1351.3L367.8 1350.1L369.3 1348.8L370.8 1347.5L372.3 1346.1L373.8 1344.7L375.3 1343.2L376.8 1341.7L378.3 1340.1L379.8 1338.5L381.3 1336.8L382.8 1335L384.3 1333.1L385.8 1331.2L387.3 1329.2L388.8 1327.1L390.3 1325L391.8 1322.7L393.3 1320.4L394.8 1318L396.3 1315.4L397.8 1312.8L399.3 1310L400.8 1307.2L402.3 1304.2L403.8 1301.1L405.3 1297.9L406.8 1294.5L408.3 1291L409.8 1287.3L411.3 1283.5L412.8 1279.6L414.3 1275.4L415.8 1271.1L417.3 1266.7L418.8 1262L420.3 1257.2L421.8 1252.1L423.3 1246.9L424.8 1241.4L426.3 1235.8L427.8 1229.9L429.3 1223.8L430.8 1217.4L432.3 1210.9L433.8 1204.1L435.3 1197.1L436.8 1190L438.3 1182.8L439.8 1175.5L441.3 1168.2L442.8 1161L444.3 1153.9L445.8 1146.9L447.3 1140L448.8 1133.2L450.3 1126.4L451.8 1119.7L453.3 1112.9L454.8 1106.2L456.3 1099.5L457.8 1092.7L459.3 1086L460.8 1079.2L462.3 1072.4L463.8 1065.5L465.3 1058.6L466.8 1051.8L468.3 1045L469.8 1038.4L471.3 1032.1L472.8 1026L474.3 1020.3L475.8 1015.1L477.3 1010.4L478.8 1006.4L480.3 1003.2L481.8 1000.8L483.3 999.2L484.8 998.2L486.3 997.7L487.8 997.8L489.3 998.5L490.8 999.8L492.3 1001.5L493.8 1003.8L495.3 1006.6L496.8 1009.9L498.3 1013.5L499.8 1017.4L501.3 1021.5L502.8 1025.7L504.3 1029.9L505.8 1034.2L507.3 1038.5L508.8 1042.8L510.3 1047.1L511.8 1051.3L513.3 1055.5L514.8 1059.7L516.3 1063.8L517.8 1067.8L519.3 1071.8L520.8 1075.6L522.3 1079.4L523.8 1083L525.3 1086.6L526.8 1090L528.3 1093.4L529.8 1096.6L531.3 1099.7L532.8 1102.7L534.3 1105.6L535.8 1108.4L537.3 1111.1L538.8 1113.7L540.3 1116.2L541.8 1118.6L543.3 1120.8L544.8 1123L546.3 1125L547.8 1127L549.3 1128.8L550.8 1130.6L552.3 1132.2L553.8 1133.7L555.3 1135.1L556.8 1136.4L558.3 1137.7L559.8 1138.8L561.3 1139.8L562.8 1140.7L564.3 1141.6L565.8 1142.4L567.3 1143L568.8 1143.6L570.3 1144.1L571.8 1144.6L573.3 1144.9L574.8 1145.2L576.3 1145.3L577.8 1145.4L579.3 1145.5L580.8 1145.4L582.3 1145.3L583.8 1145L585.3 1144.8L586.8 1144.4L588.3 1143.9L589.8 1143.4L591.3 1142.8L592.8 1142.1L594.3 1141.4L595.8 1140.6L597.3 1139.7L598.8 1138.7L600.3 1137.7L601.8 1136.6L603.3 1135.4L604.8 1134.1L606.3 1132.8L607.8 1131.5L609.3 1130.1L610.8 1128.6L612.3 1127L613.8 1125.4L615.3 1123.8L616.8 1122.2L618.3 1120.5L619.8 1118.7L621.3 1117L622.8 1115.2L624.3 1113.4L625.8 1111.6L627.3 1109.8L628.8 1108L630.3 1106.2L631.8 1104.4L633.3 1102.6L634.8 1100.8L636.3 1099.1L637.8 1097.3L639.3 1095.7L640.8 1094L642.3 1092.4L643.8 1090.8L645.3 1089.3L646.8 1087.8L648.3 1086.4L649.8 1085L651.3 1083.7L652.8 1082.5L654.3 1081.3L655.8 1080.2L657.3 1079.2L658.8 1078.3L660.3 1077.4L661.8 1076.6L663.3 1075.9L664.8 1075.3L666.3 1074.7L667.8 1074.3L669.3 1073.9L670.8 1073.6L672.3 1073.4L673.8 1073.3L675.3 1073.3L676.8 1073.3L678.3 1073.5L679.8 1073.8L681.3 1074.2L682.8 1074.7L684.3 1075.3L685.8 1076.1L687.3 1077L688.8 1078L690.3 1079.2L691.8 1080.4L693.3 1081.8L694.8 1083.3L696.3 1084.9L697.8 1086.6L699.3 1088.4L700.8 1090.4L702.3 1092.4L703.8 1094.5L705.3 1096.7L706.8 1099L708.3 1101.4L709.8 1103.9L711.3 1106.4L712.8 1109.1L714.3 1111.7L715.8 1114.5L717.3 1117.3L718.8 1120.1L720.3 1123L721.8 1126L723.3 1129L724.8 1132L726.3 1135L727.8 1138.1L729.3 1141.2L730.8 1144.4L732.3 1147.5L733.8 1150.7L735.3 1153.8L736.8 1157L738.3 1160.2L739.8 1163.4L741.3 1166.5L742.8 1169.7L744.3 1172.9L745.8 1176L747.3 1179.2L748.8 1182.3L750.3 1185.4L751.8 1188.5L753.3 1191.6L754.8 1194.7L756.3 1197.7L757.8 1200.7L759.3 1203.7L760.8 1206.7L762.3 1209.7L763.8 1212.6L765.3 1215.5L766.8 1218.3L768.3 1221.1L769.8 1223.9L771.3 1226.7L772.8 1229.4L774.3 1232.1L775.8 1234.8L777.3 1237.4L778.8 1240L780.3 1242.6L781.8 1245.1L783.3 1247.6L784.8 1250L786.3 1252.4L787.8 1254.8L789.3 1257.1L790.8 1259.4L792.3 1261.7L793.8 1263.9L795.3 1266.1L796.8 1268.3L798.3 1270.4L799.8 1272.5L801.3 1274.5L802.8 1276.5L804.3 1278.5L805.8 1280.5L807.3 1282.4L808.8 1284.2L810.3 1286.1L811.8 1287.9L813.3 1289.7L814.8 1291.4L816.3 1293.1L817.8 1294.8L819.3 1296.5L820.8 1298.1L822.3 1299.7L823.8 1301.3L825.3 1302.8L826.8 1304.3L828.3 1305.8L829.8 1307.2L831.3 1308.6L832.8 1310L834.3 1311.4L835.8 1312.7L837.3 1314.1L838.8 1315.3L840.3 1316.6L841.8 1317.9L843.3 1319.1L844.8 1320.3L846.3 1321.4L847.8 1322.6L849.3 1323.7L850.8 1324.8L852.3 1325.9L853.8 1327L855.3 1328L856.8 1329L858.3 1330L859.8 1331L861.3 1332L862.8 1332.9L864.3 1333.9L865.8 1334.8L867.3 1335.7L868.8 1336.5L870.3 1337.4L871.8 1338.3L873.3 1339.1L874.8 1339.9L876.3 1340.7L877.8 1341.5L879.3 1342.2L880.8 1343L882.3 1343.7L883.8 1344.5L885.3 1345.2L886.8 1345.9L888.3 1346.6L889.8 1347.3L891.3 1347.9L892.8 1348.6L894.3 1349.2L895.8 1349.9L897.3 1350.5L898.8 1351.1L900.3 1351.7L901.8 1352.3L903.3 1352.9L904.8 1353.5L906.3 1354L907.8 1354.6L909.3 1355.2L910.8 1355.7L912.3 1356.2L913.8 1356.8L915.3 1357.3L916.8 1357.8L918.3 1358.3L919.8 1358.8L921.3 1359.3L922.8 1359.8L924.3 1360.3L925.8 1360.7L927.3 1361.2L928.8 1361.7L930.3 1362.1L931.8 1362.6L933.3 1363L934.8 1363.5L936.3 1363.9L937.8 1364.4L939.3 1364.8L940.8 1365.2L942.3 1365.6L943.8 1366.1L945.3 1366.5L946.8 1366.9L948.3 1367.3L949.8 1367.7L951.3 1368.1L952.8 1368.5L954.3 1368.9L955.8 1369.3L957.3 1369.7L958.8 1370.1L960.3 1370.5L961.8 1370.9L963.3 1371.3L964.8 1371.7L966.3 1372L967.8 1372.4L969.3 1372.8L970.8 1373.2L972.3 1373.6L973.8 1374L975.3 1374.3L976.8 1374.7L978.3 1375.1L979.8 1375.5L981.3 1375.9L982.8 1376.2L984.3 1376.6L985.8 1377L987.3 1377.4L988.8 1377.8L990.3 1378.2L991.8 1378.5L993.3 1378.9L994.8 1379.3L995.3 1379.4" stroke="#2d5582" stroke-width="2.4"/>
<path d="M177.3 1373.3L178.8 1373.4L180.3 1373.5L181.8 1373.6L183.3 1373.7L184.8 1373.8L186.3 1373.9L187.8 1374L189.3 1374.1L190.8 1374.2L192.3 1374.3L193.8 1374.4L195.3 1374.5L196.8 1374.5L198.3 1374.6L199.8 1374.7L201.3 1374.7L202.8 1374.8L204.3 1374.8L205.8 1374.9L207.3 1374.9L208.8 1374.9L210.3 1375L211.8 1375L213.3 1375L214.8 1375L216.3 1375L217.8 1375L219.3 1375L220.8 1375L222.3 1375L223.8 1375L225.3 1375L226.8 1375L228.3 1374.9L229.8 1374.9L231.3 1374.9L232.8 1374.8L234.3 1374.8L235.8 1374.7L237.3 1374.7L238.8 1374.6L240.3 1374.5L241.8 1374.5L243.3 1374.4L244.8 1374.3L246.3 1374.2L247.8 1374.1L249.3 1374L250.8 1373.9L252.3 1373.8L253.8 1373.7L255.3 1373.6L256.8 1373.4L258.3 1373.3L259.8 1373.2L261.3 1373L262.8 1372.9L264.3 1372.7L265.8 1372.6L267.3 1372.4L268.8 1372.2L270.3 1372.1L271.8 1371.9L273.3 1371.7L274.8 1371.5L276.3 1371.3L277.8 1371.1L279.3 1370.9L280.8 1370.6L282.3 1370.4L283.8 1370.2L285.3 1369.9L286.8 1369.7L288.3 1369.4L289.8 1369.2L291.3 1368.9L292.8 1368.6L294.3 1368.3L295.8 1368L297.3 1367.7L298.8 1367.4L300.3 1367.1L301.8 1366.7L303.3 1366.4L304.8 1366L306.3 1365.7L307.8 1365.3L309.3 1364.9L310.8 1364.5L312.3 1364.1L313.8 1363.7L315.3 1363.3L316.8 1362.9L318.3 1362.4L319.8 1361.9L321.3 1361.5L322.8 1361L324.3 1360.5L325.8 1360L327.3 1359.4L328.8 1358.9L330.3 1358.3L331.8 1357.8L333.3 1357.2L334.8 1356.5L336.3 1355.9L337.8 1355.3L339.3 1354.6L340.8 1353.9L342.3 1353.2L343.8 1352.5L345.3 1351.7L346.8 1351L348.3 1350.2L349.8 1349.3L351.3 1348.5L352.8 1347.6L354.3 1346.7L355.8 1345.8L357.3 1344.8L358.8 1343.8L360.3 1342.8L361.8 1341.7L363.3 1340.6L364.8 1339.4L366.3 1338.3L367.8 1337L369.3 1335.8L370.8 1334.5L372.3 1333.1L373.8 1331.7L375.3 1330.2L376.8 1328.7L378.3 1327.1L379.8 1325.5L381.3 1323.8L382.8 1322L384.3 1320.2L385.8 1318.3L387.3 1316.3L388.8 1314.3L390.3 1312.1L391.8 1309.9L393.3 1307.5L394.8 1305.1L396.3 1302.6L397.8 1299.9L399.3 1297.2L400.8 1294.3L402.3 1291.4L403.8 1288.3L405.3 1285L406.8 1281.7L408.3 1278.1L409.8 1274.5L411.3 1270.7L412.8 1266.7L414.3 1262.6L415.8 1258.3L417.3 1253.8L418.8 1249.1L420.3 1244.3L421.8 1239.2L423.3 1233.9L424.8 1228.5L426.3 1222.8L427.8 1216.9L429.3 1210.7L430.8 1204.4L432.3 1197.8L433.8 1191L435.3 1184L436.8 1176.8L438.3 1169.6L439.8 1162.3L441.3 1155L442.8 1147.8L444.3 1140.6L445.8 1133.6L447.3 1126.7L448.8 1119.8L450.3 1113L451.8 1106.2L453.3 1099.5L454.8 1092.7L456.3 1085.9L457.8 1079.1L459.3 1072.3L460.8 1065.4L462.3 1058.6L463.8 1051.7L465.3 1044.7L466.8 1037.8L468.3 1031L469.8 1024.4L471.3 1018L472.8 1011.9L474.3 1006.2L475.8 1000.9L477.3 996.2L478.8 992.2L480.3 989.1L481.8 986.7L483.3 985.2L484.8 984.2L486.3 983.8L487.8 984L489.3 984.8L490.8 986.1L492.3 988L493.8 990.5L495.3 993.5L496.8 996.9L498.3 1000.7L499.8 1004.8L501.3 1009L502.8 1013.4L504.3 1017.8L505.8 1022.2L507.3 1026.6L508.8 1030.9L510.3 1035.3L511.8 1039.6L513.3 1043.9L514.8 1048.1L516.3 1052.2L517.8 1056.3L519.3 1060.3L520.8 1064.1L522.3 1067.9L523.8 1071.6L525.3 1075.2L526.8 1078.6L528.3 1082L529.8 1085.2L531.3 1088.4L532.8 1091.4L534.3 1094.3L535.8 1097.1L537.3 1099.8L538.8 1102.4L540.3 1104.9L541.8 1107.3L543.3 1109.6L544.8 1111.8L546.3 1113.9L547.8 1115.9L549.3 1117.8L550.8 1119.6L552.3 1121.2L553.8 1122.8L555.3 1124.2L556.8 1125.6L558.3 1126.9L559.8 1128L561.3 1129.1L562.8 1130.1L564.3 1130.9L565.8 1131.7L567.3 1132.5L568.8 1133.1L570.3 1133.6L571.8 1134.1L573.3 1134.5L574.8 1134.8L576.3 1135L577.8 1135.1L579.3 1135.2L580.8 1135.2L582.3 1135.1L583.8 1134.9L585.3 1134.6L586.8 1134.3L588.3 1133.9L589.8 1133.4L591.3 1132.8L592.8 1132.2L594.3 1131.5L595.8 1130.7L597.3 1129.9L598.8 1128.9L600.3 1127.9L601.8 1126.9L603.3 1125.7L604.8 1124.6L606.3 1123.3L607.8 1122L609.3 1120.6L610.8 1119.1L612.3 1117.6L613.8 1116L615.3 1114.4L616.8 1112.8L618.3 1111.1L619.8 1109.4L621.3 1107.6L622.8 1105.8L624.3 1104L625.8 1102.2L627.3 1100.4L628.8 1098.5L630.3 1096.7L631.8 1094.9L633.3 1093L634.8 1091.2L636.3 1089.4L637.8 1087.6L639.3 1085.9L640.8 1084.1L642.3 1082.5L643.8 1080.8L645.3 1079.2L646.8 1077.6L648.3 1076.1L649.8 1074.7L651.3 1073.3L652.8 1071.9L654.3 1070.7L655.8 1069.5L657.3 1068.4L658.8 1067.3L660.3 1066.3L661.8 1065.4L663.3 1064.6L664.8 1063.8L666.3 1063.2L667.8 1062.6L669.3 1062.1L670.8 1061.7L672.3 1061.4L673.8 1061.1L675.3 1061L676.8 1060.9L678.3 1060.9L679.8 1061L681.3 1061.3L682.8 1061.6L684.3 1062L685.8 1062.6L687.3 1063.3L688.8 1064.2L690.3 1065.1L691.8 1066.2L693.3 1067.4L694.8 1068.7L696.3 1070.2L697.8 1071.7L699.3 1073.4L700.8 1075.2L702.3 1077L703.8 1079L705.3 1081.1L706.8 1083.2L708.3 1085.5L709.8 1087.8L711.3 1090.3L712.8 1092.8L714.3 1095.3L715.8 1098L717.3 1100.7L718.8 1103.5L720.3 1106.3L721.8 1109.2L723.3 1112.1L724.8 1115.1L726.3 1118.1L727.8 1121.1L729.3 1124.2L730.8 1127.3L732.3 1130.4L733.8 1133.6L735.3 1136.7L736.8 1139.9L738.3 1143.1L739.8 1146.2L741.3 1149.4L742.8 1152.6L744.3 1155.8L745.8 1159L747.3 1162.2L748.8 1165.3L750.3 1168.5L751.8 1171.6L753.3 1174.7L754.8 1177.8L756.3 1180.9L757.8 1184L759.3 1187L760.8 1190L762.3 1193L763.8 1196L765.3 1198.9L766.8 1201.8L768.3 1204.7L769.8 1207.5L771.3 1210.3L772.8 1213.1L774.3 1215.9L775.8 1218.6L777.3 1221.3L778.8 1223.9L780.3 1226.5L781.8 1229.1L783.3 1231.6L784.8 1234.1L786.3 1236.6L787.8 1239L789.3 1241.4L790.8 1243.7L792.3 1246L793.8 1248.3L795.3 1250.6L796.8 1252.8L798.3 1254.9L799.8 1257.1L801.3 1259.2L802.8 1261.2L804.3 1263.2L805.8 1265.2L807.3 1267.2L808.8 1269.1L810.3 1271L811.8 1272.8L813.3 1274.7L814.8 1276.4L816.3 1278.2L817.8 1279.9L819.3 1281.6L820.8 1283.3L822.3 1284.9L823.8 1286.5L825.3 1288.1L826.8 1289.6L828.3 1291.1L829.8 1292.6L831.3 1294L832.8 1295.5L834.3 1296.8L835.8 1298.2L837.3 1299.6L838.8 1300.9L840.3 1302.2L841.8 1303.4L843.3 1304.7L844.8 1305.9L846.3 1307.1L847.8 1308.3L849.3 1309.4L850.8 1310.6L852.3 1311.7L853.8 1312.7L855.3 1313.8L856.8 1314.9L858.3 1315.9L859.8 1316.9L861.3 1317.9L862.8 1318.8L864.3 1319.8L865.8 1320.7L867.3 1321.6L868.8 1322.5L870.3 1323.4L871.8 1324.3L873.3 1325.1L874.8 1325.9L876.3 1326.8L877.8 1327.6L879.3 1328.3L880.8 1329.1L882.3 1329.9L883.8 1330.6L885.3 1331.4L886.8 1332.1L888.3 1332.8L889.8 1333.5L891.3 1334.2L892.8 1334.8L894.3 1335.5L895.8 1336.1L897.3 1336.8L898.8 1337.4L900.3 1338L901.8 1338.6L903.3 1339.2L904.8 1339.8L906.3 1340.4L907.8 1341L909.3 1341.5L910.8 1342.1L912.3 1342.6L913.8 1343.2L915.3 1343.7L916.8 1344.2L918.3 1344.7L919.8 1345.3L921.3 1345.8L922.8 1346.3L924.3 1346.7L925.8 1347.2L927.3 1347.7L928.8 1348.2L930.3 1348.7L931.8 1349.1L933.3 1349.6L934.8 1350L936.3 1350.5L937.8 1350.9L939.3 1351.4L940.8 1351.8L942.3 1352.2L943.8 1352.7L945.3 1353.1L946.8 1353.5L948.3 1353.9L949.8 1354.4L951.3 1354.8L952.8 1355.2L954.3 1355.6L955.8 1356L957.3 1356.4L958.8 1356.8L960.3 1357.2L961.8 1357.6L963.3 1358L964.8 1358.4L966.3 1358.8L967.8 1359.2L969.3 1359.6L970.8 1360L972.3 1360.4L973.8 1360.8L975.3 1361.2L976.8 1361.6L978.3 1362L979.8 1362.3L981.3 1362.7L982.8 1363.1L984.3 1363.5L985.8 1363.9L987.3 1364.3L988.8 1364.7L990.3 1365.1L991.8 1365.5L993.3 1365.9L994.8 1366.3L995.3 1366.4" stroke="#a50a64" stroke-width="2.8"/>
<path d="M177.3 1359.4L178.8 1359.5L180.3 1359.7L181.8 1359.8L183.3 1359.9L184.8 1360L186.3 1360.2L187.8 1360.3L189.3 1360.4L190.8 1360.5L192.3 1360.6L193.8 1360.7L195.3 1360.8L196.8 1360.9L198.3 1360.9L199.8 1361L201.3 1361.1L202.8 1361.1L204.3 1361.2L205.8 1361.3L207.3 1361.3L208.8 1361.3L210.3 1361.4L211.8 1361.4L213.3 1361.5L214.8 1361.5L216.3 1361.5L217.8 1361.5L219.3 1361.5L220.8 1361.5L222.3 1361.5L223.8 1361.5L225.3 1361.5L226.8 1361.5L228.3 1361.5L229.8 1361.5L231.3 1361.4L232.8 1361.4L234.3 1361.4L235.8 1361.3L237.3 1361.3L238.8 1361.2L240.3 1361.1L241.8 1361.1L243.3 1361L244.8 1360.9L246.3 1360.8L247.8 1360.8L249.3 1360.7L250.8 1360.6L252.3 1360.5L253.8 1360.4L255.3 1360.2L256.8 1360.1L258.3 1360L259.8 1359.9L261.3 1359.7L262.8 1359.6L264.3 1359.4L265.8 1359.3L267.3 1359.1L268.8 1359L270.3 1358.8L271.8 1358.6L273.3 1358.4L274.8 1358.2L276.3 1358L277.8 1357.8L279.3 1357.6L280.8 1357.4L282.3 1357.2L283.8 1356.9L285.3 1356.7L286.8 1356.4L288.3 1356.2L289.8 1355.9L291.3 1355.7L292.8 1355.4L294.3 1355.1L295.8 1354.8L297.3 1354.5L298.8 1354.2L300.3 1353.9L301.8 1353.5L303.3 1353.2L304.8 1352.8L306.3 1352.5L307.8 1352.1L309.3 1351.7L310.8 1351.3L312.3 1350.9L313.8 1350.5L315.3 1350.1L316.8 1349.7L318.3 1349.2L319.8 1348.8L321.3 1348.3L322.8 1347.8L324.3 1347.3L325.8 1346.8L327.3 1346.3L328.8 1345.7L330.3 1345.2L331.8 1344.6L333.3 1344L334.8 1343.4L336.3 1342.8L337.8 1342.1L339.3 1341.5L340.8 1340.8L342.3 1340.1L343.8 1339.4L345.3 1338.6L346.8 1337.8L348.3 1337.1L349.8 1336.2L351.3 1335.4L352.8 1334.5L354.3 1333.6L355.8 1332.7L357.3 1331.7L358.8 1330.7L360.3 1329.7L361.8 1328.6L363.3 1327.5L364.8 1326.4L366.3 1325.2L367.8 1324L369.3 1322.8L370.8 1321.5L372.3 1320.1L373.8 1318.7L375.3 1317.3L376.8 1315.7L378.3 1314.2L379.8 1312.6L381.3 1310.9L382.8 1309.1L384.3 1307.3L385.8 1305.4L387.3 1303.4L388.8 1301.4L390.3 1299.2L391.8 1297L393.3 1294.7L394.8 1292.2L396.3 1289.7L397.8 1287.1L399.3 1284.4L400.8 1281.5L402.3 1278.5L403.8 1275.4L405.3 1272.2L406.8 1268.8L408.3 1265.3L409.8 1261.7L411.3 1257.8L412.8 1253.9L414.3 1249.7L415.8 1245.4L417.3 1240.9L418.8 1236.2L420.3 1231.4L421.8 1226.3L423.3 1221L424.8 1215.5L426.3 1209.8L427.8 1203.9L429.3 1197.7L430.8 1191.3L432.3 1184.7L433.8 1177.9L435.3 1170.9L436.8 1163.7L438.3 1156.4L439.8 1149.1L441.3 1141.8L442.8 1134.5L444.3 1127.4L445.8 1120.3L447.3 1113.4L448.8 1106.5L450.3 1099.6L451.8 1092.8L453.3 1086L454.8 1079.2L456.3 1072.3L457.8 1065.5L459.3 1058.6L460.8 1051.7L462.3 1044.8L463.8 1037.8L465.3 1030.8L466.8 1023.9L468.3 1017L469.8 1010.4L471.3 1003.9L472.8 997.7L474.3 991.9L475.8 986.6L477.3 981.9L478.8 978L480.3 974.9L481.8 972.6L483.3 971.1L484.8 970.2L486.3 969.9L487.8 970.2L489.3 971.1L490.8 972.5L492.3 974.6L493.8 977.2L495.3 980.4L496.8 984L498.3 988L499.8 992.2L501.3 996.6L502.8 1001.1L504.3 1005.6L505.8 1010.1L507.3 1014.6L508.8 1019.1L510.3 1023.5L511.8 1027.9L513.3 1032.2L514.8 1036.5L516.3 1040.7L517.8 1044.8L519.3 1048.8L520.8 1052.7L522.3 1056.5L523.8 1060.2L525.3 1063.8L526.8 1067.2L528.3 1070.6L529.8 1073.9L531.3 1077L532.8 1080L534.3 1083L535.8 1085.8L537.3 1088.5L538.8 1091.1L540.3 1093.7L541.8 1096.1L543.3 1098.4L544.8 1100.7L546.3 1102.8L547.8 1104.8L549.3 1106.7L550.8 1108.5L552.3 1110.2L553.8 1111.8L555.3 1113.3L556.8 1114.7L558.3 1116L559.8 1117.2L561.3 1118.4L562.8 1119.4L564.3 1120.3L565.8 1121.1L567.3 1121.9L568.8 1122.5L570.3 1123.1L571.8 1123.6L573.3 1124L574.8 1124.4L576.3 1124.6L577.8 1124.8L579.3 1124.9L580.8 1124.9L582.3 1124.8L583.8 1124.7L585.3 1124.5L586.8 1124.2L588.3 1123.8L589.8 1123.4L591.3 1122.8L592.8 1122.2L594.3 1121.6L595.8 1120.8L597.3 1120L598.8 1119.2L600.3 1118.2L601.8 1117.2L603.3 1116.1L604.8 1114.9L606.3 1113.7L607.8 1112.4L609.3 1111.1L610.8 1109.7L612.3 1108.2L613.8 1106.6L615.3 1105L616.8 1103.4L618.3 1101.7L619.8 1100L621.3 1098.3L622.8 1096.5L624.3 1094.7L625.8 1092.8L627.3 1091L628.8 1089.1L630.3 1087.3L631.8 1085.4L633.3 1083.5L634.8 1081.7L636.3 1079.8L637.8 1078L639.3 1076.2L640.8 1074.4L642.3 1072.6L643.8 1070.9L645.3 1069.2L646.8 1067.6L648.3 1066L649.8 1064.5L651.3 1063L652.8 1061.5L654.3 1060.2L655.8 1058.9L657.3 1057.7L658.8 1056.5L660.3 1055.4L661.8 1054.4L663.3 1053.4L664.8 1052.6L666.3 1051.8L667.8 1051.1L669.3 1050.5L670.8 1049.9L672.3 1049.5L673.8 1049.1L675.3 1048.8L676.8 1048.6L678.3 1048.5L679.8 1048.5L681.3 1048.6L682.8 1048.8L684.3 1049L685.8 1049.4L687.3 1049.9L688.8 1050.6L690.3 1051.4L691.8 1052.3L693.3 1053.3L694.8 1054.4L696.3 1055.7L697.8 1057.1L699.3 1058.6L700.8 1060.2L702.3 1061.9L703.8 1063.7L705.3 1065.6L706.8 1067.6L708.3 1069.8L709.8 1072L711.3 1074.3L712.8 1076.7L714.3 1079.1L715.8 1081.7L717.3 1084.3L718.8 1086.9L720.3 1089.7L721.8 1092.5L723.3 1095.3L724.8 1098.2L726.3 1101.2L727.8 1104.2L729.3 1107.2L730.8 1110.3L732.3 1113.4L733.8 1116.5L735.3 1119.6L736.8 1122.8L738.3 1125.9L739.8 1129.1L741.3 1132.3L742.8 1135.5L744.3 1138.7L745.8 1141.9L747.3 1145.1L748.8 1148.3L750.3 1151.4L751.8 1154.6L753.3 1157.8L754.8 1160.9L756.3 1164L757.8 1167.1L759.3 1170.2L760.8 1173.2L762.3 1176.3L763.8 1179.3L765.3 1182.3L766.8 1185.2L768.3 1188.2L769.8 1191L771.3 1193.9L772.8 1196.7L774.3 1199.5L775.8 1202.3L777.3 1205L778.8 1207.7L780.3 1210.4L781.8 1213L783.3 1215.6L784.8 1218.1L786.3 1220.7L787.8 1223.1L789.3 1225.6L790.8 1228L792.3 1230.3L793.8 1232.7L795.3 1235L796.8 1237.2L798.3 1239.4L799.8 1241.6L801.3 1243.7L802.8 1245.8L804.3 1247.9L805.8 1249.9L807.3 1251.9L808.8 1253.9L810.3 1255.8L811.8 1257.7L813.3 1259.6L814.8 1261.4L816.3 1263.2L817.8 1265L819.3 1266.7L820.8 1268.4L822.3 1270.1L823.8 1271.7L825.3 1273.3L826.8 1274.9L828.3 1276.4L829.8 1277.9L831.3 1279.4L832.8 1280.8L834.3 1282.3L835.8 1283.7L837.3 1285L838.8 1286.4L840.3 1287.7L841.8 1289L843.3 1290.3L844.8 1291.5L846.3 1292.7L847.8 1293.9L849.3 1295.1L850.8 1296.3L852.3 1297.4L853.8 1298.5L855.3 1299.6L856.8 1300.7L858.3 1301.7L859.8 1302.7L861.3 1303.7L862.8 1304.7L864.3 1305.7L865.8 1306.6L867.3 1307.6L868.8 1308.5L870.3 1309.4L871.8 1310.3L873.3 1311.1L874.8 1312L876.3 1312.8L877.8 1313.6L879.3 1314.4L880.8 1315.2L882.3 1316L883.8 1316.7L885.3 1317.5L886.8 1318.2L888.3 1318.9L889.8 1319.7L891.3 1320.4L892.8 1321L894.3 1321.7L895.8 1322.4L897.3 1323L898.8 1323.7L900.3 1324.3L901.8 1324.9L903.3 1325.5L904.8 1326.1L906.3 1326.7L907.8 1327.3L909.3 1327.9L910.8 1328.5L912.3 1329L913.8 1329.6L915.3 1330.1L916.8 1330.6L918.3 1331.2L919.8 1331.7L921.3 1332.2L922.8 1332.7L924.3 1333.2L925.8 1333.7L927.3 1334.2L928.8 1334.7L930.3 1335.2L931.8 1335.6L933.3 1336.1L934.8 1336.6L936.3 1337L937.8 1337.5L939.3 1338L940.8 1338.4L942.3 1338.8L943.8 1339.3L945.3 1339.7L946.8 1340.2L948.3 1340.6L949.8 1341L951.3 1341.4L952.8 1341.9L954.3 1342.3L955.8 1342.7L957.3 1343.1L958.8 1343.5L960.3 1343.9L961.8 1344.4L963.3 1344.8L964.8 1345.2L966.3 1345.6L967.8 1346L969.3 1346.4L970.8 1346.8L972.3 1347.2L973.8 1347.6L975.3 1348L976.8 1348.4L978.3 1348.8L979.8 1349.2L981.3 1349.6L982.8 1350L984.3 1350.4L985.8 1350.8L987.3 1351.2L988.8 1351.6L990.3 1352L991.8 1352.4L993.3 1352.8L994.8 1353.2L995.3 1353.4" stroke="#c32800" stroke-width="2.8"/>
<path d="M177.3 1345.5L178.8 1345.7L180.3 1345.8L181.8 1346L183.3 1346.1L184.8 1346.2L186.3 1346.4L187.8 1346.5L189.3 1346.6L190.8 1346.7L192.3 1346.9L193.8 1347L195.3 1347.1L196.8 1347.2L198.3 1347.3L199.8 1347.3L201.3 1347.4L202.8 1347.5L204.3 1347.6L205.8 1347.6L207.3 1347.7L208.8 1347.8L210.3 1347.8L211.8 1347.9L213.3 1347.9L214.8 1347.9L216.3 1348L217.8 1348L219.3 1348L220.8 1348L222.3 1348L223.8 1348L225.3 1348L226.8 1348L228.3 1348L229.8 1348L231.3 1348L232.8 1348L234.3 1347.9L235.8 1347.9L237.3 1347.9L238.8 1347.8L240.3 1347.8L241.8 1347.7L243.3 1347.6L244.8 1347.6L246.3 1347.5L247.8 1347.4L249.3 1347.3L250.8 1347.2L252.3 1347.1L253.8 1347L255.3 1346.9L256.8 1346.8L258.3 1346.7L259.8 1346.6L261.3 1346.4L262.8 1346.3L264.3 1346.1L265.8 1346L267.3 1345.8L268.8 1345.7L270.3 1345.5L271.8 1345.3L273.3 1345.2L274.8 1345L276.3 1344.8L277.8 1344.6L279.3 1344.4L280.8 1344.1L282.3 1343.9L283.8 1343.7L285.3 1343.5L286.8 1343.2L288.3 1343L289.8 1342.7L291.3 1342.4L292.8 1342.2L294.3 1341.9L295.8 1341.6L297.3 1341.3L298.8 1341L300.3 1340.7L301.8 1340.3L303.3 1340L304.8 1339.6L306.3 1339.3L307.8 1338.9L309.3 1338.6L310.8 1338.2L312.3 1337.8L313.8 1337.4L315.3 1336.9L316.8 1336.5L318.3 1336.1L319.8 1335.6L321.3 1335.1L322.8 1334.7L324.3 1334.2L325.8 1333.7L327.3 1333.1L328.8 1332.6L330.3 1332L331.8 1331.5L333.3 1330.9L334.8 1330.3L336.3 1329.7L337.8 1329L339.3 1328.4L340.8 1327.7L342.3 1327L343.8 1326.3L345.3 1325.5L346.8 1324.7L348.3 1324L349.8 1323.1L351.3 1322.3L352.8 1321.4L354.3 1320.5L355.8 1319.6L357.3 1318.7L358.8 1317.7L360.3 1316.7L361.8 1315.6L363.3 1314.5L364.8 1313.4L366.3 1312.2L367.8 1311L369.3 1309.8L370.8 1308.5L372.3 1307.1L373.8 1305.7L375.3 1304.3L376.8 1302.8L378.3 1301.2L379.8 1299.6L381.3 1297.9L382.8 1296.2L384.3 1294.4L385.8 1292.5L387.3 1290.5L388.8 1288.5L390.3 1286.3L391.8 1284.1L393.3 1281.8L394.8 1279.4L396.3 1276.9L397.8 1274.3L399.3 1271.5L400.8 1268.7L402.3 1265.7L403.8 1262.6L405.3 1259.4L406.8 1256L408.3 1252.5L409.8 1248.8L411.3 1245L412.8 1241L414.3 1236.9L415.8 1232.5L417.3 1228L418.8 1223.3L420.3 1218.4L421.8 1213.4L423.3 1208.1L424.8 1202.5L426.3 1196.8L427.8 1190.9L429.3 1184.7L430.8 1178.3L432.3 1171.6L433.8 1164.8L435.3 1157.7L436.8 1150.5L438.3 1143.2L439.8 1135.9L441.3 1128.6L442.8 1121.3L444.3 1114.1L445.8 1107L447.3 1100L448.8 1093.1L450.3 1086.2L451.8 1079.3L453.3 1072.5L454.8 1065.6L456.3 1058.7L457.8 1051.8L459.3 1044.9L460.8 1037.9L462.3 1030.9L463.8 1023.9L465.3 1016.9L466.8 1009.9L468.3 1003L469.8 996.3L471.3 989.8L472.8 983.5L474.3 977.7L475.8 972.4L477.3 967.7L478.8 963.7L480.3 960.7L481.8 958.5L483.3 957L484.8 956.2L486.3 955.9L487.8 956.3L489.3 957.4L490.8 959L492.3 961.2L493.8 964L495.3 967.3L496.8 971.1L498.3 975.3L499.8 979.7L501.3 984.3L502.8 988.9L504.3 993.5L505.8 998.1L507.3 1002.7L508.8 1007.3L510.3 1011.8L511.8 1016.2L513.3 1020.6L514.8 1024.9L516.3 1029.1L517.8 1033.2L519.3 1037.3L520.8 1041.2L522.3 1045L523.8 1048.7L525.3 1052.4L526.8 1055.8L528.3 1059.2L529.8 1062.5L531.3 1065.6L532.8 1068.7L534.3 1071.6L535.8 1074.5L537.3 1077.2L538.8 1079.9L540.3 1082.4L541.8 1084.9L543.3 1087.2L544.8 1089.5L546.3 1091.6L547.8 1093.7L549.3 1095.7L550.8 1097.5L552.3 1099.3L553.8 1100.9L555.3 1102.4L556.8 1103.9L558.3 1105.2L559.8 1106.5L561.3 1107.6L562.8 1108.7L564.3 1109.6L565.8 1110.5L567.3 1111.3L568.8 1112L570.3 1112.6L571.8 1113.1L573.3 1113.6L574.8 1113.9L576.3 1114.2L577.8 1114.4L579.3 1114.6L580.8 1114.6L582.3 1114.6L583.8 1114.5L585.3 1114.3L586.8 1114L588.3 1113.7L589.8 1113.3L591.3 1112.8L592.8 1112.3L594.3 1111.6L595.8 1111L597.3 1110.2L598.8 1109.3L600.3 1108.4L601.8 1107.5L603.3 1106.4L604.8 1105.3L606.3 1104.1L607.8 1102.9L609.3 1101.5L610.8 1100.2L612.3 1098.7L613.8 1097.2L615.3 1095.7L616.8 1094L618.3 1092.4L619.8 1090.7L621.3 1088.9L622.8 1087.1L624.3 1085.3L625.8 1083.5L627.3 1081.6L628.8 1079.8L630.3 1077.9L631.8 1076L633.3 1074.1L634.8 1072.2L636.3 1070.3L637.8 1068.4L639.3 1066.6L640.8 1064.7L642.3 1062.9L643.8 1061.1L645.3 1059.4L646.8 1057.7L648.3 1056L649.8 1054.4L651.3 1052.8L652.8 1051.3L654.3 1049.8L655.8 1048.4L657.3 1047.1L658.8 1045.8L660.3 1044.6L661.8 1043.5L663.3 1042.5L664.8 1041.5L666.3 1040.6L667.8 1039.8L669.3 1039L670.8 1038.4L672.3 1037.8L673.8 1037.3L675.3 1036.9L676.8 1036.6L678.3 1036.3L679.8 1036.2L681.3 1036.1L682.8 1036.2L684.3 1036.3L685.8 1036.5L687.3 1036.8L688.8 1037.3L690.3 1037.9L691.8 1038.6L693.3 1039.4L694.8 1040.4L696.3 1041.5L697.8 1042.7L699.3 1044L700.8 1045.4L702.3 1047L703.8 1048.6L705.3 1050.4L706.8 1052.3L708.3 1054.2L709.8 1056.3L711.3 1058.5L712.8 1060.7L714.3 1063.1L715.8 1065.5L717.3 1068L718.8 1070.6L720.3 1073.2L721.8 1075.9L723.3 1078.7L724.8 1081.5L726.3 1084.4L727.8 1087.3L729.3 1090.3L730.8 1093.3L732.3 1096.3L733.8 1099.4L735.3 1102.5L736.8 1105.7L738.3 1108.8L739.8 1112L741.3 1115.2L742.8 1118.4L744.3 1121.6L745.8 1124.8L747.3 1128L748.8 1131.2L750.3 1134.4L751.8 1137.6L753.3 1140.7L754.8 1143.9L756.3 1147.1L757.8 1150.2L759.3 1153.3L760.8 1156.4L762.3 1159.5L763.8 1162.5L765.3 1165.6L766.8 1168.6L768.3 1171.5L769.8 1174.5L771.3 1177.4L772.8 1180.3L774.3 1183.1L775.8 1185.9L777.3 1188.7L778.8 1191.5L780.3 1194.2L781.8 1196.9L783.3 1199.5L784.8 1202.1L786.3 1204.7L787.8 1207.2L789.3 1209.7L790.8 1212.1L792.3 1214.6L793.8 1216.9L795.3 1219.3L796.8 1221.6L798.3 1223.8L799.8 1226.1L801.3 1228.3L802.8 1230.4L804.3 1232.5L805.8 1234.6L807.3 1236.7L808.8 1238.7L810.3 1240.6L811.8 1242.6L813.3 1244.5L814.8 1246.3L816.3 1248.2L817.8 1250L819.3 1251.7L820.8 1253.5L822.3 1255.2L823.8 1256.8L825.3 1258.5L826.8 1260.1L828.3 1261.7L829.8 1263.2L831.3 1264.7L832.8 1266.2L834.3 1267.7L835.8 1269.1L837.3 1270.5L838.8 1271.9L840.3 1273.2L841.8 1274.5L843.3 1275.8L844.8 1277.1L846.3 1278.4L847.8 1279.6L849.3 1280.8L850.8 1282L852.3 1283.1L853.8 1284.2L855.3 1285.3L856.8 1286.4L858.3 1287.5L859.8 1288.6L861.3 1289.6L862.8 1290.6L864.3 1291.6L865.8 1292.5L867.3 1293.5L868.8 1294.4L870.3 1295.3L871.8 1296.2L873.3 1297.1L874.8 1298L876.3 1298.8L877.8 1299.7L879.3 1300.5L880.8 1301.3L882.3 1302.1L883.8 1302.9L885.3 1303.6L886.8 1304.4L888.3 1305.1L889.8 1305.8L891.3 1306.5L892.8 1307.2L894.3 1307.9L895.8 1308.6L897.3 1309.3L898.8 1309.9L900.3 1310.6L901.8 1311.2L903.3 1311.8L904.8 1312.4L906.3 1313.1L907.8 1313.6L909.3 1314.2L910.8 1314.8L912.3 1315.4L913.8 1315.9L915.3 1316.5L916.8 1317.1L918.3 1317.6L919.8 1318.1L921.3 1318.7L922.8 1319.2L924.3 1319.7L925.8 1320.2L927.3 1320.7L928.8 1321.2L930.3 1321.7L931.8 1322.2L933.3 1322.7L934.8 1323.1L936.3 1323.6L937.8 1324.1L939.3 1324.5L940.8 1325L942.3 1325.4L943.8 1325.9L945.3 1326.3L946.8 1326.8L948.3 1327.2L949.8 1327.7L951.3 1328.1L952.8 1328.5L954.3 1329L955.8 1329.4L957.3 1329.8L958.8 1330.2L960.3 1330.7L961.8 1331.1L963.3 1331.5L964.8 1331.9L966.3 1332.3L967.8 1332.8L969.3 1333.2L970.8 1333.6L972.3 1334L973.8 1334.4L975.3 1334.8L976.8 1335.2L978.3 1335.6L979.8 1336.1L981.3 1336.5L982.8 1336.9L984.3 1337.3L985.8 1337.7L987.3 1338.1L988.8 1338.5L990.3 1338.9L991.8 1339.4L993.3 1339.8L994.8 1340.2L995.3 1340.3" stroke="#410064" stroke-width="2.4"/>
</g>
<line x1="994.8" y1="879.8" x2="994.8" y2="1518.2" stroke="#444" stroke-width="1.1" stroke-linecap="square"/>
<line x1="177.3" y1="1518.2" x2="994.8" y2="1518.2" stroke="#222" stroke-width="1.3" stroke-linecap="square"/>
<line x1="177.3" y1="879.8" x2="177.3" y2="1518.2" stroke="#777" stroke-width="1.2" stroke-linecap="square"/>
<line x1="177.3" y1="879.8" x2="994.8" y2="879.8" stroke="#111" stroke-width="1.4" stroke-linecap="square"/>
<line x1="251.7" y1="1518.2" x2="251.7" y2="1509.2" stroke="#1a1a1a" stroke-width="1.2"/>
<line x1="251.7" y1="879.8" x2="251.7" y2="888.8" stroke="#1a1a1a" stroke-width="1.2"/>
<text transform="translate(251.7 1571) scale(0.975 1)" font-size="39" text-anchor="middle">4</text>
<line x1="437.6" y1="1518.2" x2="437.6" y2="1509.2" stroke="#1a1a1a" stroke-width="1.2"/>
<line x1="437.6" y1="879.8" x2="437.6" y2="888.8" stroke="#1a1a1a" stroke-width="1.2"/>
<text transform="translate(437.6 1571) scale(0.975 1)" font-size="39" text-anchor="middle">4.5</text>
<line x1="623.5" y1="1518.2" x2="623.5" y2="1509.2" stroke="#1a1a1a" stroke-width="1.2"/>
<line x1="623.5" y1="879.8" x2="623.5" y2="888.8" stroke="#1a1a1a" stroke-width="1.2"/>
<text transform="translate(623.5 1571) scale(0.975 1)" font-size="39" text-anchor="middle">5</text>
<line x1="809.4" y1="1518.2" x2="809.4" y2="1509.2" stroke="#1a1a1a" stroke-width="1.2"/>
<line x1="809.4" y1="879.8" x2="809.4" y2="888.8" stroke="#1a1a1a" stroke-width="1.2"/>
<text transform="translate(809.4 1571) scale(0.975 1)" font-size="39" text-anchor="middle">5.5</text>
<text transform="translate(995.3 1571) scale(0.975 1)" font-size="39" text-anchor="middle">6</text>
<text transform="translate(164.3 1533.2) scale(0.975 1)" font-size="39" text-anchor="end">0</text>
<line x1="177.3" y1="1358.6" x2="186.3" y2="1358.6" stroke="#1a1a1a" stroke-width="1.2"/>
<line x1="994.8" y1="1358.6" x2="985.8" y2="1358.6" stroke="#1a1a1a" stroke-width="1.2"/>
<text transform="translate(164.3 1373.6) scale(0.975 1)" font-size="39" text-anchor="end">10</text>
<line x1="177.3" y1="1199" x2="186.3" y2="1199" stroke="#1a1a1a" stroke-width="1.2"/>
<line x1="994.8" y1="1199" x2="985.8" y2="1199" stroke="#1a1a1a" stroke-width="1.2"/>
<text transform="translate(164.3 1214) scale(0.975 1)" font-size="39" text-anchor="end">20</text>
<line x1="177.3" y1="1039.4" x2="186.3" y2="1039.4" stroke="#1a1a1a" stroke-width="1.2"/>
<line x1="994.8" y1="1039.4" x2="985.8" y2="1039.4" stroke="#1a1a1a" stroke-width="1.2"/>
<text transform="translate(164.3 1054.4) scale(0.975 1)" font-size="39" text-anchor="end">30</text>
<text transform="translate(164.3 894.8) scale(0.975 1)" font-size="39" text-anchor="end">40</text>
<text x="583" y="1632.5" font-size="43.4" text-anchor="middle">Wavelength (μm)</text>
<text transform="translate(91.3 1188) rotate(-90)" font-size="45" text-anchor="middle" xml:space="preserve">Scattering Cross Section  (a.u.)</text>
<text x="9" y="853.5" font-size="51" font-weight="bold">(c)</text>
<line x1="859.8" y1="925.7" x2="912" y2="925.7" stroke="#000000" stroke-width="2.4" stroke-linecap="round"/>
<text x="918" y="936.9" font-size="24.6">143K</text>
<line x1="859.8" y1="958.3" x2="912" y2="958.3" stroke="#0000ff" stroke-width="2.5" stroke-linecap="round"/>
<text x="918" y="969.5" font-size="24.6">193K</text>
<line x1="859.8" y1="990.8" x2="912" y2="990.8" stroke="#ff0000" stroke-width="2.5" stroke-linecap="round"/>
<text x="918" y="1002" font-size="24.6">243K</text>
<line x1="859.8" y1="1023.4" x2="912" y2="1023.4" stroke="#00ff00" stroke-width="2.5" stroke-linecap="round"/>
<text x="918" y="1034.6" font-size="24.6">293K</text>
<line x1="859.8" y1="1055.9" x2="912" y2="1055.9" stroke="#e08a00" stroke-width="1.9" stroke-linecap="round"/>
<text x="918" y="1067.1" font-size="24.6">343K</text>
<line x1="859.8" y1="1088.5" x2="912" y2="1088.5" stroke="#ff00ff" stroke-width="2.5" stroke-linecap="round"/>
<text x="918" y="1099.7" font-size="24.6">393K</text>
<line x1="859.8" y1="1121.1" x2="912" y2="1121.1" stroke="#00ffff" stroke-width="2.5" stroke-linecap="round"/>
<text x="918" y="1132.3" font-size="24.6">443K</text>
<line x1="859.8" y1="1153.6" x2="912" y2="1153.6" stroke="#2d5582" stroke-width="1.7" stroke-linecap="round"/>
<text x="918" y="1164.8" font-size="24.6">493K</text>
<line x1="859.8" y1="1186.2" x2="912" y2="1186.2" stroke="#a50a64" stroke-width="2.0" stroke-linecap="round"/>
<text x="918" y="1197.4" font-size="24.6">543K</text>
<line x1="859.8" y1="1218.7" x2="912" y2="1218.7" stroke="#c32800" stroke-width="2.0" stroke-linecap="round"/>
<text x="918" y="1229.9" font-size="24.6">593K</text>
<line x1="859.8" y1="1251.3" x2="912" y2="1251.3" stroke="#410064" stroke-width="1.8" stroke-linecap="round"/>
<text x="918" y="1262.5" font-size="24.6">643K</text>
<ellipse cx="485.5" cy="1024.7" rx="89.8" ry="93.1" fill="none" stroke="#000" stroke-width="3.0" stroke-dasharray="15 10.5"/>
<line x1="485.6" y1="964" x2="485.6" y2="1081" stroke="#000" stroke-width="4.0" stroke-dasharray="18 13.5"/>
<path d="M212 985.4L212 1143.5A77.7 10.7 0 0 0 367.4 1143.5L367.4 985.4A77.7 10.7 0 0 1 212 985.4z" fill="url(#gCyl)" stroke="#6a6868" stroke-width="1"/>
<path d="M212 1051.3A77.7 8.2 0 0 0 367.4 1051.3L367.4 1091A77.7 4.2 0 0 1 212 1091z" fill="url(#gCylPb)" stroke="#b09a78" stroke-width="0.9"/>
<ellipse cx="289.7" cy="985.4" rx="77.7" ry="10.7" fill="url(#gCylTop)" stroke="#8a8888" stroke-width="0.9"/>
<line x1="216.6" y1="965.5" x2="362.1" y2="965.5" stroke="#000" stroke-width="2.4" marker-start="url(#ah)" marker-end="url(#ah)"/>
<line x1="317.5" y1="999" x2="317.5" y2="1150.4" stroke="#000" stroke-width="2.4" marker-start="url(#ah)" marker-end="url(#ah)"/>
<text transform="translate(290.6 954.4) scale(1.13 1)" font-size="23.5" text-anchor="middle" font-family="'Liberation Serif', serif"><tspan font-style='italic'>d</tspan> = 1μ<tspan font-style='italic'>m</tspan></text>
<text transform="translate(330.5 1197.1) scale(1.13 1)" font-size="23.5" text-anchor="middle" font-family="'Liberation Serif', serif"><tspan font-style='italic'>h</tspan> = 2.16μ<tspan font-style='italic'>m</tspan></text>
<text x="229.5" y="1038.8" font-size="24" font-weight="bold" font-style="italic" font-family="'Liberation Serif', serif" fill="#fff">Si</text>
<text x="220.8" y="1084.5" font-size="23" font-weight="bold" font-style="italic" font-family="'Liberation Serif', serif" fill="#fff">PbTe</text>
<text x="224.7" y="1137.3" font-size="24" font-weight="bold" font-style="italic" font-family="'Liberation Serif', serif" fill="#fff">Si</text>
</g>
<g id="pd">
<clipPath id="cd"><rect x="1119.5" y="877" width="737.7" height="643.5"/></clipPath>
<g clip-path="url(#cd)" fill="none" stroke-linejoin="round">
<path d="M1119.5 947.1L1121 946.7L1122.5 946.3L1124 946L1125.5 945.6L1127 945.2L1128.5 944.8L1130 944.4L1131.5 944L1133 943.7L1134.5 943.3L1136 942.9L1137.5 942.6L1139 942.3L1140.5 941.9L1142 941.6L1143.5 941.3L1145 941.1L1146.5 940.8L1148 940.6L1149.5 940.4L1151 940.2L1152.5 940L1154 939.9L1155.5 939.8L1157 939.7L1158.5 939.7L1160 939.7L1161.5 939.7L1163 939.8L1164.5 939.9L1166 940L1167.5 940.1L1169 940.3L1170.5 940.5L1172 940.8L1173.5 941L1175 941.2L1176.5 941.5L1178 941.8L1179.5 942L1181 942.3L1182.5 942.5L1184 942.8L1185.5 943L1187 943.2L1188.5 943.4L1190 943.6L1191.5 943.8L1193 943.9L1194.5 944L1196 944.1L1197.5 944.1L1199 944.2L1200.5 944.2L1202 944.1L1203.5 944.1L1205 944L1206.5 943.9L1208 943.8L1209.5 943.6L1211 943.5L1212.5 943.3L1214 943L1215.5 942.8L1217 942.6L1218.5 942.4L1220 942.1L1221.5 941.9L1223 941.7L1224.5 941.6L1226 941.4L1227.5 941.3L1229 941.2L1230.5 941.2L1232 941.2L1233.5 941.3L1235 941.4L1236.5 941.6L1238 941.8L1239.5 942L1241 942.2L1242.5 942.4L1244 942.7L1245.5 943L1247 943.3L1248.5 943.6L1250 943.9L1251.5 944.1L1253 944.4L1254.5 944.7L1256 944.9L1257.5 945.1L1259 945.3L1260.5 945.5L1262 945.6L1263.5 945.7L1265 945.7L1266.5 945.8L1268 945.8L1269.5 945.8L1271 945.7L1272.5 945.7L1274 945.6L1275.5 945.6L1277 945.5L1278.5 945.4L1280 945.3L1281.5 945.2L1283 945.1L1284.5 945L1286 944.9L1287.5 944.8L1289 944.8L1290.5 944.7L1292 944.7L1293.5 944.7L1295 944.7L1296.5 944.7L1298 944.7L1299.5 944.8L1301 944.9L1302.5 945L1304 945.2L1305.5 945.4L1307 945.6L1308.5 945.8L1310 946.1L1311.5 946.4L1313 946.6L1314.5 946.9L1316 947.2L1317.5 947.5L1319 947.8L1320.5 948.1L1322 948.4L1323.5 948.7L1325 948.9L1326.5 949.2L1328 949.5L1329.5 949.7L1331 949.9L1332.5 950.1L1334 950.2L1335.5 950.4L1337 950.5L1338.5 950.7L1340 950.8L1341.5 950.9L1343 950.9L1344.5 951L1346 951.1L1347.5 951.2L1349 951.2L1350.5 951.3L1352 951.4L1353.5 951.4L1355 951.5L1356.5 951.6L1358 951.7L1359.5 951.8L1361 951.9L1362.5 952L1364 952.1L1365.5 952.3L1367 952.4L1368.5 952.6L1370 952.7L1371.5 952.9L1373 953.1L1374.5 953.3L1376 953.5L1377.5 953.7L1379 954L1380.5 954.2L1382 954.5L1383.5 954.7L1385 955L1386.5 955.3L1388 955.6L1389.5 955.9L1391 956.2L1392.5 956.5L1394 956.8L1395.5 957.2L1397 957.5L1398.5 957.9L1400 958.2L1401.5 958.6L1403 958.9L1404.5 959.3L1406 959.7L1407.5 960L1409 960.4L1410.5 960.8L1412 961.1L1413.5 961.5L1415 961.9L1416.5 962.2L1418 962.6L1419.5 962.9L1421 963.3L1422.5 963.6L1424 963.9L1425.5 964.2L1427 964.5L1428.5 964.8L1430 965.1L1431.5 965.4L1433 965.6L1434.5 965.9L1436 966.2L1437.5 966.4L1439 966.7L1440.5 967L1442 967.3L1443.5 967.6L1445 968L1446.5 968.3L1448 968.7L1449.5 969.2L1451 969.7L1452.5 970.2L1454 970.8L1455.5 971.4L1457 972.1L1458.5 972.9L1460 973.7L1461.5 974.6L1463 975.5L1464.5 976.5L1466 977.5L1467.5 978.6L1469 979.7L1470.5 980.8L1472 982L1473.5 983.3L1475 984.6L1476.5 985.9L1478 987.3L1479.5 988.7L1481 990.1L1482.5 991.6L1484 993.1L1485.5 994.7L1487 996.3L1488.5 997.9L1490 999.5L1491.5 1001.2L1493 1002.8L1494.5 1004.5L1496 1006.3L1497.5 1008L1499 1009.8L1500.5 1011.6L1502 1013.4L1503.5 1015.3L1505 1017.1L1506.5 1019L1508 1020.9L1509.5 1022.8L1511 1024.7L1512.5 1026.6L1514 1028.5L1515.5 1030.5L1517 1032.5L1518.5 1034.5L1520 1036.5L1521.5 1038.7L1523 1040.8L1524.5 1043.1L1526 1045.5L1527.5 1047.9L1529 1050.5L1530.5 1053.2L1532 1056L1533.5 1059L1535 1062L1536.5 1065.2L1538 1068.5L1539.5 1071.9L1541 1075.4L1542.5 1079L1544 1082.8L1545.5 1086.8L1547 1090.8L1548.5 1095L1550 1099.4L1551.5 1104L1553 1108.7L1554.5 1113.6L1556 1118.7L1557.5 1124L1559 1129.6L1560.5 1135.3L1562 1141.2L1563.5 1147.3L1565 1153.5L1566.5 1160L1568 1166.6L1569.5 1173.3L1571 1180.2L1572.5 1187.3L1574 1194.4L1575.5 1201.7L1577 1209.2L1578.5 1216.7L1580 1224.3L1581.5 1232L1583 1239.8L1584.5 1247.7L1586 1255.7L1587.5 1263.7L1589 1271.8L1590.5 1279.9L1592 1288L1593.5 1296.3L1595 1304.5L1596.5 1312.7L1598 1321L1599.5 1329.3L1601 1337.5L1602.5 1345.8L1604 1354.2L1605.5 1362.7L1607 1371.3L1608.5 1380L1610 1388.9L1611.5 1398L1613 1407.4L1614.5 1417L1616 1426.9L1617.5 1436.7L1619 1446.3L1620.5 1455.3L1622 1463.7L1623.5 1471.5L1625 1478.5L1626.5 1484.8L1628 1490.3L1629.5 1491.5L1631 1490.9L1632.5 1488.2L1634 1483.9L1635.5 1478.3L1637 1471.6L1638.5 1464.1L1640 1456L1641.5 1447.5L1643 1438.8L1644.5 1430.1L1646 1421.5L1647.5 1413.1L1649 1404.9L1650.5 1396.6L1652 1388.2L1653.5 1379.9L1655 1371.6L1656.5 1363.5L1658 1355.6L1659.5 1347.8L1661 1340.3L1662.5 1332.9L1664 1325.8L1665.5 1318.8L1667 1312.1L1668.5 1305.6L1670 1299.3L1671.5 1293.2L1673 1287.3L1674.5 1281.5L1676 1275.9L1677.5 1270.4L1679 1265.1L1680.5 1259.8L1682 1254.6L1683.5 1249.5L1685 1244.5L1686.5 1239.5L1688 1234.5L1689.5 1229.4L1691 1224.2L1692.5 1218.9L1694 1213.8L1695.5 1209L1697 1204.5L1698.5 1200.3L1700 1196.3L1701.5 1192.4L1703 1188.7L1704.5 1185L1706 1181.5L1707.5 1178.1L1709 1174.8L1710.5 1171.6L1712 1168.5L1713.5 1165.5L1715 1162.5L1716.5 1159.7L1718 1157L1719.5 1154.3L1721 1151.8L1722.5 1149.3L1724 1146.9L1725.5 1144.5L1727 1142.3L1728.5 1140.1L1730 1138L1731.5 1135.9L1733 1133.9L1734.5 1132L1736 1130.1L1737.5 1128.3L1739 1126.5L1740.5 1124.8L1742 1123.1L1743.5 1121.5L1745 1119.9L1746.5 1118.4L1748 1116.9L1749.5 1115.4L1751 1114L1752.5 1112.7L1754 1111.4L1755.5 1110.1L1757 1108.9L1758.5 1107.7L1760 1106.6L1761.5 1105.5L1763 1104.4L1764.5 1103.4L1766 1102.4L1767.5 1101.5L1769 1100.6L1770.5 1099.7L1772 1098.9L1773.5 1098.1L1775 1097.3L1776.5 1096.6L1778 1095.9L1779.5 1095.2L1781 1094.5L1782.5 1093.9L1784 1093.3L1785.5 1092.8L1787 1092.2L1788.5 1091.7L1790 1091.2L1791.5 1090.7L1793 1090.3L1794.5 1089.9L1796 1089.4L1797.5 1089.1L1799 1088.7L1800.5 1088.3L1802 1088L1803.5 1087.6L1805 1087.3L1806.5 1087L1808 1086.7L1809.5 1086.4L1811 1086.1L1812.5 1085.8L1814 1085.6L1815.5 1085.3L1817 1085L1818.5 1084.8L1820 1084.5L1821.5 1084.2L1823 1084L1824.5 1083.7L1826 1083.5L1827.5 1083.2L1829 1082.9L1830.5 1082.7L1832 1082.5L1833.5 1082.2L1835 1082L1836.5 1081.8L1838 1081.6L1839.5 1081.4L1841 1081.3L1842.5 1081.1L1844 1081L1845.5 1080.9L1847 1080.8L1848.5 1080.7L1850 1080.7L1851.5 1080.6L1853 1080.7L1854.5 1080.7L1856 1080.8L1856.5 1080.8" stroke="#0000ff" stroke-width="3.0"/>
<path d="M1119.5 954.5L1121 953.9L1122.5 953.2L1124 952.6L1125.5 952L1127 951.4L1128.5 950.8L1130 950.2L1131.5 949.6L1133 949.1L1134.5 948.6L1136 948L1137.5 947.5L1139 947.1L1140.5 946.6L1142 946.2L1143.5 945.8L1145 945.4L1146.5 945.1L1148 944.7L1149.5 944.4L1151 944.2L1152.5 944L1154 943.8L1155.5 943.6L1157 943.5L1158.5 943.4L1160 943.4L1161.5 943.3L1163 943.4L1164.5 943.5L1166 943.6L1167.5 943.7L1169 943.9L1170.5 944.1L1172 944.3L1173.5 944.6L1175 944.8L1176.5 945.1L1178 945.4L1179.5 945.7L1181 946L1182.5 946.3L1184 946.6L1185.5 946.8L1187 947.1L1188.5 947.4L1190 947.6L1191.5 947.8L1193 948L1194.5 948.1L1196 948.3L1197.5 948.3L1199 948.4L1200.5 948.4L1202 948.3L1203.5 948.3L1205 948.1L1206.5 948L1208 947.8L1209.5 947.6L1211 947.4L1212.5 947.2L1214 947L1215.5 946.7L1217 946.5L1218.5 946.2L1220 946L1221.5 945.8L1223 945.6L1224.5 945.4L1226 945.2L1227.5 945.1L1229 945L1230.5 944.9L1232 944.9L1233.5 944.9L1235 945L1236.5 945.1L1238 945.2L1239.5 945.4L1241 945.6L1242.5 945.9L1244 946.1L1245.5 946.4L1247 946.7L1248.5 947L1250 947.3L1251.5 947.6L1253 948L1254.5 948.3L1256 948.6L1257.5 948.9L1259 949.3L1260.5 949.6L1262 949.8L1263.5 950.1L1265 950.3L1266.5 950.6L1268 950.8L1269.5 950.9L1271 951.1L1272.5 951.2L1274 951.3L1275.5 951.4L1277 951.4L1278.5 951.5L1280 951.5L1281.5 951.5L1283 951.5L1284.5 951.4L1286 951.3L1287.5 951.2L1289 951.1L1290.5 951L1292 950.8L1293.5 950.6L1295 950.5L1296.5 950.3L1298 950.2L1299.5 950.1L1301 950L1302.5 950L1304 950.1L1305.5 950.1L1307 950.3L1308.5 950.4L1310 950.6L1311.5 950.9L1313 951.1L1314.5 951.4L1316 951.8L1317.5 952.1L1319 952.5L1320.5 952.9L1322 953.2L1323.5 953.7L1325 954.1L1326.5 954.5L1328 954.9L1329.5 955.3L1331 955.7L1332.5 956.2L1334 956.6L1335.5 956.9L1337 957.3L1338.5 957.7L1340 958L1341.5 958.3L1343 958.6L1344.5 958.9L1346 959.1L1347.5 959.3L1349 959.5L1350.5 959.7L1352 959.8L1353.5 960L1355 960.1L1356.5 960.2L1358 960.3L1359.5 960.5L1361 960.6L1362.5 960.7L1364 960.9L1365.5 961L1367 961.2L1368.5 961.4L1370 961.6L1371.5 961.9L1373 962.2L1374.5 962.5L1376 962.9L1377.5 963.3L1379 963.7L1380.5 964.1L1382 964.5L1383.5 965L1385 965.5L1386.5 966L1388 966.5L1389.5 967L1391 967.5L1392.5 968.1L1394 968.6L1395.5 969.1L1397 969.7L1398.5 970.2L1400 970.7L1401.5 971.2L1403 971.7L1404.5 972.2L1406 972.8L1407.5 973.3L1409 973.8L1410.5 974.4L1412 975L1413.5 975.6L1415 976.2L1416.5 976.8L1418 977.5L1419.5 978.2L1421 979L1422.5 979.7L1424 980.6L1425.5 981.4L1427 982.3L1428.5 983.2L1430 984.1L1431.5 985.1L1433 986.1L1434.5 987L1436 988L1437.5 988.9L1439 989.9L1440.5 990.8L1442 991.7L1443.5 992.6L1445 993.5L1446.5 994.3L1448 995L1449.5 995.8L1451 996.5L1452.5 997.3L1454 998L1455.5 998.8L1457 999.7L1458.5 1000.6L1460 1001.6L1461.5 1002.8L1463 1004L1464.5 1005.3L1466 1006.8L1467.5 1008.5L1469 1010.3L1470.5 1012.3L1472 1014.5L1473.5 1016.8L1475 1019.3L1476.5 1021.9L1478 1024.6L1479.5 1027.4L1481 1030.3L1482.5 1033.4L1484 1036.4L1485.5 1039.6L1487 1042.7L1488.5 1045.9L1490 1049.1L1491.5 1052.2L1493 1055.4L1494.5 1058.6L1496 1061.8L1497.5 1065L1499 1068.3L1500.5 1071.7L1502 1075.1L1503.5 1078.5L1505 1082.1L1506.5 1085.7L1508 1089.5L1509.5 1093.3L1511 1097.3L1512.5 1101.4L1514 1105.6L1515.5 1109.9L1517 1114.3L1518.5 1118.8L1520 1123.4L1521.5 1128L1523 1132.7L1524.5 1137.5L1526 1142.2L1527.5 1147L1529 1151.8L1530.5 1156.7L1532 1161.6L1533.5 1166.6L1535 1171.8L1536.5 1177.2L1538 1182.8L1539.5 1188.6L1541 1194.7L1542.5 1200.9L1544 1207.3L1545.5 1213.9L1547 1220.6L1548.5 1227.5L1550 1234.6L1551.5 1241.9L1553 1249.4L1554.5 1257.1L1556 1265L1557.5 1273.2L1559 1281.6L1560.5 1290.4L1562 1299.4L1563.5 1308.6L1565 1318.1L1566.5 1327.8L1568 1337.5L1569.5 1347.3L1571 1357.1L1572.5 1366.9L1574 1376.8L1575.5 1386.7L1577 1396.7L1578.5 1406.8L1580 1417L1581.5 1427.3L1583 1437.7L1584.5 1448.2L1586 1458.7L1587.5 1468.8L1589 1478.1L1590.5 1486.3L1592 1493.1L1593.5 1498.2L1594.5 1500.5L1596 1498.5L1597.5 1499.6L1599 1498.1L1600.5 1493.2L1602 1486.8L1603.5 1479.6L1605 1471.7L1606.5 1463.1L1608 1454.1L1609.5 1444.7L1611 1435.1L1612.5 1425.4L1614 1415.6L1615.5 1406L1617 1396.6L1618.5 1387.5L1620 1378.8L1621.5 1370.4L1623 1362.4L1624.5 1354.7L1626 1347.3L1627.5 1340.2L1629 1333.3L1630.5 1326.6L1632 1320.1L1633.5 1313.8L1635 1307.6L1636.5 1301.6L1638 1295.6L1639.5 1289.8L1641 1284L1642.5 1278.3L1644 1272.8L1645.5 1267.3L1647 1261.9L1648.5 1256.6L1650 1251.4L1651.5 1246.3L1653 1241.3L1654.5 1236.4L1656 1231.6L1657.5 1226.8L1659 1222.2L1660.5 1217.6L1662 1213.2L1663.5 1208.8L1665 1204.5L1666.5 1200.4L1668 1196.3L1669.5 1192.3L1671 1188.3L1672.5 1184.5L1674 1180.8L1675.5 1177.1L1677 1173.6L1678.5 1170.1L1680 1166.7L1681.5 1163.4L1683 1160.2L1684.5 1157.1L1686 1154.1L1687.5 1151.2L1689 1148.4L1690.5 1145.7L1692 1143L1693.5 1140.5L1695 1138.1L1696.5 1135.8L1698 1133.5L1699.5 1131.4L1701 1129.4L1702.5 1127.5L1704 1125.7L1705.5 1124L1707 1122.5L1708.5 1121L1710 1119.5L1711.5 1118.2L1713 1116.9L1714.5 1115.7L1716 1114.5L1717.5 1113.3L1719 1112.1L1720.5 1111L1722 1109.8L1723.5 1108.6L1725 1107.5L1726.5 1106.3L1728 1105.1L1729.5 1103.8L1731 1102.6L1732.5 1101.4L1734 1100.1L1735.5 1098.9L1737 1097.6L1738.5 1096.4L1740 1095.1L1741.5 1093.9L1743 1092.7L1744.5 1091.4L1746 1090.2L1747.5 1089L1749 1087.8L1750.5 1086.7L1752 1085.5L1753.5 1084.4L1755 1083.3L1756.5 1082.2L1758 1081.1L1759.5 1080.1L1761 1079.1L1762.5 1078.1L1764 1077.1L1765.5 1076.2L1767 1075.4L1768.5 1074.5L1770 1073.7L1771.5 1073L1773 1072.3L1774.5 1071.6L1776 1071L1777.5 1070.4L1779 1069.9L1780.5 1069.4L1782 1069L1783.5 1068.6L1785 1068.2L1786.5 1067.9L1788 1067.6L1789.5 1067.3L1791 1067.1L1792.5 1066.9L1794 1066.7L1795.5 1066.5L1797 1066.4L1798.5 1066.3L1800 1066.3L1801.5 1066.2L1803 1066.2L1804.5 1066.1L1806 1066.2L1807.5 1066.2L1809 1066.2L1810.5 1066.2L1812 1066.3L1813.5 1066.4L1815 1066.4L1816.5 1066.5L1818 1066.6L1819.5 1066.7L1821 1066.8L1822.5 1066.9L1824 1067L1825.5 1067.1L1827 1067.2L1828.5 1067.2L1830 1067.3L1831.5 1067.4L1833 1067.5L1834.5 1067.5L1836 1067.6L1837.5 1067.6L1839 1067.6L1840.5 1067.6L1842 1067.6L1843.5 1067.5L1845 1067.5L1846.5 1067.4L1848 1067.3L1849.5 1067.2L1851 1067L1852.5 1066.8L1854 1066.6L1855.5 1066.4L1856.5 1066.2" stroke="#0000ff" stroke-width="3.0" stroke-dasharray="17 12"/>
<path d="M1119.5 1095.6L1121 1095.5L1122.5 1095.4L1124 1095.2L1125.5 1095.1L1127 1095.1L1128.5 1095L1130 1094.9L1131.5 1094.9L1133 1094.9L1134.5 1094.9L1136 1095L1137.5 1095.1L1139 1095.2L1140.5 1095.3L1142 1095.5L1143.5 1095.7L1145 1096L1146.5 1096.3L1148 1096.6L1149.5 1097L1151 1097.4L1152.5 1097.9L1154 1098.4L1155.5 1099L1157 1099.6L1158.5 1100.2L1160 1100.8L1161.5 1101.5L1163 1102.1L1164.5 1102.8L1166 1103.4L1167.5 1104.1L1169 1104.7L1170.5 1105.3L1172 1105.9L1173.5 1106.4L1175 1106.9L1176.5 1107.3L1178 1107.7L1179.5 1108L1181 1108.3L1182.5 1108.5L1184 1108.7L1185.5 1108.8L1187 1108.9L1188.5 1108.9L1190 1108.9L1191.5 1108.9L1193 1108.9L1194.5 1108.8L1196 1108.8L1197.5 1108.8L1199 1108.8L1200.5 1108.8L1202 1108.8L1203.5 1108.9L1205 1109L1206.5 1109.2L1208 1109.4L1209.5 1109.6L1211 1110L1212.5 1110.3L1214 1110.7L1215.5 1111.1L1217 1111.6L1218.5 1112.1L1220 1112.6L1221.5 1113.1L1223 1113.6L1224.5 1114.2L1226 1114.8L1227.5 1115.3L1229 1115.9L1230.5 1116.5L1232 1117L1233.5 1117.6L1235 1118.1L1236.5 1118.6L1238 1119.1L1239.5 1119.6L1241 1120L1242.5 1120.5L1244 1120.9L1245.5 1121.3L1247 1121.7L1248.5 1122L1250 1122.4L1251.5 1122.7L1253 1123L1254.5 1123.3L1256 1123.6L1257.5 1123.9L1259 1124.1L1260.5 1124.3L1262 1124.5L1263.5 1124.7L1265 1124.9L1266.5 1125.1L1268 1125.3L1269.5 1125.4L1271 1125.6L1272.5 1125.7L1274 1125.8L1275.5 1126L1277 1126.2L1278.5 1126.3L1280 1126.5L1281.5 1126.8L1283 1127L1284.5 1127.3L1286 1127.6L1287.5 1128L1289 1128.4L1290.5 1128.8L1292 1129.3L1293.5 1129.8L1295 1130.4L1296.5 1131L1298 1131.6L1299.5 1132.3L1301 1132.9L1302.5 1133.6L1304 1134.3L1305.5 1135L1307 1135.7L1308.5 1136.4L1310 1137L1311.5 1137.7L1313 1138.3L1314.5 1138.9L1316 1139.5L1317.5 1140L1319 1140.4L1320.5 1140.9L1322 1141.2L1323.5 1141.6L1325 1141.8L1326.5 1142.1L1328 1142.3L1329.5 1142.5L1331 1142.7L1332.5 1142.9L1334 1143.1L1335.5 1143.3L1337 1143.5L1338.5 1143.7L1340 1143.9L1341.5 1144.2L1343 1144.5L1344.5 1144.8L1346 1145.1L1347.5 1145.5L1349 1145.9L1350.5 1146.4L1352 1146.8L1353.5 1147.3L1355 1147.8L1356.5 1148.3L1358 1148.8L1359.5 1149.4L1361 1149.9L1362.5 1150.5L1364 1151.1L1365.5 1151.7L1367 1152.3L1368.5 1152.9L1370 1153.6L1371.5 1154.2L1373 1154.9L1374.5 1155.5L1376 1156.2L1377.5 1156.8L1379 1157.5L1380.5 1158.2L1382 1158.8L1383.5 1159.5L1385 1160.2L1386.5 1160.8L1388 1161.5L1389.5 1162.1L1391 1162.8L1392.5 1163.4L1394 1164L1395.5 1164.6L1397 1165.2L1398.5 1165.8L1400 1166.4L1401.5 1167L1403 1167.5L1404.5 1168L1406 1168.6L1407.5 1169.1L1409 1169.6L1410.5 1170.1L1412 1170.6L1413.5 1171.1L1415 1171.6L1416.5 1172.2L1418 1172.7L1419.5 1173.2L1421 1173.8L1422.5 1174.4L1424 1174.9L1425.5 1175.5L1427 1176.2L1428.5 1176.8L1430 1177.5L1431.5 1178.2L1433 1178.9L1434.5 1179.7L1436 1180.4L1437.5 1181.2L1439 1182.1L1440.5 1182.9L1442 1183.8L1443.5 1184.7L1445 1185.6L1446.5 1186.5L1448 1187.4L1449.5 1188.4L1451 1189.3L1452.5 1190.3L1454 1191.3L1455.5 1192.3L1457 1193.3L1458.5 1194.3L1460 1195.3L1461.5 1196.3L1463 1197.3L1464.5 1198.4L1466 1199.4L1467.5 1200.5L1469 1201.5L1470.5 1202.6L1472 1203.6L1473.5 1204.7L1475 1205.8L1476.5 1206.8L1478 1207.9L1479.5 1209L1481 1210.1L1482.5 1211.2L1484 1212.3L1485.5 1213.5L1487 1214.6L1488.5 1215.7L1490 1216.9L1491.5 1218L1493 1219.2L1494.5 1220.4L1496 1221.6L1497.5 1222.8L1499 1224L1500.5 1225.3L1502 1226.5L1503.5 1227.8L1505 1229.2L1506.5 1230.5L1508 1231.9L1509.5 1233.3L1511 1234.8L1512.5 1236.3L1514 1237.8L1515.5 1239.4L1517 1241L1518.5 1242.7L1520 1244.4L1521.5 1246.2L1523 1248L1524.5 1249.8L1526 1251.8L1527.5 1253.8L1529 1255.8L1530.5 1257.9L1532 1260.1L1533.5 1262.3L1535 1264.6L1536.5 1266.9L1538 1269.2L1539.5 1271.6L1541 1274L1542.5 1276.3L1544 1278.7L1545.5 1281.1L1547 1283.4L1548.5 1285.7L1550 1288L1551.5 1290.2L1553 1292.4L1554.5 1294.6L1556 1296.7L1557.5 1298.8L1559 1301L1560.5 1303.3L1562 1305.7L1563.5 1308.1L1565 1310.7L1566.5 1313.3L1568 1316L1569.5 1318.8L1571 1321.6L1572.5 1324.4L1574 1327.3L1575.5 1330.3L1577 1333.2L1578.5 1336.2L1580 1339.2L1581.5 1342.2L1583 1345.3L1584.5 1348.3L1586 1351.4L1587.5 1354.4L1589 1357.5L1590.5 1360.6L1592 1363.6L1593.5 1366.7L1595 1369.8L1596.5 1372.8L1598 1375.8L1599.5 1378.9L1601 1381.9L1602.5 1384.9L1604 1387.9L1605.5 1390.9L1607 1393.8L1608.5 1396.7L1610 1399.6L1611.5 1402.5L1613 1405.4L1614.5 1408.2L1616 1411L1617.5 1413.8L1619 1416.6L1620.5 1419.3L1622 1422L1623.5 1424.6L1625 1427.2L1625.9 1428.8L1632.6 882.1L1634.1 884.4L1635.6 886.7L1637.1 889.2L1638.6 891.8L1640.1 894.5L1641.6 897.2L1643.1 900L1644.6 902.9L1646.1 905.8L1647.6 908.8L1649.1 911.7L1650.6 914.8L1652.1 917.8L1653.6 920.8L1655.1 923.9L1656.6 926.9L1658.1 929.9L1659.6 932.9L1661.1 935.8L1662.6 938.7L1664.1 941.6L1665.6 944.4L1667.1 947.1L1668.6 949.8L1670.1 952.5L1671.6 955.1L1673.1 957.7L1674.6 960.2L1676.1 962.6L1677.6 965L1679.1 967.4L1680.6 969.7L1682.1 972L1683.6 974.2L1685.1 976.3L1686.6 978.4L1688.1 980.5L1689.6 982.5L1691.1 984.5L1692.6 986.4L1694.1 988.3L1695.6 990.2L1697.1 992L1698.6 993.7L1700.1 995.5L1701.6 997.2L1703.1 998.8L1704.6 1000.5L1706.1 1002.1L1707.6 1003.7L1709.1 1005.2L1710.6 1006.8L1712.1 1008.3L1713.6 1009.8L1715.1 1011.3L1716.6 1012.7L1718.1 1014.2L1719.6 1015.6L1721.1 1017L1722.6 1018.4L1724.1 1019.8L1725.6 1021.2L1727.1 1022.5L1728.6 1023.9L1730.1 1025.3L1731.6 1026.6L1733.1 1028L1734.6 1029.3L1736.1 1030.7L1737.6 1032.1L1739.1 1033.4L1740.6 1034.8L1742.1 1036.2L1743.6 1037.5L1745.1 1038.9L1746.6 1040.2L1748.1 1041.6L1749.6 1043L1751.1 1044.3L1752.6 1045.6L1754.1 1047L1755.6 1048.3L1757.1 1049.6L1758.6 1050.9L1760.1 1052.3L1761.6 1053.6L1763.1 1054.8L1764.6 1056.1L1766.1 1057.4L1767.6 1058.6L1769.1 1059.9L1770.6 1061.1L1772.1 1062.3L1773.6 1063.5L1775.1 1064.7L1776.6 1065.9L1778.1 1067L1779.6 1068.2L1781.1 1069.3L1782.6 1070.4L1784.1 1071.4L1785.6 1072.5L1787.1 1073.5L1788.6 1074.6L1790.1 1075.6L1791.6 1076.5L1793.1 1077.5L1794.6 1078.5L1796.1 1079.4L1797.6 1080.3L1799.1 1081.2L1800.6 1082.1L1802.1 1083L1803.6 1083.9L1805.1 1084.8L1806.6 1085.6L1808.1 1086.5L1809.6 1087.3L1811.1 1088.2L1812.6 1089L1814.1 1089.9L1815.6 1090.7L1817.1 1091.6L1818.6 1092.4L1820.1 1093.2L1821.6 1094.1L1823.1 1094.9L1824.6 1095.7L1826.1 1096.5L1827.6 1097.4L1829.1 1098.2L1830.6 1099L1832.1 1099.8L1833.6 1100.7L1835.1 1101.5L1836.6 1102.3L1838.1 1103.1L1839.6 1104L1841.1 1104.8L1842.6 1105.6L1844.1 1106.4L1845.6 1107.3L1847.1 1108.1L1848.6 1108.9L1850.1 1109.8L1851.6 1110.6L1853.1 1111.5L1854.6 1112.3L1856.1 1113.2L1856.5 1113.4" stroke="#e08c00" stroke-width="2.4" stroke-linejoin="miter"/>
<path d="M1119.5 1101.5L1121 1101.4L1122.5 1101.3L1124 1101.1L1125.5 1100.9L1127 1100.6L1128.5 1100.3L1130 1100.1L1131.5 1099.8L1133 1099.5L1134.5 1099.3L1136 1099.1L1137.5 1098.9L1139 1098.7L1140.5 1098.6L1142 1098.6L1143.5 1098.6L1145 1098.7L1146.5 1098.8L1148 1099.1L1149.5 1099.4L1151 1099.8L1152.5 1100.2L1154 1100.7L1155.5 1101.3L1157 1101.9L1158.5 1102.5L1160 1103.2L1161.5 1103.9L1163 1104.6L1164.5 1105.4L1166 1106.1L1167.5 1106.8L1169 1107.6L1170.5 1108.3L1172 1109L1173.5 1109.7L1175 1110.3L1176.5 1110.9L1178 1111.5L1179.5 1112L1181 1112.5L1182.5 1113L1184 1113.4L1185.5 1113.8L1187 1114.2L1188.5 1114.5L1190 1114.8L1191.5 1115L1193 1115.3L1194.5 1115.5L1196 1115.7L1197.5 1115.8L1199 1115.9L1200.5 1116L1202 1116.1L1203.5 1116.1L1205 1116.1L1206.5 1116.1L1208 1116.1L1209.5 1116.2L1211 1116.2L1212.5 1116.2L1214 1116.3L1215.5 1116.3L1217 1116.5L1218.5 1116.6L1220 1116.8L1221.5 1117L1223 1117.3L1224.5 1117.6L1226 1118L1227.5 1118.5L1229 1119L1230.5 1119.6L1232 1120.2L1233.5 1120.8L1235 1121.5L1236.5 1122.2L1238 1122.9L1239.5 1123.7L1241 1124.4L1242.5 1125.2L1244 1125.9L1245.5 1126.6L1247 1127.4L1248.5 1128.1L1250 1128.7L1251.5 1129.4L1253 1130L1254.5 1130.6L1256 1131.1L1257.5 1131.6L1259 1132L1260.5 1132.3L1262 1132.6L1263.5 1132.8L1265 1133L1266.5 1133.2L1268 1133.3L1269.5 1133.5L1271 1133.6L1272.5 1133.6L1274 1133.7L1275.5 1133.8L1277 1133.9L1278.5 1134L1280 1134.1L1281.5 1134.2L1283 1134.4L1284.5 1134.6L1286 1134.8L1287.5 1135L1289 1135.3L1290.5 1135.7L1292 1136L1293.5 1136.4L1295 1136.8L1296.5 1137.3L1298 1137.8L1299.5 1138.3L1301 1138.9L1302.5 1139.4L1304 1140L1305.5 1140.7L1307 1141.4L1308.5 1142.1L1310 1142.8L1311.5 1143.6L1313 1144.4L1314.5 1145.2L1316 1146L1317.5 1146.7L1319 1147.5L1320.5 1148.3L1322 1149L1323.5 1149.7L1325 1150.3L1326.5 1150.9L1328 1151.5L1329.5 1152L1331 1152.5L1332.5 1153L1334 1153.4L1335.5 1153.9L1337 1154.3L1338.5 1154.7L1340 1155L1341.5 1155.4L1343 1155.7L1344.5 1156.1L1346 1156.4L1347.5 1156.8L1349 1157.1L1350.5 1157.4L1352 1157.8L1353.5 1158.1L1355 1158.5L1356.5 1158.9L1358 1159.3L1359.5 1159.7L1361 1160.1L1362.5 1160.6L1364 1161L1365.5 1161.6L1367 1162.1L1368.5 1162.7L1370 1163.3L1371.5 1163.9L1373 1164.6L1374.5 1165.3L1376 1166.1L1377.5 1166.9L1379 1167.7L1380.5 1168.6L1382 1169.5L1383.5 1170.4L1385 1171.3L1386.5 1172.3L1388 1173.2L1389.5 1174.2L1391 1175.1L1392.5 1176L1394 1177L1395.5 1177.9L1397 1178.8L1398.5 1179.6L1400 1180.4L1401.5 1181.2L1403 1182L1404.5 1182.8L1406 1183.5L1407.5 1184.2L1409 1185L1410.5 1185.7L1412 1186.4L1413.5 1187L1415 1187.7L1416.5 1188.4L1418 1189.2L1419.5 1189.9L1421 1190.6L1422.5 1191.4L1424 1192.1L1425.5 1192.9L1427 1193.7L1428.5 1194.5L1430 1195.4L1431.5 1196.3L1433 1197.2L1434.5 1198.1L1436 1199L1437.5 1200L1439 1201L1440.5 1202L1442 1203L1443.5 1204.1L1445 1205.2L1446.5 1206.3L1448 1207.4L1449.5 1208.6L1451 1209.7L1452.5 1210.9L1454 1212.2L1455.5 1213.4L1457 1214.7L1458.5 1216L1460 1217.3L1461.5 1218.7L1463 1220L1464.5 1221.5L1466 1222.9L1467.5 1224.3L1469 1225.8L1470.5 1227.3L1472 1228.8L1473.5 1230.4L1475 1232L1476.5 1233.6L1478 1235.2L1479.5 1236.8L1481 1238.5L1482.5 1240.1L1484 1241.8L1485.5 1243.5L1487 1245.3L1488.5 1247L1490 1248.8L1491.5 1250.6L1493 1252.4L1494.5 1254.2L1496 1256L1497.5 1257.8L1499 1259.7L1500.5 1261.5L1502 1263.4L1503.5 1265.3L1505 1267.2L1506.5 1269.1L1508 1271L1509.5 1273L1511 1274.9L1512.5 1276.9L1514 1278.9L1515.5 1281L1517 1283.1L1518.5 1285.2L1520 1287.4L1521.5 1289.7L1523 1292L1524.5 1294.4L1526 1296.9L1527.5 1299.5L1529 1302.2L1530.5 1305L1532 1307.8L1533.5 1310.8L1535 1313.8L1536.5 1316.9L1538 1320L1539.5 1323.1L1541 1326.3L1542.5 1329.4L1544 1332.5L1545.5 1335.5L1547 1338.5L1548.5 1341.3L1550 1344.1L1551.5 1346.8L1553 1349.3L1554.5 1351.8L1556 1354.2L1557.5 1356.8L1559 1359.5L1560.5 1362.6L1562 1366L1563.5 1369.6L1565 1373.4L1566.5 1377.4L1568 1381.4L1569.5 1385.3L1571 1389.2L1572.5 1393.1L1574 1396.9L1575.5 1400.7L1577 1404.5L1578.5 1408.2L1580 1411.9L1581.5 1415.5L1583 1419.2L1584.5 1422.8L1586 1426.4L1587.5 1430L1602.5 884.2L1604 887.4L1605.5 890.5L1607 893.6L1608.5 896.7L1610 899.8L1611.5 902.8L1613 905.8L1614.5 908.7L1616 911.7L1617.5 914.5L1619 917.4L1620.5 920.2L1622 922.9L1623.5 925.6L1625 928.3L1626.5 931L1628 933.5L1629.5 936.1L1631 938.6L1632.5 941.1L1634 943.5L1635.5 945.9L1637 948.2L1638.5 950.5L1640 952.8L1641.5 955L1643 957.2L1644.5 959.3L1646 961.4L1647.5 963.5L1649 965.5L1650.5 967.5L1652 969.5L1653.5 971.4L1655 973.4L1656.5 975.2L1658 977.1L1659.5 978.9L1661 980.7L1662.5 982.5L1664 984.3L1665.5 986.1L1667 987.8L1668.5 989.5L1670 991.2L1671.5 992.9L1673 994.6L1674.5 996.3L1676 998L1677.5 999.6L1679 1001.3L1680.5 1002.9L1682 1004.5L1683.5 1006.1L1685 1007.7L1686.5 1009.3L1688 1010.9L1689.5 1012.4L1691 1014L1692.5 1015.5L1694 1017L1695.5 1018.5L1697 1019.9L1698.5 1021.4L1700 1022.8L1701.5 1024.2L1703 1025.6L1704.5 1027L1706 1028.3L1707.5 1029.6L1709 1031L1710.5 1032.2L1712 1033.5L1713.5 1034.7L1715 1035.9L1716.5 1037.1L1718 1038.3L1719.5 1039.4L1721 1040.6L1722.5 1041.7L1724 1042.8L1725.5 1043.8L1727 1044.9L1728.5 1045.9L1730 1047L1731.5 1048L1733 1049L1734.5 1050L1736 1051L1737.5 1052L1739 1052.9L1740.5 1053.9L1742 1054.9L1743.5 1055.8L1745 1056.8L1746.5 1057.7L1748 1058.7L1749.5 1059.6L1751 1060.6L1752.5 1061.5L1754 1062.5L1755.5 1063.4L1757 1064.4L1758.5 1065.4L1760 1066.3L1761.5 1067.3L1763 1068.2L1764.5 1069.2L1766 1070.2L1767.5 1071.1L1769 1072.1L1770.5 1073L1772 1074L1773.5 1074.9L1775 1075.9L1776.5 1076.8L1778 1077.8L1779.5 1078.7L1781 1079.7L1782.5 1080.6L1784 1081.5L1785.5 1082.4L1787 1083.3L1788.5 1084.2L1790 1085.1L1791.5 1086L1793 1086.9L1794.5 1087.7L1796 1088.6L1797.5 1089.4L1799 1090.3L1800.5 1091.1L1802 1091.9L1803.5 1092.7L1805 1093.5L1806.5 1094.3L1808 1095.1L1809.5 1095.8L1811 1096.6L1812.5 1097.3L1814 1098.1L1815.5 1098.8L1817 1099.5L1818.5 1100.2L1820 1101L1821.5 1101.6L1823 1102.3L1824.5 1103L1826 1103.7L1827.5 1104.3L1829 1105L1830.5 1105.6L1832 1106.3L1833.5 1106.9L1835 1107.5L1836.5 1108.1L1838 1108.7L1839.5 1109.3L1841 1109.9L1842.5 1110.5L1844 1111L1845.5 1111.6L1847 1112.2L1848.5 1112.7L1850 1113.2L1851.5 1113.8L1853 1114.3L1854.5 1114.8L1856 1115.3L1856.5 1115.5" stroke="#e08c00" stroke-width="2.4" stroke-linejoin="miter" stroke-dasharray="13 13"/>
</g>
<line x1="1856.2" y1="877" x2="1856.2" y2="1520.5" stroke="#f2c26b" stroke-width="1.4" stroke-linecap="square"/>
<line x1="1119.5" y1="1520.5" x2="1856.2" y2="1520.5" stroke="#222" stroke-width="1.4" stroke-linecap="square"/>
<line x1="1119.5" y1="877" x2="1119.5" y2="1520.5" stroke="#777" stroke-width="1.3" stroke-linecap="square"/>
<line x1="1119.5" y1="877" x2="1856.2" y2="877" stroke="#222" stroke-width="1.4" stroke-linecap="square"/>
<text transform="translate(1119.5 1573) scale(0.915 1)" font-size="38" text-anchor="middle">4.2</text>
<line x1="1224.7" y1="1520.5" x2="1224.7" y2="1512.5" stroke="#1a1a1a" stroke-width="1.2"/>
<line x1="1224.7" y1="877" x2="1224.7" y2="885" stroke="#1a1a1a" stroke-width="1.2"/>
<text transform="translate(1224.7 1573) scale(0.915 1)" font-size="38" text-anchor="middle">4.3</text>
<line x1="1330" y1="1520.5" x2="1330" y2="1512.5" stroke="#1a1a1a" stroke-width="1.2"/>
<line x1="1330" y1="877" x2="1330" y2="885" stroke="#1a1a1a" stroke-width="1.2"/>
<text transform="translate(1330 1573) scale(0.915 1)" font-size="38" text-anchor="middle">4.4</text>
<line x1="1435.2" y1="1520.5" x2="1435.2" y2="1512.5" stroke="#1a1a1a" stroke-width="1.2"/>
<line x1="1435.2" y1="877" x2="1435.2" y2="885" stroke="#1a1a1a" stroke-width="1.2"/>
<text transform="translate(1435.2 1573) scale(0.915 1)" font-size="38" text-anchor="middle">4.5</text>
<line x1="1540.5" y1="1520.5" x2="1540.5" y2="1512.5" stroke="#1a1a1a" stroke-width="1.2"/>
<line x1="1540.5" y1="877" x2="1540.5" y2="885" stroke="#1a1a1a" stroke-width="1.2"/>
<text transform="translate(1540.5 1573) scale(0.915 1)" font-size="38" text-anchor="middle">4.6</text>
<line x1="1645.7" y1="1520.5" x2="1645.7" y2="1512.5" stroke="#1a1a1a" stroke-width="1.2"/>
<line x1="1645.7" y1="877" x2="1645.7" y2="885" stroke="#1a1a1a" stroke-width="1.2"/>
<text transform="translate(1645.7 1573) scale(0.915 1)" font-size="38" text-anchor="middle">4.7</text>
<line x1="1750.9" y1="1520.5" x2="1750.9" y2="1512.5" stroke="#1a1a1a" stroke-width="1.2"/>
<line x1="1750.9" y1="877" x2="1750.9" y2="885" stroke="#1a1a1a" stroke-width="1.2"/>
<text transform="translate(1750.9 1573) scale(0.915 1)" font-size="38" text-anchor="middle">4.8</text>
<text transform="translate(1856.2 1573) scale(0.915 1)" font-size="38" text-anchor="middle">4.9</text>
<text transform="translate(1109 1536) scale(0.915 1)" font-size="38" text-anchor="end">0</text>
<line x1="1119.5" y1="1403.7" x2="1127.5" y2="1403.7" stroke="#1a1a1a" stroke-width="1.2"/>
<text transform="translate(1109 1419.2) scale(0.915 1)" font-size="38" text-anchor="end">0.2</text>
<line x1="1119.5" y1="1286.9" x2="1127.5" y2="1286.9" stroke="#1a1a1a" stroke-width="1.2"/>
<text transform="translate(1109 1302.4) scale(0.915 1)" font-size="38" text-anchor="end">0.4</text>
<line x1="1119.5" y1="1170.1" x2="1127.5" y2="1170.1" stroke="#1a1a1a" stroke-width="1.2"/>
<text transform="translate(1109 1185.6) scale(0.915 1)" font-size="38" text-anchor="end">0.6</text>
<line x1="1119.5" y1="1053.3" x2="1127.5" y2="1053.3" stroke="#1a1a1a" stroke-width="1.2"/>
<text transform="translate(1109 1068.8) scale(0.915 1)" font-size="38" text-anchor="end">0.8</text>
<line x1="1119.5" y1="936.5" x2="1127.5" y2="936.5" stroke="#1a1a1a" stroke-width="1.2"/>
<text transform="translate(1109 952) scale(0.915 1)" font-size="38" text-anchor="end">1</text>
<line x1="1856.2" y1="956.4" x2="1848.2" y2="956.4" stroke="#e08c00" stroke-width="1.2"/>
<text transform="translate(1869 970.9) scale(0.9 1)" font-size="38.5" fill="#e08c00"><tspan font-family="'Liberation Serif', serif" font-style="italic">π</tspan>/2</text>
<line x1="1856.2" y1="1100.7" x2="1848.2" y2="1100.7" stroke="#e08c00" stroke-width="1.2"/>
<text transform="translate(1869 1115.2) scale(0.9 1)" font-size="38.5" fill="#e08c00"><tspan font-family="'Liberation Serif', serif" font-style="italic">π</tspan>/4</text>
<line x1="1856.2" y1="1245" x2="1848.2" y2="1245" stroke="#e08c00" stroke-width="1.2"/>
<text transform="translate(1869 1259.5) scale(0.9 1)" font-size="38.5" fill="#e08c00">0</text>
<line x1="1856.2" y1="1389.3" x2="1848.2" y2="1389.3" stroke="#e08c00" stroke-width="1.2"/>
<text transform="translate(1869 1403.8) scale(0.9 1)" font-size="38.5" fill="#e08c00">-<tspan font-family="'Liberation Serif', serif" font-style="italic">π</tspan>/4</text>
<text x="1506" y="1629.5" font-size="43.2" text-anchor="middle">Wavelength (μm)</text>
<text transform="translate(1043.6 1199.5) rotate(-90)" font-size="43.2" text-anchor="middle" fill="#0000ff">Field Amplitude</text>
<text transform="translate(1982 1193.5) rotate(-90)" font-size="45.4" text-anchor="middle" fill="#fba30a">Phase (rad)</text>
<text x="1032" y="853.5" font-size="51" font-weight="bold">(d)</text>
<line x1="1153.3" y1="1317.9" x2="1197.4" y2="1317.9" stroke="#0000ff" stroke-width="2.4"/>
<text x="1201.3" y="1331.9" font-size="33">Amp 143K</text>
<line x1="1153.3" y1="1361.4" x2="1197.4" y2="1361.4" stroke="#0000ff" stroke-width="2.4" stroke-dasharray="10.8 6.4"/>
<text x="1201.3" y="1375.4" font-size="33">Amp 643K</text>
<line x1="1153.3" y1="1404.9" x2="1197.4" y2="1404.9" stroke="#e08c00" stroke-width="1.8"/>
<text x="1201.3" y="1418.9" font-size="33">phase 143K</text>
<line x1="1153.3" y1="1448.4" x2="1197.4" y2="1448.4" stroke="#e08c00" stroke-width="1.8" stroke-dasharray="10.8 6.4"/>
<text x="1201.3" y="1462.4" font-size="33">phase 643K</text>
</g>
</svg></body></html>
